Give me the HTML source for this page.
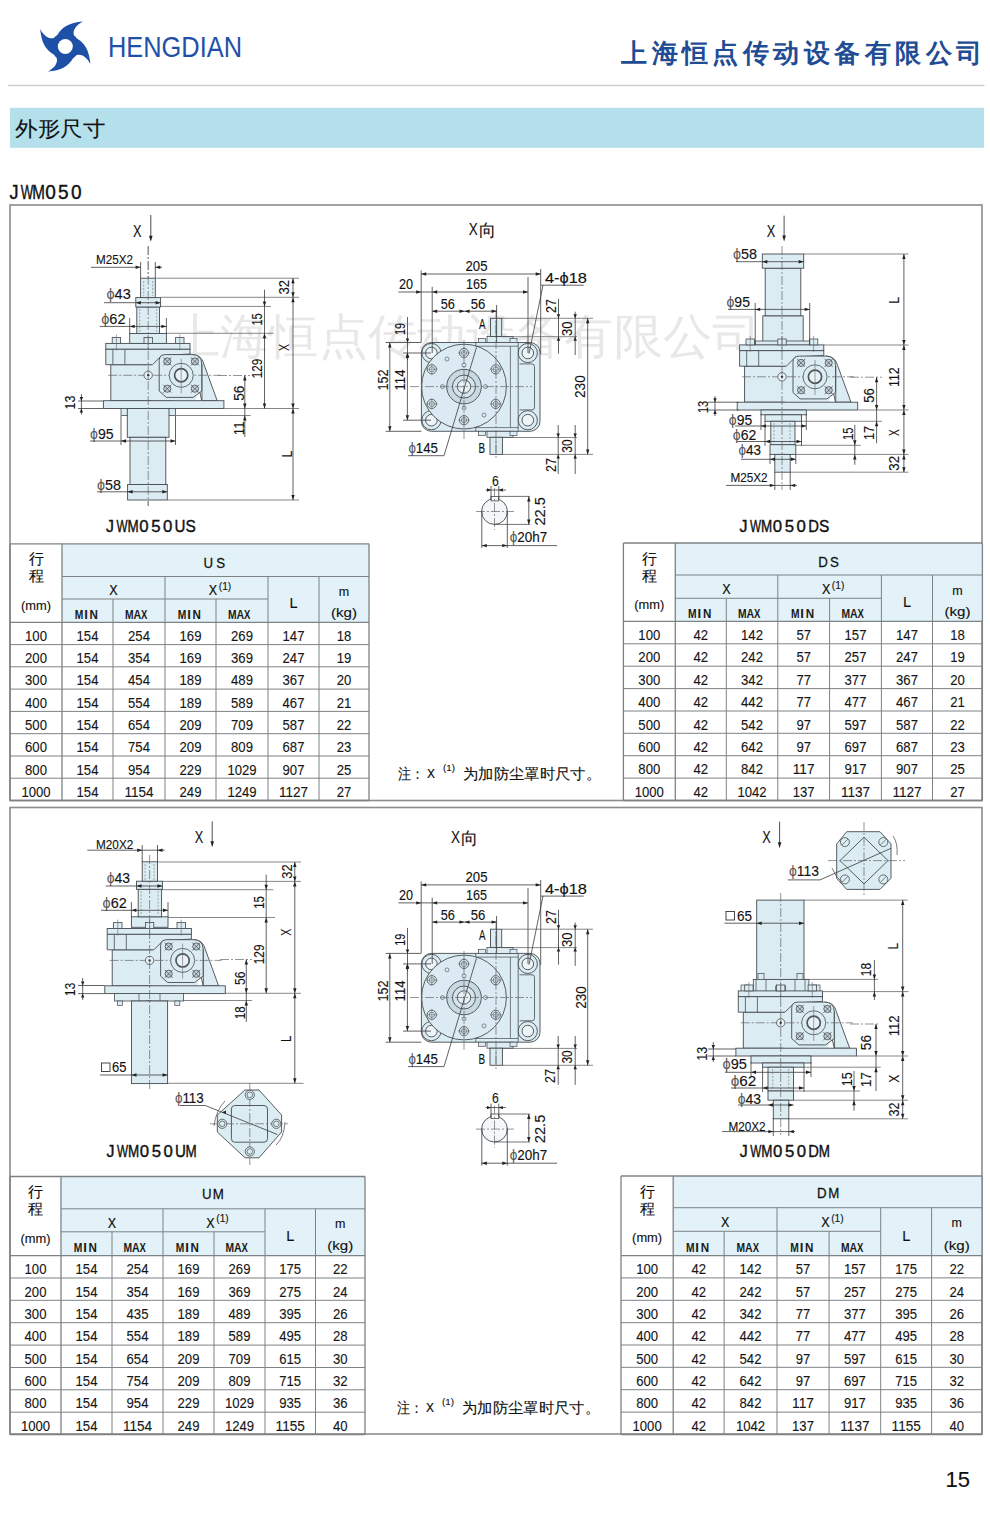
<!DOCTYPE html><html><head><meta charset="utf-8"><style>html,body{margin:0;padding:0;background:#fff;}svg{display:block}</style></head><body>
<svg width="990" height="1513" viewBox="0 0 990 1513">
<rect x="0.0" y="0.0" width="990.0" height="1513.0" fill="#fff" stroke="none" stroke-width="1"/>
<g fill="#1f50a8">
<path transform="translate(65.3,46.5) rotate(0)" d="M 0 0 L -7.9 -11.5 C -3.5 -19.5 4 -24 17.6 -25.1 C 10.5 -21.5 7.2 -16 8.6 -11.5 C 9.5 -9 10.5 -8.3 11.5 -7.9 Z"/>
<path transform="translate(65.3,46.5) rotate(90)" d="M 0 0 L -7.9 -11.5 C -3.5 -19.5 4 -24 17.6 -25.1 C 10.5 -21.5 7.2 -16 8.6 -11.5 C 9.5 -9 10.5 -8.3 11.5 -7.9 Z"/>
<path transform="translate(65.3,46.5) rotate(180)" d="M 0 0 L -7.9 -11.5 C -3.5 -19.5 4 -24 17.6 -25.1 C 10.5 -21.5 7.2 -16 8.6 -11.5 C 9.5 -9 10.5 -8.3 11.5 -7.9 Z"/>
<path transform="translate(65.3,46.5) rotate(270)" d="M 0 0 L -7.9 -11.5 C -3.5 -19.5 4 -24 17.6 -25.1 C 10.5 -21.5 7.2 -16 8.6 -11.5 C 9.5 -9 10.5 -8.3 11.5 -7.9 Z"/>
<circle cx="65.3" cy="46.5" r="14"/>
</g>
<circle cx="65.3" cy="46.5" r="7.5" fill="#fff"/>
<text x="108.0" y="56.8" font-size="29" text-anchor="start" fill="#1f50a8" style="font-family:'Liberation Sans',sans-serif;font-weight:normal;" textLength="134" lengthAdjust="spacingAndGlyphs">HENGDIAN</text>
<text x="634.0" y="62.0" font-size="26" text-anchor="middle" fill="#1f4c94" style="font-family:'Liberation Sans',sans-serif;font-weight:bold;">上</text>
<text x="664.5" y="62.0" font-size="26" text-anchor="middle" fill="#1f4c94" style="font-family:'Liberation Sans',sans-serif;font-weight:bold;">海</text>
<text x="694.9" y="62.0" font-size="26" text-anchor="middle" fill="#1f4c94" style="font-family:'Liberation Sans',sans-serif;font-weight:bold;">恒</text>
<text x="725.4" y="62.0" font-size="26" text-anchor="middle" fill="#1f4c94" style="font-family:'Liberation Sans',sans-serif;font-weight:bold;">点</text>
<text x="755.8" y="62.0" font-size="26" text-anchor="middle" fill="#1f4c94" style="font-family:'Liberation Sans',sans-serif;font-weight:bold;">传</text>
<text x="786.2" y="62.0" font-size="26" text-anchor="middle" fill="#1f4c94" style="font-family:'Liberation Sans',sans-serif;font-weight:bold;">动</text>
<text x="816.7" y="62.0" font-size="26" text-anchor="middle" fill="#1f4c94" style="font-family:'Liberation Sans',sans-serif;font-weight:bold;">设</text>
<text x="847.1" y="62.0" font-size="26" text-anchor="middle" fill="#1f4c94" style="font-family:'Liberation Sans',sans-serif;font-weight:bold;">备</text>
<text x="877.6" y="62.0" font-size="26" text-anchor="middle" fill="#1f4c94" style="font-family:'Liberation Sans',sans-serif;font-weight:bold;">有</text>
<text x="908.0" y="62.0" font-size="26" text-anchor="middle" fill="#1f4c94" style="font-family:'Liberation Sans',sans-serif;font-weight:bold;">限</text>
<text x="938.5" y="62.0" font-size="26" text-anchor="middle" fill="#1f4c94" style="font-family:'Liberation Sans',sans-serif;font-weight:bold;">公</text>
<text x="969.0" y="62.0" font-size="26" text-anchor="middle" fill="#1f4c94" style="font-family:'Liberation Sans',sans-serif;font-weight:bold;">司</text>
<line x1="8.0" y1="85.5" x2="984.5" y2="85.5" stroke="#cfcfcf" stroke-width="1.6"/>
<rect x="10.0" y="107.8" width="974.0" height="40.0" fill="#b4e0ec" stroke="none" stroke-width="1"/>
<text x="15.0" y="136.0" font-size="21" text-anchor="start" fill="#111" style="font-family:'Liberation Sans',sans-serif;font-weight:normal;stroke:#111;stroke-width:0.12px;" textLength="90" lengthAdjust="spacingAndGlyphs">外形尺寸</text>
<text transform="translate(13.9,198.5) scale(0.926,1)" font-size="19.5" text-anchor="middle" fill="#111" style="font-family:'Liberation Sans',sans-serif;stroke:#111;stroke-width:0.4px">J</text>
<text transform="translate(27.0,198.5) scale(0.682,1)" font-size="19.5" text-anchor="middle" fill="#111" style="font-family:'Liberation Sans',sans-serif;stroke:#111;stroke-width:0.4px">W</text>
<text transform="translate(38.6,198.5) scale(0.780,1)" font-size="19.5" text-anchor="middle" fill="#111" style="font-family:'Liberation Sans',sans-serif;stroke:#111;stroke-width:0.4px">M</text>
<text transform="translate(50.5,198.5) scale(0.975,1)" font-size="19.5" text-anchor="middle" fill="#111" style="font-family:'Liberation Sans',sans-serif;stroke:#111;stroke-width:0.4px">0</text>
<text transform="translate(63.4,198.5) scale(0.975,1)" font-size="19.5" text-anchor="middle" fill="#111" style="font-family:'Liberation Sans',sans-serif;stroke:#111;stroke-width:0.4px">5</text>
<text transform="translate(76.3,198.5) scale(0.975,1)" font-size="19.5" text-anchor="middle" fill="#111" style="font-family:'Liberation Sans',sans-serif;stroke:#111;stroke-width:0.4px">0</text>
<rect x="10.0" y="205.0" width="972.0" height="595.5" fill="none" stroke="#8c8c8c" stroke-width="1.6"/>
<rect x="10.0" y="807.5" width="972.0" height="626.5" fill="none" stroke="#8c8c8c" stroke-width="1.6"/>
<text x="171.0" y="352.5" font-size="48" text-anchor="start" fill="#e8e8e8" style="font-family:'Liberation Sans',sans-serif;font-weight:normal;" textLength="590" lengthAdjust="spacingAndGlyphs">上海恒点传动设备有限公司</text>
<rect x="62.0" y="543.8" width="307.0" height="78.5" fill="#e2f2f8" stroke="none" stroke-width="1"/>
<line x1="10.0" y1="543.8" x2="369.0" y2="543.8" stroke="#7d8285" stroke-width="1.3"/>
<line x1="62.0" y1="576.5" x2="369.0" y2="576.5" stroke="#7d8285" stroke-width="1"/>
<line x1="62.0" y1="599.0" x2="268.0" y2="599.0" stroke="#7d8285" stroke-width="1"/>
<line x1="10.0" y1="622.3" x2="369.0" y2="622.3" stroke="#7d8285" stroke-width="1.3"/>
<line x1="10.0" y1="644.6" x2="369.0" y2="644.6" stroke="#7d8285" stroke-width="1"/>
<line x1="10.0" y1="666.8" x2="369.0" y2="666.8" stroke="#7d8285" stroke-width="1"/>
<line x1="10.0" y1="689.1" x2="369.0" y2="689.1" stroke="#7d8285" stroke-width="1"/>
<line x1="10.0" y1="711.4" x2="369.0" y2="711.4" stroke="#7d8285" stroke-width="1"/>
<line x1="10.0" y1="733.7" x2="369.0" y2="733.7" stroke="#7d8285" stroke-width="1"/>
<line x1="10.0" y1="756.0" x2="369.0" y2="756.0" stroke="#7d8285" stroke-width="1"/>
<line x1="10.0" y1="778.2" x2="369.0" y2="778.2" stroke="#7d8285" stroke-width="1"/>
<line x1="10.0" y1="800.5" x2="369.0" y2="800.5" stroke="#7d8285" stroke-width="1.5"/>
<line x1="10.0" y1="543.8" x2="10.0" y2="800.5" stroke="#7d8285" stroke-width="1.3"/>
<line x1="369.0" y1="543.8" x2="369.0" y2="800.5" stroke="#7d8285" stroke-width="1.3"/>
<line x1="62.0" y1="543.8" x2="62.0" y2="800.5" stroke="#7d8285" stroke-width="1.3"/>
<line x1="165.0" y1="576.5" x2="165.0" y2="800.5" stroke="#7d8285" stroke-width="1"/>
<line x1="268.0" y1="576.5" x2="268.0" y2="800.5" stroke="#7d8285" stroke-width="1"/>
<line x1="319.0" y1="576.5" x2="319.0" y2="800.5" stroke="#7d8285" stroke-width="1"/>
<line x1="113.0" y1="599.0" x2="113.0" y2="800.5" stroke="#7d8285" stroke-width="1"/>
<line x1="216.0" y1="599.0" x2="216.0" y2="800.5" stroke="#7d8285" stroke-width="1"/>
<text x="36.0" y="564.3" font-size="15" text-anchor="middle" fill="#111" style="font-family:'Liberation Sans',sans-serif;font-weight:normal;stroke:#111;stroke-width:0.12px;">行</text>
<text x="36.0" y="581.3" font-size="15" text-anchor="middle" fill="#111" style="font-family:'Liberation Sans',sans-serif;font-weight:normal;stroke:#111;stroke-width:0.12px;">程</text>
<text x="36.0" y="609.8" font-size="12" text-anchor="middle" fill="#111" style="font-family:'Liberation Sans',sans-serif;font-weight:normal;stroke:#111;stroke-width:0.12px;" textLength="30" lengthAdjust="spacingAndGlyphs">(mm)</text>
<text transform="translate(208.2,567.5) scale(0.95,1)" font-size="14" text-anchor="middle" fill="#111" style="font-family:'Liberation Sans',sans-serif;stroke:#111;stroke-width:0.25px">U</text>
<text transform="translate(220.8,567.5) scale(0.95,1)" font-size="14" text-anchor="middle" fill="#111" style="font-family:'Liberation Sans',sans-serif;stroke:#111;stroke-width:0.25px">S</text>
<text x="113.5" y="595.0" font-size="14" text-anchor="middle" fill="#111" style="font-family:'Liberation Mono',monospace;font-weight:normal;stroke:#111;stroke-width:0.12px;">X</text>
<text x="213.0" y="595.0" font-size="14" text-anchor="middle" fill="#111" style="font-family:'Liberation Mono',monospace;font-weight:normal;stroke:#111;stroke-width:0.12px;">X</text>
<text x="225.0" y="589.5" font-size="10" text-anchor="middle" fill="#111" style="font-family:'Liberation Sans',sans-serif;font-weight:normal;stroke:#111;stroke-width:0.1px;" textLength="12.5" lengthAdjust="spacingAndGlyphs">(1)</text>
<text transform="translate(79.1,619.0) scale(0.78,1)" font-size="13.2" text-anchor="middle" fill="#1a1a1a" style="font-family:'Liberation Sans',sans-serif;font-weight:bold">M</text>
<text transform="translate(86.0,619.0) scale(1.0,1)" font-size="13.2" text-anchor="middle" fill="#1a1a1a" style="font-family:'Liberation Sans',sans-serif;font-weight:bold">I</text>
<text transform="translate(93.8,619.0) scale(0.88,1)" font-size="13.2" text-anchor="middle" fill="#1a1a1a" style="font-family:'Liberation Sans',sans-serif;font-weight:bold">N</text>
<text transform="translate(129.3,619.0) scale(0.78,1)" font-size="13.2" text-anchor="middle" fill="#1a1a1a" style="font-family:'Liberation Sans',sans-serif;font-weight:bold">M</text>
<text transform="translate(137.3,619.0) scale(0.8,1)" font-size="13.2" text-anchor="middle" fill="#1a1a1a" style="font-family:'Liberation Sans',sans-serif;font-weight:bold">A</text>
<text transform="translate(144.2,619.0) scale(0.72,1)" font-size="13.2" text-anchor="middle" fill="#1a1a1a" style="font-family:'Liberation Sans',sans-serif;font-weight:bold">X</text>
<text transform="translate(182.1,619.0) scale(0.78,1)" font-size="13.2" text-anchor="middle" fill="#1a1a1a" style="font-family:'Liberation Sans',sans-serif;font-weight:bold">M</text>
<text transform="translate(189.0,619.0) scale(1.0,1)" font-size="13.2" text-anchor="middle" fill="#1a1a1a" style="font-family:'Liberation Sans',sans-serif;font-weight:bold">I</text>
<text transform="translate(196.8,619.0) scale(0.88,1)" font-size="13.2" text-anchor="middle" fill="#1a1a1a" style="font-family:'Liberation Sans',sans-serif;font-weight:bold">N</text>
<text transform="translate(232.3,619.0) scale(0.78,1)" font-size="13.2" text-anchor="middle" fill="#1a1a1a" style="font-family:'Liberation Sans',sans-serif;font-weight:bold">M</text>
<text transform="translate(240.3,619.0) scale(0.8,1)" font-size="13.2" text-anchor="middle" fill="#1a1a1a" style="font-family:'Liberation Sans',sans-serif;font-weight:bold">A</text>
<text transform="translate(247.2,619.0) scale(0.72,1)" font-size="13.2" text-anchor="middle" fill="#1a1a1a" style="font-family:'Liberation Sans',sans-serif;font-weight:bold">X</text>
<text x="293.5" y="608.4" font-size="14.5" text-anchor="middle" fill="#111" style="font-family:'Liberation Sans',sans-serif;font-weight:normal;stroke:#111;stroke-width:0.12px;">L</text>
<text x="344.0" y="596.0" font-size="12.5" text-anchor="middle" fill="#111" style="font-family:'Liberation Sans',sans-serif;font-weight:normal;stroke:#111;stroke-width:0.12px;">m</text>
<text x="344.0" y="616.8" font-size="12.5" text-anchor="middle" fill="#111" style="font-family:'Liberation Sans',sans-serif;font-weight:normal;stroke:#111;stroke-width:0.12px;" textLength="26" lengthAdjust="spacingAndGlyphs">(kg)</text>
<text x="36.0" y="640.8" font-size="15.5" text-anchor="middle" fill="#161616" style="font-family:'Liberation Sans',sans-serif;font-weight:normal;stroke:#161616;stroke-width:0.12px;" textLength="21.9" lengthAdjust="spacingAndGlyphs">100</text>
<text x="87.5" y="640.8" font-size="15.5" text-anchor="middle" fill="#161616" style="font-family:'Liberation Sans',sans-serif;font-weight:normal;stroke:#161616;stroke-width:0.12px;" textLength="21.9" lengthAdjust="spacingAndGlyphs">154</text>
<text x="139.0" y="640.8" font-size="15.5" text-anchor="middle" fill="#161616" style="font-family:'Liberation Sans',sans-serif;font-weight:normal;stroke:#161616;stroke-width:0.12px;" textLength="21.9" lengthAdjust="spacingAndGlyphs">254</text>
<text x="190.5" y="640.8" font-size="15.5" text-anchor="middle" fill="#161616" style="font-family:'Liberation Sans',sans-serif;font-weight:normal;stroke:#161616;stroke-width:0.12px;" textLength="21.9" lengthAdjust="spacingAndGlyphs">169</text>
<text x="242.0" y="640.8" font-size="15.5" text-anchor="middle" fill="#161616" style="font-family:'Liberation Sans',sans-serif;font-weight:normal;stroke:#161616;stroke-width:0.12px;" textLength="21.9" lengthAdjust="spacingAndGlyphs">269</text>
<text x="293.5" y="640.8" font-size="15.5" text-anchor="middle" fill="#161616" style="font-family:'Liberation Sans',sans-serif;font-weight:normal;stroke:#161616;stroke-width:0.12px;" textLength="21.9" lengthAdjust="spacingAndGlyphs">147</text>
<text x="344.0" y="640.8" font-size="15.5" text-anchor="middle" fill="#161616" style="font-family:'Liberation Sans',sans-serif;font-weight:normal;stroke:#161616;stroke-width:0.12px;" textLength="14.6" lengthAdjust="spacingAndGlyphs">18</text>
<text x="36.0" y="663.1" font-size="15.5" text-anchor="middle" fill="#161616" style="font-family:'Liberation Sans',sans-serif;font-weight:normal;stroke:#161616;stroke-width:0.12px;" textLength="21.9" lengthAdjust="spacingAndGlyphs">200</text>
<text x="87.5" y="663.1" font-size="15.5" text-anchor="middle" fill="#161616" style="font-family:'Liberation Sans',sans-serif;font-weight:normal;stroke:#161616;stroke-width:0.12px;" textLength="21.9" lengthAdjust="spacingAndGlyphs">154</text>
<text x="139.0" y="663.1" font-size="15.5" text-anchor="middle" fill="#161616" style="font-family:'Liberation Sans',sans-serif;font-weight:normal;stroke:#161616;stroke-width:0.12px;" textLength="21.9" lengthAdjust="spacingAndGlyphs">354</text>
<text x="190.5" y="663.1" font-size="15.5" text-anchor="middle" fill="#161616" style="font-family:'Liberation Sans',sans-serif;font-weight:normal;stroke:#161616;stroke-width:0.12px;" textLength="21.9" lengthAdjust="spacingAndGlyphs">169</text>
<text x="242.0" y="663.1" font-size="15.5" text-anchor="middle" fill="#161616" style="font-family:'Liberation Sans',sans-serif;font-weight:normal;stroke:#161616;stroke-width:0.12px;" textLength="21.9" lengthAdjust="spacingAndGlyphs">369</text>
<text x="293.5" y="663.1" font-size="15.5" text-anchor="middle" fill="#161616" style="font-family:'Liberation Sans',sans-serif;font-weight:normal;stroke:#161616;stroke-width:0.12px;" textLength="21.9" lengthAdjust="spacingAndGlyphs">247</text>
<text x="344.0" y="663.1" font-size="15.5" text-anchor="middle" fill="#161616" style="font-family:'Liberation Sans',sans-serif;font-weight:normal;stroke:#161616;stroke-width:0.12px;" textLength="14.6" lengthAdjust="spacingAndGlyphs">19</text>
<text x="36.0" y="685.4" font-size="15.5" text-anchor="middle" fill="#161616" style="font-family:'Liberation Sans',sans-serif;font-weight:normal;stroke:#161616;stroke-width:0.12px;" textLength="21.9" lengthAdjust="spacingAndGlyphs">300</text>
<text x="87.5" y="685.4" font-size="15.5" text-anchor="middle" fill="#161616" style="font-family:'Liberation Sans',sans-serif;font-weight:normal;stroke:#161616;stroke-width:0.12px;" textLength="21.9" lengthAdjust="spacingAndGlyphs">154</text>
<text x="139.0" y="685.4" font-size="15.5" text-anchor="middle" fill="#161616" style="font-family:'Liberation Sans',sans-serif;font-weight:normal;stroke:#161616;stroke-width:0.12px;" textLength="21.9" lengthAdjust="spacingAndGlyphs">454</text>
<text x="190.5" y="685.4" font-size="15.5" text-anchor="middle" fill="#161616" style="font-family:'Liberation Sans',sans-serif;font-weight:normal;stroke:#161616;stroke-width:0.12px;" textLength="21.9" lengthAdjust="spacingAndGlyphs">189</text>
<text x="242.0" y="685.4" font-size="15.5" text-anchor="middle" fill="#161616" style="font-family:'Liberation Sans',sans-serif;font-weight:normal;stroke:#161616;stroke-width:0.12px;" textLength="21.9" lengthAdjust="spacingAndGlyphs">489</text>
<text x="293.5" y="685.4" font-size="15.5" text-anchor="middle" fill="#161616" style="font-family:'Liberation Sans',sans-serif;font-weight:normal;stroke:#161616;stroke-width:0.12px;" textLength="21.9" lengthAdjust="spacingAndGlyphs">367</text>
<text x="344.0" y="685.4" font-size="15.5" text-anchor="middle" fill="#161616" style="font-family:'Liberation Sans',sans-serif;font-weight:normal;stroke:#161616;stroke-width:0.12px;" textLength="14.6" lengthAdjust="spacingAndGlyphs">20</text>
<text x="36.0" y="707.7" font-size="15.5" text-anchor="middle" fill="#161616" style="font-family:'Liberation Sans',sans-serif;font-weight:normal;stroke:#161616;stroke-width:0.12px;" textLength="21.9" lengthAdjust="spacingAndGlyphs">400</text>
<text x="87.5" y="707.7" font-size="15.5" text-anchor="middle" fill="#161616" style="font-family:'Liberation Sans',sans-serif;font-weight:normal;stroke:#161616;stroke-width:0.12px;" textLength="21.9" lengthAdjust="spacingAndGlyphs">154</text>
<text x="139.0" y="707.7" font-size="15.5" text-anchor="middle" fill="#161616" style="font-family:'Liberation Sans',sans-serif;font-weight:normal;stroke:#161616;stroke-width:0.12px;" textLength="21.9" lengthAdjust="spacingAndGlyphs">554</text>
<text x="190.5" y="707.7" font-size="15.5" text-anchor="middle" fill="#161616" style="font-family:'Liberation Sans',sans-serif;font-weight:normal;stroke:#161616;stroke-width:0.12px;" textLength="21.9" lengthAdjust="spacingAndGlyphs">189</text>
<text x="242.0" y="707.7" font-size="15.5" text-anchor="middle" fill="#161616" style="font-family:'Liberation Sans',sans-serif;font-weight:normal;stroke:#161616;stroke-width:0.12px;" textLength="21.9" lengthAdjust="spacingAndGlyphs">589</text>
<text x="293.5" y="707.7" font-size="15.5" text-anchor="middle" fill="#161616" style="font-family:'Liberation Sans',sans-serif;font-weight:normal;stroke:#161616;stroke-width:0.12px;" textLength="21.9" lengthAdjust="spacingAndGlyphs">467</text>
<text x="344.0" y="707.7" font-size="15.5" text-anchor="middle" fill="#161616" style="font-family:'Liberation Sans',sans-serif;font-weight:normal;stroke:#161616;stroke-width:0.12px;" textLength="14.6" lengthAdjust="spacingAndGlyphs">21</text>
<text x="36.0" y="729.9" font-size="15.5" text-anchor="middle" fill="#161616" style="font-family:'Liberation Sans',sans-serif;font-weight:normal;stroke:#161616;stroke-width:0.12px;" textLength="21.9" lengthAdjust="spacingAndGlyphs">500</text>
<text x="87.5" y="729.9" font-size="15.5" text-anchor="middle" fill="#161616" style="font-family:'Liberation Sans',sans-serif;font-weight:normal;stroke:#161616;stroke-width:0.12px;" textLength="21.9" lengthAdjust="spacingAndGlyphs">154</text>
<text x="139.0" y="729.9" font-size="15.5" text-anchor="middle" fill="#161616" style="font-family:'Liberation Sans',sans-serif;font-weight:normal;stroke:#161616;stroke-width:0.12px;" textLength="21.9" lengthAdjust="spacingAndGlyphs">654</text>
<text x="190.5" y="729.9" font-size="15.5" text-anchor="middle" fill="#161616" style="font-family:'Liberation Sans',sans-serif;font-weight:normal;stroke:#161616;stroke-width:0.12px;" textLength="21.9" lengthAdjust="spacingAndGlyphs">209</text>
<text x="242.0" y="729.9" font-size="15.5" text-anchor="middle" fill="#161616" style="font-family:'Liberation Sans',sans-serif;font-weight:normal;stroke:#161616;stroke-width:0.12px;" textLength="21.9" lengthAdjust="spacingAndGlyphs">709</text>
<text x="293.5" y="729.9" font-size="15.5" text-anchor="middle" fill="#161616" style="font-family:'Liberation Sans',sans-serif;font-weight:normal;stroke:#161616;stroke-width:0.12px;" textLength="21.9" lengthAdjust="spacingAndGlyphs">587</text>
<text x="344.0" y="729.9" font-size="15.5" text-anchor="middle" fill="#161616" style="font-family:'Liberation Sans',sans-serif;font-weight:normal;stroke:#161616;stroke-width:0.12px;" textLength="14.6" lengthAdjust="spacingAndGlyphs">22</text>
<text x="36.0" y="752.2" font-size="15.5" text-anchor="middle" fill="#161616" style="font-family:'Liberation Sans',sans-serif;font-weight:normal;stroke:#161616;stroke-width:0.12px;" textLength="21.9" lengthAdjust="spacingAndGlyphs">600</text>
<text x="87.5" y="752.2" font-size="15.5" text-anchor="middle" fill="#161616" style="font-family:'Liberation Sans',sans-serif;font-weight:normal;stroke:#161616;stroke-width:0.12px;" textLength="21.9" lengthAdjust="spacingAndGlyphs">154</text>
<text x="139.0" y="752.2" font-size="15.5" text-anchor="middle" fill="#161616" style="font-family:'Liberation Sans',sans-serif;font-weight:normal;stroke:#161616;stroke-width:0.12px;" textLength="21.9" lengthAdjust="spacingAndGlyphs">754</text>
<text x="190.5" y="752.2" font-size="15.5" text-anchor="middle" fill="#161616" style="font-family:'Liberation Sans',sans-serif;font-weight:normal;stroke:#161616;stroke-width:0.12px;" textLength="21.9" lengthAdjust="spacingAndGlyphs">209</text>
<text x="242.0" y="752.2" font-size="15.5" text-anchor="middle" fill="#161616" style="font-family:'Liberation Sans',sans-serif;font-weight:normal;stroke:#161616;stroke-width:0.12px;" textLength="21.9" lengthAdjust="spacingAndGlyphs">809</text>
<text x="293.5" y="752.2" font-size="15.5" text-anchor="middle" fill="#161616" style="font-family:'Liberation Sans',sans-serif;font-weight:normal;stroke:#161616;stroke-width:0.12px;" textLength="21.9" lengthAdjust="spacingAndGlyphs">687</text>
<text x="344.0" y="752.2" font-size="15.5" text-anchor="middle" fill="#161616" style="font-family:'Liberation Sans',sans-serif;font-weight:normal;stroke:#161616;stroke-width:0.12px;" textLength="14.6" lengthAdjust="spacingAndGlyphs">23</text>
<text x="36.0" y="774.5" font-size="15.5" text-anchor="middle" fill="#161616" style="font-family:'Liberation Sans',sans-serif;font-weight:normal;stroke:#161616;stroke-width:0.12px;" textLength="21.9" lengthAdjust="spacingAndGlyphs">800</text>
<text x="87.5" y="774.5" font-size="15.5" text-anchor="middle" fill="#161616" style="font-family:'Liberation Sans',sans-serif;font-weight:normal;stroke:#161616;stroke-width:0.12px;" textLength="21.9" lengthAdjust="spacingAndGlyphs">154</text>
<text x="139.0" y="774.5" font-size="15.5" text-anchor="middle" fill="#161616" style="font-family:'Liberation Sans',sans-serif;font-weight:normal;stroke:#161616;stroke-width:0.12px;" textLength="21.9" lengthAdjust="spacingAndGlyphs">954</text>
<text x="190.5" y="774.5" font-size="15.5" text-anchor="middle" fill="#161616" style="font-family:'Liberation Sans',sans-serif;font-weight:normal;stroke:#161616;stroke-width:0.12px;" textLength="21.9" lengthAdjust="spacingAndGlyphs">229</text>
<text x="242.0" y="774.5" font-size="15.5" text-anchor="middle" fill="#161616" style="font-family:'Liberation Sans',sans-serif;font-weight:normal;stroke:#161616;stroke-width:0.12px;" textLength="29.2" lengthAdjust="spacingAndGlyphs">1029</text>
<text x="293.5" y="774.5" font-size="15.5" text-anchor="middle" fill="#161616" style="font-family:'Liberation Sans',sans-serif;font-weight:normal;stroke:#161616;stroke-width:0.12px;" textLength="21.9" lengthAdjust="spacingAndGlyphs">907</text>
<text x="344.0" y="774.5" font-size="15.5" text-anchor="middle" fill="#161616" style="font-family:'Liberation Sans',sans-serif;font-weight:normal;stroke:#161616;stroke-width:0.12px;" textLength="14.6" lengthAdjust="spacingAndGlyphs">25</text>
<text x="36.0" y="796.8" font-size="15.5" text-anchor="middle" fill="#161616" style="font-family:'Liberation Sans',sans-serif;font-weight:normal;stroke:#161616;stroke-width:0.12px;" textLength="29.2" lengthAdjust="spacingAndGlyphs">1000</text>
<text x="87.5" y="796.8" font-size="15.5" text-anchor="middle" fill="#161616" style="font-family:'Liberation Sans',sans-serif;font-weight:normal;stroke:#161616;stroke-width:0.12px;" textLength="21.9" lengthAdjust="spacingAndGlyphs">154</text>
<text x="139.0" y="796.8" font-size="15.5" text-anchor="middle" fill="#161616" style="font-family:'Liberation Sans',sans-serif;font-weight:normal;stroke:#161616;stroke-width:0.12px;" textLength="29.2" lengthAdjust="spacingAndGlyphs">1154</text>
<text x="190.5" y="796.8" font-size="15.5" text-anchor="middle" fill="#161616" style="font-family:'Liberation Sans',sans-serif;font-weight:normal;stroke:#161616;stroke-width:0.12px;" textLength="21.9" lengthAdjust="spacingAndGlyphs">249</text>
<text x="242.0" y="796.8" font-size="15.5" text-anchor="middle" fill="#161616" style="font-family:'Liberation Sans',sans-serif;font-weight:normal;stroke:#161616;stroke-width:0.12px;" textLength="29.2" lengthAdjust="spacingAndGlyphs">1249</text>
<text x="293.5" y="796.8" font-size="15.5" text-anchor="middle" fill="#161616" style="font-family:'Liberation Sans',sans-serif;font-weight:normal;stroke:#161616;stroke-width:0.12px;" textLength="29.2" lengthAdjust="spacingAndGlyphs">1127</text>
<text x="344.0" y="796.8" font-size="15.5" text-anchor="middle" fill="#161616" style="font-family:'Liberation Sans',sans-serif;font-weight:normal;stroke:#161616;stroke-width:0.12px;" textLength="14.6" lengthAdjust="spacingAndGlyphs">27</text>
<rect x="675.3" y="543.0" width="307.1" height="78.4" fill="#e2f2f8" stroke="none" stroke-width="1"/>
<line x1="623.4" y1="543.0" x2="982.4" y2="543.0" stroke="#7d8285" stroke-width="1.3"/>
<line x1="675.3" y1="575.0" x2="982.4" y2="575.0" stroke="#7d8285" stroke-width="1"/>
<line x1="675.3" y1="598.3" x2="881.4" y2="598.3" stroke="#7d8285" stroke-width="1"/>
<line x1="623.4" y1="621.4" x2="982.4" y2="621.4" stroke="#7d8285" stroke-width="1.3"/>
<line x1="623.4" y1="643.8" x2="982.4" y2="643.8" stroke="#7d8285" stroke-width="1"/>
<line x1="623.4" y1="666.2" x2="982.4" y2="666.2" stroke="#7d8285" stroke-width="1"/>
<line x1="623.4" y1="688.6" x2="982.4" y2="688.6" stroke="#7d8285" stroke-width="1"/>
<line x1="623.4" y1="711.0" x2="982.4" y2="711.0" stroke="#7d8285" stroke-width="1"/>
<line x1="623.4" y1="733.3" x2="982.4" y2="733.3" stroke="#7d8285" stroke-width="1"/>
<line x1="623.4" y1="755.7" x2="982.4" y2="755.7" stroke="#7d8285" stroke-width="1"/>
<line x1="623.4" y1="778.1" x2="982.4" y2="778.1" stroke="#7d8285" stroke-width="1"/>
<line x1="623.4" y1="800.5" x2="982.4" y2="800.5" stroke="#7d8285" stroke-width="1.5"/>
<line x1="623.4" y1="543.0" x2="623.4" y2="800.5" stroke="#7d8285" stroke-width="1.3"/>
<line x1="982.4" y1="543.0" x2="982.4" y2="800.5" stroke="#7d8285" stroke-width="1.3"/>
<line x1="675.3" y1="543.0" x2="675.3" y2="800.5" stroke="#7d8285" stroke-width="1.3"/>
<line x1="777.8" y1="575.0" x2="777.8" y2="800.5" stroke="#7d8285" stroke-width="1"/>
<line x1="881.4" y1="575.0" x2="881.4" y2="800.5" stroke="#7d8285" stroke-width="1"/>
<line x1="932.5" y1="575.0" x2="932.5" y2="800.5" stroke="#7d8285" stroke-width="1"/>
<line x1="726.3" y1="598.3" x2="726.3" y2="800.5" stroke="#7d8285" stroke-width="1"/>
<line x1="829.6" y1="598.3" x2="829.6" y2="800.5" stroke="#7d8285" stroke-width="1"/>
<text x="649.3" y="563.5" font-size="15" text-anchor="middle" fill="#111" style="font-family:'Liberation Sans',sans-serif;font-weight:normal;stroke:#111;stroke-width:0.12px;">行</text>
<text x="649.3" y="580.5" font-size="15" text-anchor="middle" fill="#111" style="font-family:'Liberation Sans',sans-serif;font-weight:normal;stroke:#111;stroke-width:0.12px;">程</text>
<text x="649.3" y="609.0" font-size="12" text-anchor="middle" fill="#111" style="font-family:'Liberation Sans',sans-serif;font-weight:normal;stroke:#111;stroke-width:0.12px;" textLength="30" lengthAdjust="spacingAndGlyphs">(mm)</text>
<text transform="translate(823.0,567.0) scale(0.95,1)" font-size="14" text-anchor="middle" fill="#111" style="font-family:'Liberation Sans',sans-serif;stroke:#111;stroke-width:0.25px">D</text>
<text transform="translate(834.5,567.0) scale(0.95,1)" font-size="14" text-anchor="middle" fill="#111" style="font-family:'Liberation Sans',sans-serif;stroke:#111;stroke-width:0.25px">S</text>
<text x="726.5" y="594.3" font-size="14" text-anchor="middle" fill="#111" style="font-family:'Liberation Mono',monospace;font-weight:normal;stroke:#111;stroke-width:0.12px;">X</text>
<text x="826.1" y="594.3" font-size="14" text-anchor="middle" fill="#111" style="font-family:'Liberation Mono',monospace;font-weight:normal;stroke:#111;stroke-width:0.12px;">X</text>
<text x="838.1" y="588.8" font-size="10" text-anchor="middle" fill="#111" style="font-family:'Liberation Sans',sans-serif;font-weight:normal;stroke:#111;stroke-width:0.1px;" textLength="12.5" lengthAdjust="spacingAndGlyphs">(1)</text>
<text transform="translate(692.4,618.1) scale(0.78,1)" font-size="13.2" text-anchor="middle" fill="#1a1a1a" style="font-family:'Liberation Sans',sans-serif;font-weight:bold">M</text>
<text transform="translate(699.3,618.1) scale(1.0,1)" font-size="13.2" text-anchor="middle" fill="#1a1a1a" style="font-family:'Liberation Sans',sans-serif;font-weight:bold">I</text>
<text transform="translate(707.1,618.1) scale(0.88,1)" font-size="13.2" text-anchor="middle" fill="#1a1a1a" style="font-family:'Liberation Sans',sans-serif;font-weight:bold">N</text>
<text transform="translate(742.3,618.1) scale(0.78,1)" font-size="13.2" text-anchor="middle" fill="#1a1a1a" style="font-family:'Liberation Sans',sans-serif;font-weight:bold">M</text>
<text transform="translate(750.3,618.1) scale(0.8,1)" font-size="13.2" text-anchor="middle" fill="#1a1a1a" style="font-family:'Liberation Sans',sans-serif;font-weight:bold">A</text>
<text transform="translate(757.2,618.1) scale(0.72,1)" font-size="13.2" text-anchor="middle" fill="#1a1a1a" style="font-family:'Liberation Sans',sans-serif;font-weight:bold">X</text>
<text transform="translate(795.3,618.1) scale(0.78,1)" font-size="13.2" text-anchor="middle" fill="#1a1a1a" style="font-family:'Liberation Sans',sans-serif;font-weight:bold">M</text>
<text transform="translate(802.2,618.1) scale(1.0,1)" font-size="13.2" text-anchor="middle" fill="#1a1a1a" style="font-family:'Liberation Sans',sans-serif;font-weight:bold">I</text>
<text transform="translate(810.0,618.1) scale(0.88,1)" font-size="13.2" text-anchor="middle" fill="#1a1a1a" style="font-family:'Liberation Sans',sans-serif;font-weight:bold">N</text>
<text transform="translate(845.8,618.1) scale(0.78,1)" font-size="13.2" text-anchor="middle" fill="#1a1a1a" style="font-family:'Liberation Sans',sans-serif;font-weight:bold">M</text>
<text transform="translate(853.8,618.1) scale(0.8,1)" font-size="13.2" text-anchor="middle" fill="#1a1a1a" style="font-family:'Liberation Sans',sans-serif;font-weight:bold">A</text>
<text transform="translate(860.7,618.1) scale(0.72,1)" font-size="13.2" text-anchor="middle" fill="#1a1a1a" style="font-family:'Liberation Sans',sans-serif;font-weight:bold">X</text>
<text x="907.0" y="607.2" font-size="14.5" text-anchor="middle" fill="#111" style="font-family:'Liberation Sans',sans-serif;font-weight:normal;stroke:#111;stroke-width:0.12px;">L</text>
<text x="957.5" y="594.5" font-size="12.5" text-anchor="middle" fill="#111" style="font-family:'Liberation Sans',sans-serif;font-weight:normal;stroke:#111;stroke-width:0.12px;">m</text>
<text x="957.5" y="615.9" font-size="12.5" text-anchor="middle" fill="#111" style="font-family:'Liberation Sans',sans-serif;font-weight:normal;stroke:#111;stroke-width:0.12px;" textLength="26" lengthAdjust="spacingAndGlyphs">(kg)</text>
<text x="649.3" y="640.0" font-size="15.5" text-anchor="middle" fill="#161616" style="font-family:'Liberation Sans',sans-serif;font-weight:normal;stroke:#161616;stroke-width:0.12px;" textLength="21.9" lengthAdjust="spacingAndGlyphs">100</text>
<text x="700.8" y="640.0" font-size="15.5" text-anchor="middle" fill="#161616" style="font-family:'Liberation Sans',sans-serif;font-weight:normal;stroke:#161616;stroke-width:0.12px;" textLength="14.6" lengthAdjust="spacingAndGlyphs">42</text>
<text x="752.0" y="640.0" font-size="15.5" text-anchor="middle" fill="#161616" style="font-family:'Liberation Sans',sans-serif;font-weight:normal;stroke:#161616;stroke-width:0.12px;" textLength="21.9" lengthAdjust="spacingAndGlyphs">142</text>
<text x="803.7" y="640.0" font-size="15.5" text-anchor="middle" fill="#161616" style="font-family:'Liberation Sans',sans-serif;font-weight:normal;stroke:#161616;stroke-width:0.12px;" textLength="14.6" lengthAdjust="spacingAndGlyphs">57</text>
<text x="855.5" y="640.0" font-size="15.5" text-anchor="middle" fill="#161616" style="font-family:'Liberation Sans',sans-serif;font-weight:normal;stroke:#161616;stroke-width:0.12px;" textLength="21.9" lengthAdjust="spacingAndGlyphs">157</text>
<text x="907.0" y="640.0" font-size="15.5" text-anchor="middle" fill="#161616" style="font-family:'Liberation Sans',sans-serif;font-weight:normal;stroke:#161616;stroke-width:0.12px;" textLength="21.9" lengthAdjust="spacingAndGlyphs">147</text>
<text x="957.5" y="640.0" font-size="15.5" text-anchor="middle" fill="#161616" style="font-family:'Liberation Sans',sans-serif;font-weight:normal;stroke:#161616;stroke-width:0.12px;" textLength="14.6" lengthAdjust="spacingAndGlyphs">18</text>
<text x="649.3" y="662.4" font-size="15.5" text-anchor="middle" fill="#161616" style="font-family:'Liberation Sans',sans-serif;font-weight:normal;stroke:#161616;stroke-width:0.12px;" textLength="21.9" lengthAdjust="spacingAndGlyphs">200</text>
<text x="700.8" y="662.4" font-size="15.5" text-anchor="middle" fill="#161616" style="font-family:'Liberation Sans',sans-serif;font-weight:normal;stroke:#161616;stroke-width:0.12px;" textLength="14.6" lengthAdjust="spacingAndGlyphs">42</text>
<text x="752.0" y="662.4" font-size="15.5" text-anchor="middle" fill="#161616" style="font-family:'Liberation Sans',sans-serif;font-weight:normal;stroke:#161616;stroke-width:0.12px;" textLength="21.9" lengthAdjust="spacingAndGlyphs">242</text>
<text x="803.7" y="662.4" font-size="15.5" text-anchor="middle" fill="#161616" style="font-family:'Liberation Sans',sans-serif;font-weight:normal;stroke:#161616;stroke-width:0.12px;" textLength="14.6" lengthAdjust="spacingAndGlyphs">57</text>
<text x="855.5" y="662.4" font-size="15.5" text-anchor="middle" fill="#161616" style="font-family:'Liberation Sans',sans-serif;font-weight:normal;stroke:#161616;stroke-width:0.12px;" textLength="21.9" lengthAdjust="spacingAndGlyphs">257</text>
<text x="907.0" y="662.4" font-size="15.5" text-anchor="middle" fill="#161616" style="font-family:'Liberation Sans',sans-serif;font-weight:normal;stroke:#161616;stroke-width:0.12px;" textLength="21.9" lengthAdjust="spacingAndGlyphs">247</text>
<text x="957.5" y="662.4" font-size="15.5" text-anchor="middle" fill="#161616" style="font-family:'Liberation Sans',sans-serif;font-weight:normal;stroke:#161616;stroke-width:0.12px;" textLength="14.6" lengthAdjust="spacingAndGlyphs">19</text>
<text x="649.3" y="684.8" font-size="15.5" text-anchor="middle" fill="#161616" style="font-family:'Liberation Sans',sans-serif;font-weight:normal;stroke:#161616;stroke-width:0.12px;" textLength="21.9" lengthAdjust="spacingAndGlyphs">300</text>
<text x="700.8" y="684.8" font-size="15.5" text-anchor="middle" fill="#161616" style="font-family:'Liberation Sans',sans-serif;font-weight:normal;stroke:#161616;stroke-width:0.12px;" textLength="14.6" lengthAdjust="spacingAndGlyphs">42</text>
<text x="752.0" y="684.8" font-size="15.5" text-anchor="middle" fill="#161616" style="font-family:'Liberation Sans',sans-serif;font-weight:normal;stroke:#161616;stroke-width:0.12px;" textLength="21.9" lengthAdjust="spacingAndGlyphs">342</text>
<text x="803.7" y="684.8" font-size="15.5" text-anchor="middle" fill="#161616" style="font-family:'Liberation Sans',sans-serif;font-weight:normal;stroke:#161616;stroke-width:0.12px;" textLength="14.6" lengthAdjust="spacingAndGlyphs">77</text>
<text x="855.5" y="684.8" font-size="15.5" text-anchor="middle" fill="#161616" style="font-family:'Liberation Sans',sans-serif;font-weight:normal;stroke:#161616;stroke-width:0.12px;" textLength="21.9" lengthAdjust="spacingAndGlyphs">377</text>
<text x="907.0" y="684.8" font-size="15.5" text-anchor="middle" fill="#161616" style="font-family:'Liberation Sans',sans-serif;font-weight:normal;stroke:#161616;stroke-width:0.12px;" textLength="21.9" lengthAdjust="spacingAndGlyphs">367</text>
<text x="957.5" y="684.8" font-size="15.5" text-anchor="middle" fill="#161616" style="font-family:'Liberation Sans',sans-serif;font-weight:normal;stroke:#161616;stroke-width:0.12px;" textLength="14.6" lengthAdjust="spacingAndGlyphs">20</text>
<text x="649.3" y="707.2" font-size="15.5" text-anchor="middle" fill="#161616" style="font-family:'Liberation Sans',sans-serif;font-weight:normal;stroke:#161616;stroke-width:0.12px;" textLength="21.9" lengthAdjust="spacingAndGlyphs">400</text>
<text x="700.8" y="707.2" font-size="15.5" text-anchor="middle" fill="#161616" style="font-family:'Liberation Sans',sans-serif;font-weight:normal;stroke:#161616;stroke-width:0.12px;" textLength="14.6" lengthAdjust="spacingAndGlyphs">42</text>
<text x="752.0" y="707.2" font-size="15.5" text-anchor="middle" fill="#161616" style="font-family:'Liberation Sans',sans-serif;font-weight:normal;stroke:#161616;stroke-width:0.12px;" textLength="21.9" lengthAdjust="spacingAndGlyphs">442</text>
<text x="803.7" y="707.2" font-size="15.5" text-anchor="middle" fill="#161616" style="font-family:'Liberation Sans',sans-serif;font-weight:normal;stroke:#161616;stroke-width:0.12px;" textLength="14.6" lengthAdjust="spacingAndGlyphs">77</text>
<text x="855.5" y="707.2" font-size="15.5" text-anchor="middle" fill="#161616" style="font-family:'Liberation Sans',sans-serif;font-weight:normal;stroke:#161616;stroke-width:0.12px;" textLength="21.9" lengthAdjust="spacingAndGlyphs">477</text>
<text x="907.0" y="707.2" font-size="15.5" text-anchor="middle" fill="#161616" style="font-family:'Liberation Sans',sans-serif;font-weight:normal;stroke:#161616;stroke-width:0.12px;" textLength="21.9" lengthAdjust="spacingAndGlyphs">467</text>
<text x="957.5" y="707.2" font-size="15.5" text-anchor="middle" fill="#161616" style="font-family:'Liberation Sans',sans-serif;font-weight:normal;stroke:#161616;stroke-width:0.12px;" textLength="14.6" lengthAdjust="spacingAndGlyphs">21</text>
<text x="649.3" y="729.5" font-size="15.5" text-anchor="middle" fill="#161616" style="font-family:'Liberation Sans',sans-serif;font-weight:normal;stroke:#161616;stroke-width:0.12px;" textLength="21.9" lengthAdjust="spacingAndGlyphs">500</text>
<text x="700.8" y="729.5" font-size="15.5" text-anchor="middle" fill="#161616" style="font-family:'Liberation Sans',sans-serif;font-weight:normal;stroke:#161616;stroke-width:0.12px;" textLength="14.6" lengthAdjust="spacingAndGlyphs">42</text>
<text x="752.0" y="729.5" font-size="15.5" text-anchor="middle" fill="#161616" style="font-family:'Liberation Sans',sans-serif;font-weight:normal;stroke:#161616;stroke-width:0.12px;" textLength="21.9" lengthAdjust="spacingAndGlyphs">542</text>
<text x="803.7" y="729.5" font-size="15.5" text-anchor="middle" fill="#161616" style="font-family:'Liberation Sans',sans-serif;font-weight:normal;stroke:#161616;stroke-width:0.12px;" textLength="14.6" lengthAdjust="spacingAndGlyphs">97</text>
<text x="855.5" y="729.5" font-size="15.5" text-anchor="middle" fill="#161616" style="font-family:'Liberation Sans',sans-serif;font-weight:normal;stroke:#161616;stroke-width:0.12px;" textLength="21.9" lengthAdjust="spacingAndGlyphs">597</text>
<text x="907.0" y="729.5" font-size="15.5" text-anchor="middle" fill="#161616" style="font-family:'Liberation Sans',sans-serif;font-weight:normal;stroke:#161616;stroke-width:0.12px;" textLength="21.9" lengthAdjust="spacingAndGlyphs">587</text>
<text x="957.5" y="729.5" font-size="15.5" text-anchor="middle" fill="#161616" style="font-family:'Liberation Sans',sans-serif;font-weight:normal;stroke:#161616;stroke-width:0.12px;" textLength="14.6" lengthAdjust="spacingAndGlyphs">22</text>
<text x="649.3" y="751.9" font-size="15.5" text-anchor="middle" fill="#161616" style="font-family:'Liberation Sans',sans-serif;font-weight:normal;stroke:#161616;stroke-width:0.12px;" textLength="21.9" lengthAdjust="spacingAndGlyphs">600</text>
<text x="700.8" y="751.9" font-size="15.5" text-anchor="middle" fill="#161616" style="font-family:'Liberation Sans',sans-serif;font-weight:normal;stroke:#161616;stroke-width:0.12px;" textLength="14.6" lengthAdjust="spacingAndGlyphs">42</text>
<text x="752.0" y="751.9" font-size="15.5" text-anchor="middle" fill="#161616" style="font-family:'Liberation Sans',sans-serif;font-weight:normal;stroke:#161616;stroke-width:0.12px;" textLength="21.9" lengthAdjust="spacingAndGlyphs">642</text>
<text x="803.7" y="751.9" font-size="15.5" text-anchor="middle" fill="#161616" style="font-family:'Liberation Sans',sans-serif;font-weight:normal;stroke:#161616;stroke-width:0.12px;" textLength="14.6" lengthAdjust="spacingAndGlyphs">97</text>
<text x="855.5" y="751.9" font-size="15.5" text-anchor="middle" fill="#161616" style="font-family:'Liberation Sans',sans-serif;font-weight:normal;stroke:#161616;stroke-width:0.12px;" textLength="21.9" lengthAdjust="spacingAndGlyphs">697</text>
<text x="907.0" y="751.9" font-size="15.5" text-anchor="middle" fill="#161616" style="font-family:'Liberation Sans',sans-serif;font-weight:normal;stroke:#161616;stroke-width:0.12px;" textLength="21.9" lengthAdjust="spacingAndGlyphs">687</text>
<text x="957.5" y="751.9" font-size="15.5" text-anchor="middle" fill="#161616" style="font-family:'Liberation Sans',sans-serif;font-weight:normal;stroke:#161616;stroke-width:0.12px;" textLength="14.6" lengthAdjust="spacingAndGlyphs">23</text>
<text x="649.3" y="774.3" font-size="15.5" text-anchor="middle" fill="#161616" style="font-family:'Liberation Sans',sans-serif;font-weight:normal;stroke:#161616;stroke-width:0.12px;" textLength="21.9" lengthAdjust="spacingAndGlyphs">800</text>
<text x="700.8" y="774.3" font-size="15.5" text-anchor="middle" fill="#161616" style="font-family:'Liberation Sans',sans-serif;font-weight:normal;stroke:#161616;stroke-width:0.12px;" textLength="14.6" lengthAdjust="spacingAndGlyphs">42</text>
<text x="752.0" y="774.3" font-size="15.5" text-anchor="middle" fill="#161616" style="font-family:'Liberation Sans',sans-serif;font-weight:normal;stroke:#161616;stroke-width:0.12px;" textLength="21.9" lengthAdjust="spacingAndGlyphs">842</text>
<text x="803.7" y="774.3" font-size="15.5" text-anchor="middle" fill="#161616" style="font-family:'Liberation Sans',sans-serif;font-weight:normal;stroke:#161616;stroke-width:0.12px;" textLength="21.9" lengthAdjust="spacingAndGlyphs">117</text>
<text x="855.5" y="774.3" font-size="15.5" text-anchor="middle" fill="#161616" style="font-family:'Liberation Sans',sans-serif;font-weight:normal;stroke:#161616;stroke-width:0.12px;" textLength="21.9" lengthAdjust="spacingAndGlyphs">917</text>
<text x="907.0" y="774.3" font-size="15.5" text-anchor="middle" fill="#161616" style="font-family:'Liberation Sans',sans-serif;font-weight:normal;stroke:#161616;stroke-width:0.12px;" textLength="21.9" lengthAdjust="spacingAndGlyphs">907</text>
<text x="957.5" y="774.3" font-size="15.5" text-anchor="middle" fill="#161616" style="font-family:'Liberation Sans',sans-serif;font-weight:normal;stroke:#161616;stroke-width:0.12px;" textLength="14.6" lengthAdjust="spacingAndGlyphs">25</text>
<text x="649.3" y="796.7" font-size="15.5" text-anchor="middle" fill="#161616" style="font-family:'Liberation Sans',sans-serif;font-weight:normal;stroke:#161616;stroke-width:0.12px;" textLength="29.2" lengthAdjust="spacingAndGlyphs">1000</text>
<text x="700.8" y="796.7" font-size="15.5" text-anchor="middle" fill="#161616" style="font-family:'Liberation Sans',sans-serif;font-weight:normal;stroke:#161616;stroke-width:0.12px;" textLength="14.6" lengthAdjust="spacingAndGlyphs">42</text>
<text x="752.0" y="796.7" font-size="15.5" text-anchor="middle" fill="#161616" style="font-family:'Liberation Sans',sans-serif;font-weight:normal;stroke:#161616;stroke-width:0.12px;" textLength="29.2" lengthAdjust="spacingAndGlyphs">1042</text>
<text x="803.7" y="796.7" font-size="15.5" text-anchor="middle" fill="#161616" style="font-family:'Liberation Sans',sans-serif;font-weight:normal;stroke:#161616;stroke-width:0.12px;" textLength="21.9" lengthAdjust="spacingAndGlyphs">137</text>
<text x="855.5" y="796.7" font-size="15.5" text-anchor="middle" fill="#161616" style="font-family:'Liberation Sans',sans-serif;font-weight:normal;stroke:#161616;stroke-width:0.12px;" textLength="29.2" lengthAdjust="spacingAndGlyphs">1137</text>
<text x="907.0" y="796.7" font-size="15.5" text-anchor="middle" fill="#161616" style="font-family:'Liberation Sans',sans-serif;font-weight:normal;stroke:#161616;stroke-width:0.12px;" textLength="29.2" lengthAdjust="spacingAndGlyphs">1127</text>
<text x="957.5" y="796.7" font-size="15.5" text-anchor="middle" fill="#161616" style="font-family:'Liberation Sans',sans-serif;font-weight:normal;stroke:#161616;stroke-width:0.12px;" textLength="14.6" lengthAdjust="spacingAndGlyphs">27</text>
<rect x="61.0" y="1176.5" width="304.0" height="79.1" fill="#e2f2f8" stroke="none" stroke-width="1"/>
<line x1="10.0" y1="1176.5" x2="365.0" y2="1176.5" stroke="#7d8285" stroke-width="1.3"/>
<line x1="61.0" y1="1208.8" x2="365.0" y2="1208.8" stroke="#7d8285" stroke-width="1"/>
<line x1="61.0" y1="1231.8" x2="265.0" y2="1231.8" stroke="#7d8285" stroke-width="1"/>
<line x1="10.0" y1="1255.6" x2="365.0" y2="1255.6" stroke="#7d8285" stroke-width="1.3"/>
<line x1="10.0" y1="1278.0" x2="365.0" y2="1278.0" stroke="#7d8285" stroke-width="1"/>
<line x1="10.0" y1="1300.3" x2="365.0" y2="1300.3" stroke="#7d8285" stroke-width="1"/>
<line x1="10.0" y1="1322.7" x2="365.0" y2="1322.7" stroke="#7d8285" stroke-width="1"/>
<line x1="10.0" y1="1345.1" x2="365.0" y2="1345.1" stroke="#7d8285" stroke-width="1"/>
<line x1="10.0" y1="1367.5" x2="365.0" y2="1367.5" stroke="#7d8285" stroke-width="1"/>
<line x1="10.0" y1="1389.8" x2="365.0" y2="1389.8" stroke="#7d8285" stroke-width="1"/>
<line x1="10.0" y1="1412.2" x2="365.0" y2="1412.2" stroke="#7d8285" stroke-width="1"/>
<line x1="10.0" y1="1434.6" x2="365.0" y2="1434.6" stroke="#7d8285" stroke-width="1.5"/>
<line x1="10.0" y1="1176.5" x2="10.0" y2="1434.6" stroke="#7d8285" stroke-width="1.3"/>
<line x1="365.0" y1="1176.5" x2="365.0" y2="1434.6" stroke="#7d8285" stroke-width="1.3"/>
<line x1="61.0" y1="1176.5" x2="61.0" y2="1434.6" stroke="#7d8285" stroke-width="1.3"/>
<line x1="163.0" y1="1208.8" x2="163.0" y2="1434.6" stroke="#7d8285" stroke-width="1"/>
<line x1="265.0" y1="1208.8" x2="265.0" y2="1434.6" stroke="#7d8285" stroke-width="1"/>
<line x1="315.5" y1="1208.8" x2="315.5" y2="1434.6" stroke="#7d8285" stroke-width="1"/>
<line x1="112.0" y1="1231.8" x2="112.0" y2="1434.6" stroke="#7d8285" stroke-width="1"/>
<line x1="214.0" y1="1231.8" x2="214.0" y2="1434.6" stroke="#7d8285" stroke-width="1"/>
<text x="35.5" y="1197.0" font-size="15" text-anchor="middle" fill="#111" style="font-family:'Liberation Sans',sans-serif;font-weight:normal;stroke:#111;stroke-width:0.12px;">行</text>
<text x="35.5" y="1214.0" font-size="15" text-anchor="middle" fill="#111" style="font-family:'Liberation Sans',sans-serif;font-weight:normal;stroke:#111;stroke-width:0.12px;">程</text>
<text x="35.5" y="1242.5" font-size="12" text-anchor="middle" fill="#111" style="font-family:'Liberation Sans',sans-serif;font-weight:normal;stroke:#111;stroke-width:0.12px;" textLength="30" lengthAdjust="spacingAndGlyphs">(mm)</text>
<text transform="translate(206.9,1199.2) scale(0.95,1)" font-size="14" text-anchor="middle" fill="#111" style="font-family:'Liberation Sans',sans-serif;stroke:#111;stroke-width:0.25px">U</text>
<text transform="translate(218.4,1199.2) scale(0.95,1)" font-size="14" text-anchor="middle" fill="#111" style="font-family:'Liberation Sans',sans-serif;stroke:#111;stroke-width:0.25px">M</text>
<text x="112.0" y="1227.8" font-size="14" text-anchor="middle" fill="#111" style="font-family:'Liberation Mono',monospace;font-weight:normal;stroke:#111;stroke-width:0.12px;">X</text>
<text x="210.5" y="1227.8" font-size="14" text-anchor="middle" fill="#111" style="font-family:'Liberation Mono',monospace;font-weight:normal;stroke:#111;stroke-width:0.12px;">X</text>
<text x="222.5" y="1222.3" font-size="10" text-anchor="middle" fill="#111" style="font-family:'Liberation Sans',sans-serif;font-weight:normal;stroke:#111;stroke-width:0.1px;" textLength="12.5" lengthAdjust="spacingAndGlyphs">(1)</text>
<text transform="translate(78.1,1252.3) scale(0.78,1)" font-size="13.2" text-anchor="middle" fill="#1a1a1a" style="font-family:'Liberation Sans',sans-serif;font-weight:bold">M</text>
<text transform="translate(85.0,1252.3) scale(1.0,1)" font-size="13.2" text-anchor="middle" fill="#1a1a1a" style="font-family:'Liberation Sans',sans-serif;font-weight:bold">I</text>
<text transform="translate(92.8,1252.3) scale(0.88,1)" font-size="13.2" text-anchor="middle" fill="#1a1a1a" style="font-family:'Liberation Sans',sans-serif;font-weight:bold">N</text>
<text transform="translate(127.8,1252.3) scale(0.78,1)" font-size="13.2" text-anchor="middle" fill="#1a1a1a" style="font-family:'Liberation Sans',sans-serif;font-weight:bold">M</text>
<text transform="translate(135.8,1252.3) scale(0.8,1)" font-size="13.2" text-anchor="middle" fill="#1a1a1a" style="font-family:'Liberation Sans',sans-serif;font-weight:bold">A</text>
<text transform="translate(142.7,1252.3) scale(0.72,1)" font-size="13.2" text-anchor="middle" fill="#1a1a1a" style="font-family:'Liberation Sans',sans-serif;font-weight:bold">X</text>
<text transform="translate(180.1,1252.3) scale(0.78,1)" font-size="13.2" text-anchor="middle" fill="#1a1a1a" style="font-family:'Liberation Sans',sans-serif;font-weight:bold">M</text>
<text transform="translate(187.0,1252.3) scale(1.0,1)" font-size="13.2" text-anchor="middle" fill="#1a1a1a" style="font-family:'Liberation Sans',sans-serif;font-weight:bold">I</text>
<text transform="translate(194.8,1252.3) scale(0.88,1)" font-size="13.2" text-anchor="middle" fill="#1a1a1a" style="font-family:'Liberation Sans',sans-serif;font-weight:bold">N</text>
<text transform="translate(229.8,1252.3) scale(0.78,1)" font-size="13.2" text-anchor="middle" fill="#1a1a1a" style="font-family:'Liberation Sans',sans-serif;font-weight:bold">M</text>
<text transform="translate(237.8,1252.3) scale(0.8,1)" font-size="13.2" text-anchor="middle" fill="#1a1a1a" style="font-family:'Liberation Sans',sans-serif;font-weight:bold">A</text>
<text transform="translate(244.7,1252.3) scale(0.72,1)" font-size="13.2" text-anchor="middle" fill="#1a1a1a" style="font-family:'Liberation Sans',sans-serif;font-weight:bold">X</text>
<text x="290.2" y="1241.2" font-size="14.5" text-anchor="middle" fill="#111" style="font-family:'Liberation Sans',sans-serif;font-weight:normal;stroke:#111;stroke-width:0.12px;">L</text>
<text x="340.2" y="1228.3" font-size="12.5" text-anchor="middle" fill="#111" style="font-family:'Liberation Sans',sans-serif;font-weight:normal;stroke:#111;stroke-width:0.12px;">m</text>
<text x="340.2" y="1250.1" font-size="12.5" text-anchor="middle" fill="#111" style="font-family:'Liberation Sans',sans-serif;font-weight:normal;stroke:#111;stroke-width:0.12px;" textLength="26" lengthAdjust="spacingAndGlyphs">(kg)</text>
<text x="35.5" y="1274.2" font-size="15.5" text-anchor="middle" fill="#161616" style="font-family:'Liberation Sans',sans-serif;font-weight:normal;stroke:#161616;stroke-width:0.12px;" textLength="21.9" lengthAdjust="spacingAndGlyphs">100</text>
<text x="86.5" y="1274.2" font-size="15.5" text-anchor="middle" fill="#161616" style="font-family:'Liberation Sans',sans-serif;font-weight:normal;stroke:#161616;stroke-width:0.12px;" textLength="21.9" lengthAdjust="spacingAndGlyphs">154</text>
<text x="137.5" y="1274.2" font-size="15.5" text-anchor="middle" fill="#161616" style="font-family:'Liberation Sans',sans-serif;font-weight:normal;stroke:#161616;stroke-width:0.12px;" textLength="21.9" lengthAdjust="spacingAndGlyphs">254</text>
<text x="188.5" y="1274.2" font-size="15.5" text-anchor="middle" fill="#161616" style="font-family:'Liberation Sans',sans-serif;font-weight:normal;stroke:#161616;stroke-width:0.12px;" textLength="21.9" lengthAdjust="spacingAndGlyphs">169</text>
<text x="239.5" y="1274.2" font-size="15.5" text-anchor="middle" fill="#161616" style="font-family:'Liberation Sans',sans-serif;font-weight:normal;stroke:#161616;stroke-width:0.12px;" textLength="21.9" lengthAdjust="spacingAndGlyphs">269</text>
<text x="290.2" y="1274.2" font-size="15.5" text-anchor="middle" fill="#161616" style="font-family:'Liberation Sans',sans-serif;font-weight:normal;stroke:#161616;stroke-width:0.12px;" textLength="21.9" lengthAdjust="spacingAndGlyphs">175</text>
<text x="340.2" y="1274.2" font-size="15.5" text-anchor="middle" fill="#161616" style="font-family:'Liberation Sans',sans-serif;font-weight:normal;stroke:#161616;stroke-width:0.12px;" textLength="14.6" lengthAdjust="spacingAndGlyphs">22</text>
<text x="35.5" y="1296.6" font-size="15.5" text-anchor="middle" fill="#161616" style="font-family:'Liberation Sans',sans-serif;font-weight:normal;stroke:#161616;stroke-width:0.12px;" textLength="21.9" lengthAdjust="spacingAndGlyphs">200</text>
<text x="86.5" y="1296.6" font-size="15.5" text-anchor="middle" fill="#161616" style="font-family:'Liberation Sans',sans-serif;font-weight:normal;stroke:#161616;stroke-width:0.12px;" textLength="21.9" lengthAdjust="spacingAndGlyphs">154</text>
<text x="137.5" y="1296.6" font-size="15.5" text-anchor="middle" fill="#161616" style="font-family:'Liberation Sans',sans-serif;font-weight:normal;stroke:#161616;stroke-width:0.12px;" textLength="21.9" lengthAdjust="spacingAndGlyphs">354</text>
<text x="188.5" y="1296.6" font-size="15.5" text-anchor="middle" fill="#161616" style="font-family:'Liberation Sans',sans-serif;font-weight:normal;stroke:#161616;stroke-width:0.12px;" textLength="21.9" lengthAdjust="spacingAndGlyphs">169</text>
<text x="239.5" y="1296.6" font-size="15.5" text-anchor="middle" fill="#161616" style="font-family:'Liberation Sans',sans-serif;font-weight:normal;stroke:#161616;stroke-width:0.12px;" textLength="21.9" lengthAdjust="spacingAndGlyphs">369</text>
<text x="290.2" y="1296.6" font-size="15.5" text-anchor="middle" fill="#161616" style="font-family:'Liberation Sans',sans-serif;font-weight:normal;stroke:#161616;stroke-width:0.12px;" textLength="21.9" lengthAdjust="spacingAndGlyphs">275</text>
<text x="340.2" y="1296.6" font-size="15.5" text-anchor="middle" fill="#161616" style="font-family:'Liberation Sans',sans-serif;font-weight:normal;stroke:#161616;stroke-width:0.12px;" textLength="14.6" lengthAdjust="spacingAndGlyphs">24</text>
<text x="35.5" y="1318.9" font-size="15.5" text-anchor="middle" fill="#161616" style="font-family:'Liberation Sans',sans-serif;font-weight:normal;stroke:#161616;stroke-width:0.12px;" textLength="21.9" lengthAdjust="spacingAndGlyphs">300</text>
<text x="86.5" y="1318.9" font-size="15.5" text-anchor="middle" fill="#161616" style="font-family:'Liberation Sans',sans-serif;font-weight:normal;stroke:#161616;stroke-width:0.12px;" textLength="21.9" lengthAdjust="spacingAndGlyphs">154</text>
<text x="137.5" y="1318.9" font-size="15.5" text-anchor="middle" fill="#161616" style="font-family:'Liberation Sans',sans-serif;font-weight:normal;stroke:#161616;stroke-width:0.12px;" textLength="21.9" lengthAdjust="spacingAndGlyphs">435</text>
<text x="188.5" y="1318.9" font-size="15.5" text-anchor="middle" fill="#161616" style="font-family:'Liberation Sans',sans-serif;font-weight:normal;stroke:#161616;stroke-width:0.12px;" textLength="21.9" lengthAdjust="spacingAndGlyphs">189</text>
<text x="239.5" y="1318.9" font-size="15.5" text-anchor="middle" fill="#161616" style="font-family:'Liberation Sans',sans-serif;font-weight:normal;stroke:#161616;stroke-width:0.12px;" textLength="21.9" lengthAdjust="spacingAndGlyphs">489</text>
<text x="290.2" y="1318.9" font-size="15.5" text-anchor="middle" fill="#161616" style="font-family:'Liberation Sans',sans-serif;font-weight:normal;stroke:#161616;stroke-width:0.12px;" textLength="21.9" lengthAdjust="spacingAndGlyphs">395</text>
<text x="340.2" y="1318.9" font-size="15.5" text-anchor="middle" fill="#161616" style="font-family:'Liberation Sans',sans-serif;font-weight:normal;stroke:#161616;stroke-width:0.12px;" textLength="14.6" lengthAdjust="spacingAndGlyphs">26</text>
<text x="35.5" y="1341.3" font-size="15.5" text-anchor="middle" fill="#161616" style="font-family:'Liberation Sans',sans-serif;font-weight:normal;stroke:#161616;stroke-width:0.12px;" textLength="21.9" lengthAdjust="spacingAndGlyphs">400</text>
<text x="86.5" y="1341.3" font-size="15.5" text-anchor="middle" fill="#161616" style="font-family:'Liberation Sans',sans-serif;font-weight:normal;stroke:#161616;stroke-width:0.12px;" textLength="21.9" lengthAdjust="spacingAndGlyphs">154</text>
<text x="137.5" y="1341.3" font-size="15.5" text-anchor="middle" fill="#161616" style="font-family:'Liberation Sans',sans-serif;font-weight:normal;stroke:#161616;stroke-width:0.12px;" textLength="21.9" lengthAdjust="spacingAndGlyphs">554</text>
<text x="188.5" y="1341.3" font-size="15.5" text-anchor="middle" fill="#161616" style="font-family:'Liberation Sans',sans-serif;font-weight:normal;stroke:#161616;stroke-width:0.12px;" textLength="21.9" lengthAdjust="spacingAndGlyphs">189</text>
<text x="239.5" y="1341.3" font-size="15.5" text-anchor="middle" fill="#161616" style="font-family:'Liberation Sans',sans-serif;font-weight:normal;stroke:#161616;stroke-width:0.12px;" textLength="21.9" lengthAdjust="spacingAndGlyphs">589</text>
<text x="290.2" y="1341.3" font-size="15.5" text-anchor="middle" fill="#161616" style="font-family:'Liberation Sans',sans-serif;font-weight:normal;stroke:#161616;stroke-width:0.12px;" textLength="21.9" lengthAdjust="spacingAndGlyphs">495</text>
<text x="340.2" y="1341.3" font-size="15.5" text-anchor="middle" fill="#161616" style="font-family:'Liberation Sans',sans-serif;font-weight:normal;stroke:#161616;stroke-width:0.12px;" textLength="14.6" lengthAdjust="spacingAndGlyphs">28</text>
<text x="35.5" y="1363.7" font-size="15.5" text-anchor="middle" fill="#161616" style="font-family:'Liberation Sans',sans-serif;font-weight:normal;stroke:#161616;stroke-width:0.12px;" textLength="21.9" lengthAdjust="spacingAndGlyphs">500</text>
<text x="86.5" y="1363.7" font-size="15.5" text-anchor="middle" fill="#161616" style="font-family:'Liberation Sans',sans-serif;font-weight:normal;stroke:#161616;stroke-width:0.12px;" textLength="21.9" lengthAdjust="spacingAndGlyphs">154</text>
<text x="137.5" y="1363.7" font-size="15.5" text-anchor="middle" fill="#161616" style="font-family:'Liberation Sans',sans-serif;font-weight:normal;stroke:#161616;stroke-width:0.12px;" textLength="21.9" lengthAdjust="spacingAndGlyphs">654</text>
<text x="188.5" y="1363.7" font-size="15.5" text-anchor="middle" fill="#161616" style="font-family:'Liberation Sans',sans-serif;font-weight:normal;stroke:#161616;stroke-width:0.12px;" textLength="21.9" lengthAdjust="spacingAndGlyphs">209</text>
<text x="239.5" y="1363.7" font-size="15.5" text-anchor="middle" fill="#161616" style="font-family:'Liberation Sans',sans-serif;font-weight:normal;stroke:#161616;stroke-width:0.12px;" textLength="21.9" lengthAdjust="spacingAndGlyphs">709</text>
<text x="290.2" y="1363.7" font-size="15.5" text-anchor="middle" fill="#161616" style="font-family:'Liberation Sans',sans-serif;font-weight:normal;stroke:#161616;stroke-width:0.12px;" textLength="21.9" lengthAdjust="spacingAndGlyphs">615</text>
<text x="340.2" y="1363.7" font-size="15.5" text-anchor="middle" fill="#161616" style="font-family:'Liberation Sans',sans-serif;font-weight:normal;stroke:#161616;stroke-width:0.12px;" textLength="14.6" lengthAdjust="spacingAndGlyphs">30</text>
<text x="35.5" y="1386.1" font-size="15.5" text-anchor="middle" fill="#161616" style="font-family:'Liberation Sans',sans-serif;font-weight:normal;stroke:#161616;stroke-width:0.12px;" textLength="21.9" lengthAdjust="spacingAndGlyphs">600</text>
<text x="86.5" y="1386.1" font-size="15.5" text-anchor="middle" fill="#161616" style="font-family:'Liberation Sans',sans-serif;font-weight:normal;stroke:#161616;stroke-width:0.12px;" textLength="21.9" lengthAdjust="spacingAndGlyphs">154</text>
<text x="137.5" y="1386.1" font-size="15.5" text-anchor="middle" fill="#161616" style="font-family:'Liberation Sans',sans-serif;font-weight:normal;stroke:#161616;stroke-width:0.12px;" textLength="21.9" lengthAdjust="spacingAndGlyphs">754</text>
<text x="188.5" y="1386.1" font-size="15.5" text-anchor="middle" fill="#161616" style="font-family:'Liberation Sans',sans-serif;font-weight:normal;stroke:#161616;stroke-width:0.12px;" textLength="21.9" lengthAdjust="spacingAndGlyphs">209</text>
<text x="239.5" y="1386.1" font-size="15.5" text-anchor="middle" fill="#161616" style="font-family:'Liberation Sans',sans-serif;font-weight:normal;stroke:#161616;stroke-width:0.12px;" textLength="21.9" lengthAdjust="spacingAndGlyphs">809</text>
<text x="290.2" y="1386.1" font-size="15.5" text-anchor="middle" fill="#161616" style="font-family:'Liberation Sans',sans-serif;font-weight:normal;stroke:#161616;stroke-width:0.12px;" textLength="21.9" lengthAdjust="spacingAndGlyphs">715</text>
<text x="340.2" y="1386.1" font-size="15.5" text-anchor="middle" fill="#161616" style="font-family:'Liberation Sans',sans-serif;font-weight:normal;stroke:#161616;stroke-width:0.12px;" textLength="14.6" lengthAdjust="spacingAndGlyphs">32</text>
<text x="35.5" y="1408.4" font-size="15.5" text-anchor="middle" fill="#161616" style="font-family:'Liberation Sans',sans-serif;font-weight:normal;stroke:#161616;stroke-width:0.12px;" textLength="21.9" lengthAdjust="spacingAndGlyphs">800</text>
<text x="86.5" y="1408.4" font-size="15.5" text-anchor="middle" fill="#161616" style="font-family:'Liberation Sans',sans-serif;font-weight:normal;stroke:#161616;stroke-width:0.12px;" textLength="21.9" lengthAdjust="spacingAndGlyphs">154</text>
<text x="137.5" y="1408.4" font-size="15.5" text-anchor="middle" fill="#161616" style="font-family:'Liberation Sans',sans-serif;font-weight:normal;stroke:#161616;stroke-width:0.12px;" textLength="21.9" lengthAdjust="spacingAndGlyphs">954</text>
<text x="188.5" y="1408.4" font-size="15.5" text-anchor="middle" fill="#161616" style="font-family:'Liberation Sans',sans-serif;font-weight:normal;stroke:#161616;stroke-width:0.12px;" textLength="21.9" lengthAdjust="spacingAndGlyphs">229</text>
<text x="239.5" y="1408.4" font-size="15.5" text-anchor="middle" fill="#161616" style="font-family:'Liberation Sans',sans-serif;font-weight:normal;stroke:#161616;stroke-width:0.12px;" textLength="29.2" lengthAdjust="spacingAndGlyphs">1029</text>
<text x="290.2" y="1408.4" font-size="15.5" text-anchor="middle" fill="#161616" style="font-family:'Liberation Sans',sans-serif;font-weight:normal;stroke:#161616;stroke-width:0.12px;" textLength="21.9" lengthAdjust="spacingAndGlyphs">935</text>
<text x="340.2" y="1408.4" font-size="15.5" text-anchor="middle" fill="#161616" style="font-family:'Liberation Sans',sans-serif;font-weight:normal;stroke:#161616;stroke-width:0.12px;" textLength="14.6" lengthAdjust="spacingAndGlyphs">36</text>
<text x="35.5" y="1430.8" font-size="15.5" text-anchor="middle" fill="#161616" style="font-family:'Liberation Sans',sans-serif;font-weight:normal;stroke:#161616;stroke-width:0.12px;" textLength="29.2" lengthAdjust="spacingAndGlyphs">1000</text>
<text x="86.5" y="1430.8" font-size="15.5" text-anchor="middle" fill="#161616" style="font-family:'Liberation Sans',sans-serif;font-weight:normal;stroke:#161616;stroke-width:0.12px;" textLength="21.9" lengthAdjust="spacingAndGlyphs">154</text>
<text x="137.5" y="1430.8" font-size="15.5" text-anchor="middle" fill="#161616" style="font-family:'Liberation Sans',sans-serif;font-weight:normal;stroke:#161616;stroke-width:0.12px;" textLength="29.2" lengthAdjust="spacingAndGlyphs">1154</text>
<text x="188.5" y="1430.8" font-size="15.5" text-anchor="middle" fill="#161616" style="font-family:'Liberation Sans',sans-serif;font-weight:normal;stroke:#161616;stroke-width:0.12px;" textLength="21.9" lengthAdjust="spacingAndGlyphs">249</text>
<text x="239.5" y="1430.8" font-size="15.5" text-anchor="middle" fill="#161616" style="font-family:'Liberation Sans',sans-serif;font-weight:normal;stroke:#161616;stroke-width:0.12px;" textLength="29.2" lengthAdjust="spacingAndGlyphs">1249</text>
<text x="290.2" y="1430.8" font-size="15.5" text-anchor="middle" fill="#161616" style="font-family:'Liberation Sans',sans-serif;font-weight:normal;stroke:#161616;stroke-width:0.12px;" textLength="29.2" lengthAdjust="spacingAndGlyphs">1155</text>
<text x="340.2" y="1430.8" font-size="15.5" text-anchor="middle" fill="#161616" style="font-family:'Liberation Sans',sans-serif;font-weight:normal;stroke:#161616;stroke-width:0.12px;" textLength="14.6" lengthAdjust="spacingAndGlyphs">40</text>
<rect x="673.2" y="1176.0" width="308.8" height="79.6" fill="#e2f2f8" stroke="none" stroke-width="1"/>
<line x1="621.0" y1="1176.0" x2="982.0" y2="1176.0" stroke="#7d8285" stroke-width="1.3"/>
<line x1="673.2" y1="1207.7" x2="982.0" y2="1207.7" stroke="#7d8285" stroke-width="1"/>
<line x1="673.2" y1="1231.3" x2="880.7" y2="1231.3" stroke="#7d8285" stroke-width="1"/>
<line x1="621.0" y1="1255.6" x2="982.0" y2="1255.6" stroke="#7d8285" stroke-width="1.3"/>
<line x1="621.0" y1="1277.9" x2="982.0" y2="1277.9" stroke="#7d8285" stroke-width="1"/>
<line x1="621.0" y1="1300.3" x2="982.0" y2="1300.3" stroke="#7d8285" stroke-width="1"/>
<line x1="621.0" y1="1322.7" x2="982.0" y2="1322.7" stroke="#7d8285" stroke-width="1"/>
<line x1="621.0" y1="1345.0" x2="982.0" y2="1345.0" stroke="#7d8285" stroke-width="1"/>
<line x1="621.0" y1="1367.3" x2="982.0" y2="1367.3" stroke="#7d8285" stroke-width="1"/>
<line x1="621.0" y1="1389.7" x2="982.0" y2="1389.7" stroke="#7d8285" stroke-width="1"/>
<line x1="621.0" y1="1412.1" x2="982.0" y2="1412.1" stroke="#7d8285" stroke-width="1"/>
<line x1="621.0" y1="1434.4" x2="982.0" y2="1434.4" stroke="#7d8285" stroke-width="1.5"/>
<line x1="621.0" y1="1176.0" x2="621.0" y2="1434.4" stroke="#7d8285" stroke-width="1.3"/>
<line x1="982.0" y1="1176.0" x2="982.0" y2="1434.4" stroke="#7d8285" stroke-width="1.3"/>
<line x1="673.2" y1="1176.0" x2="673.2" y2="1434.4" stroke="#7d8285" stroke-width="1.3"/>
<line x1="777.0" y1="1207.7" x2="777.0" y2="1434.4" stroke="#7d8285" stroke-width="1"/>
<line x1="880.7" y1="1207.7" x2="880.7" y2="1434.4" stroke="#7d8285" stroke-width="1"/>
<line x1="931.6" y1="1207.7" x2="931.6" y2="1434.4" stroke="#7d8285" stroke-width="1"/>
<line x1="724.1" y1="1231.3" x2="724.1" y2="1434.4" stroke="#7d8285" stroke-width="1"/>
<line x1="829.1" y1="1231.3" x2="829.1" y2="1434.4" stroke="#7d8285" stroke-width="1"/>
<text x="647.1" y="1196.5" font-size="15" text-anchor="middle" fill="#111" style="font-family:'Liberation Sans',sans-serif;font-weight:normal;stroke:#111;stroke-width:0.12px;">行</text>
<text x="647.1" y="1213.5" font-size="15" text-anchor="middle" fill="#111" style="font-family:'Liberation Sans',sans-serif;font-weight:normal;stroke:#111;stroke-width:0.12px;">程</text>
<text x="647.1" y="1242.0" font-size="12" text-anchor="middle" fill="#111" style="font-family:'Liberation Sans',sans-serif;font-weight:normal;stroke:#111;stroke-width:0.12px;" textLength="30" lengthAdjust="spacingAndGlyphs">(mm)</text>
<text transform="translate(821.8,1198.2) scale(0.95,1)" font-size="14" text-anchor="middle" fill="#111" style="font-family:'Liberation Sans',sans-serif;stroke:#111;stroke-width:0.25px">D</text>
<text transform="translate(833.9,1198.2) scale(0.95,1)" font-size="14" text-anchor="middle" fill="#111" style="font-family:'Liberation Sans',sans-serif;stroke:#111;stroke-width:0.25px">M</text>
<text x="725.1" y="1227.3" font-size="14" text-anchor="middle" fill="#111" style="font-family:'Liberation Mono',monospace;font-weight:normal;stroke:#111;stroke-width:0.12px;">X</text>
<text x="825.4" y="1227.3" font-size="14" text-anchor="middle" fill="#111" style="font-family:'Liberation Mono',monospace;font-weight:normal;stroke:#111;stroke-width:0.12px;">X</text>
<text x="837.4" y="1221.8" font-size="10" text-anchor="middle" fill="#111" style="font-family:'Liberation Sans',sans-serif;font-weight:normal;stroke:#111;stroke-width:0.1px;" textLength="12.5" lengthAdjust="spacingAndGlyphs">(1)</text>
<text transform="translate(690.3,1252.3) scale(0.78,1)" font-size="13.2" text-anchor="middle" fill="#1a1a1a" style="font-family:'Liberation Sans',sans-serif;font-weight:bold">M</text>
<text transform="translate(697.2,1252.3) scale(1.0,1)" font-size="13.2" text-anchor="middle" fill="#1a1a1a" style="font-family:'Liberation Sans',sans-serif;font-weight:bold">I</text>
<text transform="translate(705.0,1252.3) scale(0.88,1)" font-size="13.2" text-anchor="middle" fill="#1a1a1a" style="font-family:'Liberation Sans',sans-serif;font-weight:bold">N</text>
<text transform="translate(740.8,1252.3) scale(0.78,1)" font-size="13.2" text-anchor="middle" fill="#1a1a1a" style="font-family:'Liberation Sans',sans-serif;font-weight:bold">M</text>
<text transform="translate(748.8,1252.3) scale(0.8,1)" font-size="13.2" text-anchor="middle" fill="#1a1a1a" style="font-family:'Liberation Sans',sans-serif;font-weight:bold">A</text>
<text transform="translate(755.8,1252.3) scale(0.72,1)" font-size="13.2" text-anchor="middle" fill="#1a1a1a" style="font-family:'Liberation Sans',sans-serif;font-weight:bold">X</text>
<text transform="translate(794.6,1252.3) scale(0.78,1)" font-size="13.2" text-anchor="middle" fill="#1a1a1a" style="font-family:'Liberation Sans',sans-serif;font-weight:bold">M</text>
<text transform="translate(801.5,1252.3) scale(1.0,1)" font-size="13.2" text-anchor="middle" fill="#1a1a1a" style="font-family:'Liberation Sans',sans-serif;font-weight:bold">I</text>
<text transform="translate(809.3,1252.3) scale(0.88,1)" font-size="13.2" text-anchor="middle" fill="#1a1a1a" style="font-family:'Liberation Sans',sans-serif;font-weight:bold">N</text>
<text transform="translate(845.2,1252.3) scale(0.78,1)" font-size="13.2" text-anchor="middle" fill="#1a1a1a" style="font-family:'Liberation Sans',sans-serif;font-weight:bold">M</text>
<text transform="translate(853.2,1252.3) scale(0.8,1)" font-size="13.2" text-anchor="middle" fill="#1a1a1a" style="font-family:'Liberation Sans',sans-serif;font-weight:bold">A</text>
<text transform="translate(860.1,1252.3) scale(0.72,1)" font-size="13.2" text-anchor="middle" fill="#1a1a1a" style="font-family:'Liberation Sans',sans-serif;font-weight:bold">X</text>
<text x="906.2" y="1240.7" font-size="14.5" text-anchor="middle" fill="#111" style="font-family:'Liberation Sans',sans-serif;font-weight:normal;stroke:#111;stroke-width:0.12px;">L</text>
<text x="956.8" y="1227.2" font-size="12.5" text-anchor="middle" fill="#111" style="font-family:'Liberation Sans',sans-serif;font-weight:normal;stroke:#111;stroke-width:0.12px;">m</text>
<text x="956.8" y="1250.1" font-size="12.5" text-anchor="middle" fill="#111" style="font-family:'Liberation Sans',sans-serif;font-weight:normal;stroke:#111;stroke-width:0.12px;" textLength="26" lengthAdjust="spacingAndGlyphs">(kg)</text>
<text x="647.1" y="1274.2" font-size="15.5" text-anchor="middle" fill="#161616" style="font-family:'Liberation Sans',sans-serif;font-weight:normal;stroke:#161616;stroke-width:0.12px;" textLength="21.9" lengthAdjust="spacingAndGlyphs">100</text>
<text x="698.7" y="1274.2" font-size="15.5" text-anchor="middle" fill="#161616" style="font-family:'Liberation Sans',sans-serif;font-weight:normal;stroke:#161616;stroke-width:0.12px;" textLength="14.6" lengthAdjust="spacingAndGlyphs">42</text>
<text x="750.5" y="1274.2" font-size="15.5" text-anchor="middle" fill="#161616" style="font-family:'Liberation Sans',sans-serif;font-weight:normal;stroke:#161616;stroke-width:0.12px;" textLength="21.9" lengthAdjust="spacingAndGlyphs">142</text>
<text x="803.0" y="1274.2" font-size="15.5" text-anchor="middle" fill="#161616" style="font-family:'Liberation Sans',sans-serif;font-weight:normal;stroke:#161616;stroke-width:0.12px;" textLength="14.6" lengthAdjust="spacingAndGlyphs">57</text>
<text x="854.9" y="1274.2" font-size="15.5" text-anchor="middle" fill="#161616" style="font-family:'Liberation Sans',sans-serif;font-weight:normal;stroke:#161616;stroke-width:0.12px;" textLength="21.9" lengthAdjust="spacingAndGlyphs">157</text>
<text x="906.2" y="1274.2" font-size="15.5" text-anchor="middle" fill="#161616" style="font-family:'Liberation Sans',sans-serif;font-weight:normal;stroke:#161616;stroke-width:0.12px;" textLength="21.9" lengthAdjust="spacingAndGlyphs">175</text>
<text x="956.8" y="1274.2" font-size="15.5" text-anchor="middle" fill="#161616" style="font-family:'Liberation Sans',sans-serif;font-weight:normal;stroke:#161616;stroke-width:0.12px;" textLength="14.6" lengthAdjust="spacingAndGlyphs">22</text>
<text x="647.1" y="1296.5" font-size="15.5" text-anchor="middle" fill="#161616" style="font-family:'Liberation Sans',sans-serif;font-weight:normal;stroke:#161616;stroke-width:0.12px;" textLength="21.9" lengthAdjust="spacingAndGlyphs">200</text>
<text x="698.7" y="1296.5" font-size="15.5" text-anchor="middle" fill="#161616" style="font-family:'Liberation Sans',sans-serif;font-weight:normal;stroke:#161616;stroke-width:0.12px;" textLength="14.6" lengthAdjust="spacingAndGlyphs">42</text>
<text x="750.5" y="1296.5" font-size="15.5" text-anchor="middle" fill="#161616" style="font-family:'Liberation Sans',sans-serif;font-weight:normal;stroke:#161616;stroke-width:0.12px;" textLength="21.9" lengthAdjust="spacingAndGlyphs">242</text>
<text x="803.0" y="1296.5" font-size="15.5" text-anchor="middle" fill="#161616" style="font-family:'Liberation Sans',sans-serif;font-weight:normal;stroke:#161616;stroke-width:0.12px;" textLength="14.6" lengthAdjust="spacingAndGlyphs">57</text>
<text x="854.9" y="1296.5" font-size="15.5" text-anchor="middle" fill="#161616" style="font-family:'Liberation Sans',sans-serif;font-weight:normal;stroke:#161616;stroke-width:0.12px;" textLength="21.9" lengthAdjust="spacingAndGlyphs">257</text>
<text x="906.2" y="1296.5" font-size="15.5" text-anchor="middle" fill="#161616" style="font-family:'Liberation Sans',sans-serif;font-weight:normal;stroke:#161616;stroke-width:0.12px;" textLength="21.9" lengthAdjust="spacingAndGlyphs">275</text>
<text x="956.8" y="1296.5" font-size="15.5" text-anchor="middle" fill="#161616" style="font-family:'Liberation Sans',sans-serif;font-weight:normal;stroke:#161616;stroke-width:0.12px;" textLength="14.6" lengthAdjust="spacingAndGlyphs">24</text>
<text x="647.1" y="1318.9" font-size="15.5" text-anchor="middle" fill="#161616" style="font-family:'Liberation Sans',sans-serif;font-weight:normal;stroke:#161616;stroke-width:0.12px;" textLength="21.9" lengthAdjust="spacingAndGlyphs">300</text>
<text x="698.7" y="1318.9" font-size="15.5" text-anchor="middle" fill="#161616" style="font-family:'Liberation Sans',sans-serif;font-weight:normal;stroke:#161616;stroke-width:0.12px;" textLength="14.6" lengthAdjust="spacingAndGlyphs">42</text>
<text x="750.5" y="1318.9" font-size="15.5" text-anchor="middle" fill="#161616" style="font-family:'Liberation Sans',sans-serif;font-weight:normal;stroke:#161616;stroke-width:0.12px;" textLength="21.9" lengthAdjust="spacingAndGlyphs">342</text>
<text x="803.0" y="1318.9" font-size="15.5" text-anchor="middle" fill="#161616" style="font-family:'Liberation Sans',sans-serif;font-weight:normal;stroke:#161616;stroke-width:0.12px;" textLength="14.6" lengthAdjust="spacingAndGlyphs">77</text>
<text x="854.9" y="1318.9" font-size="15.5" text-anchor="middle" fill="#161616" style="font-family:'Liberation Sans',sans-serif;font-weight:normal;stroke:#161616;stroke-width:0.12px;" textLength="21.9" lengthAdjust="spacingAndGlyphs">377</text>
<text x="906.2" y="1318.9" font-size="15.5" text-anchor="middle" fill="#161616" style="font-family:'Liberation Sans',sans-serif;font-weight:normal;stroke:#161616;stroke-width:0.12px;" textLength="21.9" lengthAdjust="spacingAndGlyphs">395</text>
<text x="956.8" y="1318.9" font-size="15.5" text-anchor="middle" fill="#161616" style="font-family:'Liberation Sans',sans-serif;font-weight:normal;stroke:#161616;stroke-width:0.12px;" textLength="14.6" lengthAdjust="spacingAndGlyphs">26</text>
<text x="647.1" y="1341.2" font-size="15.5" text-anchor="middle" fill="#161616" style="font-family:'Liberation Sans',sans-serif;font-weight:normal;stroke:#161616;stroke-width:0.12px;" textLength="21.9" lengthAdjust="spacingAndGlyphs">400</text>
<text x="698.7" y="1341.2" font-size="15.5" text-anchor="middle" fill="#161616" style="font-family:'Liberation Sans',sans-serif;font-weight:normal;stroke:#161616;stroke-width:0.12px;" textLength="14.6" lengthAdjust="spacingAndGlyphs">42</text>
<text x="750.5" y="1341.2" font-size="15.5" text-anchor="middle" fill="#161616" style="font-family:'Liberation Sans',sans-serif;font-weight:normal;stroke:#161616;stroke-width:0.12px;" textLength="21.9" lengthAdjust="spacingAndGlyphs">442</text>
<text x="803.0" y="1341.2" font-size="15.5" text-anchor="middle" fill="#161616" style="font-family:'Liberation Sans',sans-serif;font-weight:normal;stroke:#161616;stroke-width:0.12px;" textLength="14.6" lengthAdjust="spacingAndGlyphs">77</text>
<text x="854.9" y="1341.2" font-size="15.5" text-anchor="middle" fill="#161616" style="font-family:'Liberation Sans',sans-serif;font-weight:normal;stroke:#161616;stroke-width:0.12px;" textLength="21.9" lengthAdjust="spacingAndGlyphs">477</text>
<text x="906.2" y="1341.2" font-size="15.5" text-anchor="middle" fill="#161616" style="font-family:'Liberation Sans',sans-serif;font-weight:normal;stroke:#161616;stroke-width:0.12px;" textLength="21.9" lengthAdjust="spacingAndGlyphs">495</text>
<text x="956.8" y="1341.2" font-size="15.5" text-anchor="middle" fill="#161616" style="font-family:'Liberation Sans',sans-serif;font-weight:normal;stroke:#161616;stroke-width:0.12px;" textLength="14.6" lengthAdjust="spacingAndGlyphs">28</text>
<text x="647.1" y="1363.6" font-size="15.5" text-anchor="middle" fill="#161616" style="font-family:'Liberation Sans',sans-serif;font-weight:normal;stroke:#161616;stroke-width:0.12px;" textLength="21.9" lengthAdjust="spacingAndGlyphs">500</text>
<text x="698.7" y="1363.6" font-size="15.5" text-anchor="middle" fill="#161616" style="font-family:'Liberation Sans',sans-serif;font-weight:normal;stroke:#161616;stroke-width:0.12px;" textLength="14.6" lengthAdjust="spacingAndGlyphs">42</text>
<text x="750.5" y="1363.6" font-size="15.5" text-anchor="middle" fill="#161616" style="font-family:'Liberation Sans',sans-serif;font-weight:normal;stroke:#161616;stroke-width:0.12px;" textLength="21.9" lengthAdjust="spacingAndGlyphs">542</text>
<text x="803.0" y="1363.6" font-size="15.5" text-anchor="middle" fill="#161616" style="font-family:'Liberation Sans',sans-serif;font-weight:normal;stroke:#161616;stroke-width:0.12px;" textLength="14.6" lengthAdjust="spacingAndGlyphs">97</text>
<text x="854.9" y="1363.6" font-size="15.5" text-anchor="middle" fill="#161616" style="font-family:'Liberation Sans',sans-serif;font-weight:normal;stroke:#161616;stroke-width:0.12px;" textLength="21.9" lengthAdjust="spacingAndGlyphs">597</text>
<text x="906.2" y="1363.6" font-size="15.5" text-anchor="middle" fill="#161616" style="font-family:'Liberation Sans',sans-serif;font-weight:normal;stroke:#161616;stroke-width:0.12px;" textLength="21.9" lengthAdjust="spacingAndGlyphs">615</text>
<text x="956.8" y="1363.6" font-size="15.5" text-anchor="middle" fill="#161616" style="font-family:'Liberation Sans',sans-serif;font-weight:normal;stroke:#161616;stroke-width:0.12px;" textLength="14.6" lengthAdjust="spacingAndGlyphs">30</text>
<text x="647.1" y="1385.9" font-size="15.5" text-anchor="middle" fill="#161616" style="font-family:'Liberation Sans',sans-serif;font-weight:normal;stroke:#161616;stroke-width:0.12px;" textLength="21.9" lengthAdjust="spacingAndGlyphs">600</text>
<text x="698.7" y="1385.9" font-size="15.5" text-anchor="middle" fill="#161616" style="font-family:'Liberation Sans',sans-serif;font-weight:normal;stroke:#161616;stroke-width:0.12px;" textLength="14.6" lengthAdjust="spacingAndGlyphs">42</text>
<text x="750.5" y="1385.9" font-size="15.5" text-anchor="middle" fill="#161616" style="font-family:'Liberation Sans',sans-serif;font-weight:normal;stroke:#161616;stroke-width:0.12px;" textLength="21.9" lengthAdjust="spacingAndGlyphs">642</text>
<text x="803.0" y="1385.9" font-size="15.5" text-anchor="middle" fill="#161616" style="font-family:'Liberation Sans',sans-serif;font-weight:normal;stroke:#161616;stroke-width:0.12px;" textLength="14.6" lengthAdjust="spacingAndGlyphs">97</text>
<text x="854.9" y="1385.9" font-size="15.5" text-anchor="middle" fill="#161616" style="font-family:'Liberation Sans',sans-serif;font-weight:normal;stroke:#161616;stroke-width:0.12px;" textLength="21.9" lengthAdjust="spacingAndGlyphs">697</text>
<text x="906.2" y="1385.9" font-size="15.5" text-anchor="middle" fill="#161616" style="font-family:'Liberation Sans',sans-serif;font-weight:normal;stroke:#161616;stroke-width:0.12px;" textLength="21.9" lengthAdjust="spacingAndGlyphs">715</text>
<text x="956.8" y="1385.9" font-size="15.5" text-anchor="middle" fill="#161616" style="font-family:'Liberation Sans',sans-serif;font-weight:normal;stroke:#161616;stroke-width:0.12px;" textLength="14.6" lengthAdjust="spacingAndGlyphs">32</text>
<text x="647.1" y="1408.3" font-size="15.5" text-anchor="middle" fill="#161616" style="font-family:'Liberation Sans',sans-serif;font-weight:normal;stroke:#161616;stroke-width:0.12px;" textLength="21.9" lengthAdjust="spacingAndGlyphs">800</text>
<text x="698.7" y="1408.3" font-size="15.5" text-anchor="middle" fill="#161616" style="font-family:'Liberation Sans',sans-serif;font-weight:normal;stroke:#161616;stroke-width:0.12px;" textLength="14.6" lengthAdjust="spacingAndGlyphs">42</text>
<text x="750.5" y="1408.3" font-size="15.5" text-anchor="middle" fill="#161616" style="font-family:'Liberation Sans',sans-serif;font-weight:normal;stroke:#161616;stroke-width:0.12px;" textLength="21.9" lengthAdjust="spacingAndGlyphs">842</text>
<text x="803.0" y="1408.3" font-size="15.5" text-anchor="middle" fill="#161616" style="font-family:'Liberation Sans',sans-serif;font-weight:normal;stroke:#161616;stroke-width:0.12px;" textLength="21.9" lengthAdjust="spacingAndGlyphs">117</text>
<text x="854.9" y="1408.3" font-size="15.5" text-anchor="middle" fill="#161616" style="font-family:'Liberation Sans',sans-serif;font-weight:normal;stroke:#161616;stroke-width:0.12px;" textLength="21.9" lengthAdjust="spacingAndGlyphs">917</text>
<text x="906.2" y="1408.3" font-size="15.5" text-anchor="middle" fill="#161616" style="font-family:'Liberation Sans',sans-serif;font-weight:normal;stroke:#161616;stroke-width:0.12px;" textLength="21.9" lengthAdjust="spacingAndGlyphs">935</text>
<text x="956.8" y="1408.3" font-size="15.5" text-anchor="middle" fill="#161616" style="font-family:'Liberation Sans',sans-serif;font-weight:normal;stroke:#161616;stroke-width:0.12px;" textLength="14.6" lengthAdjust="spacingAndGlyphs">36</text>
<text x="647.1" y="1430.6" font-size="15.5" text-anchor="middle" fill="#161616" style="font-family:'Liberation Sans',sans-serif;font-weight:normal;stroke:#161616;stroke-width:0.12px;" textLength="29.2" lengthAdjust="spacingAndGlyphs">1000</text>
<text x="698.7" y="1430.6" font-size="15.5" text-anchor="middle" fill="#161616" style="font-family:'Liberation Sans',sans-serif;font-weight:normal;stroke:#161616;stroke-width:0.12px;" textLength="14.6" lengthAdjust="spacingAndGlyphs">42</text>
<text x="750.5" y="1430.6" font-size="15.5" text-anchor="middle" fill="#161616" style="font-family:'Liberation Sans',sans-serif;font-weight:normal;stroke:#161616;stroke-width:0.12px;" textLength="29.2" lengthAdjust="spacingAndGlyphs">1042</text>
<text x="803.0" y="1430.6" font-size="15.5" text-anchor="middle" fill="#161616" style="font-family:'Liberation Sans',sans-serif;font-weight:normal;stroke:#161616;stroke-width:0.12px;" textLength="21.9" lengthAdjust="spacingAndGlyphs">137</text>
<text x="854.9" y="1430.6" font-size="15.5" text-anchor="middle" fill="#161616" style="font-family:'Liberation Sans',sans-serif;font-weight:normal;stroke:#161616;stroke-width:0.12px;" textLength="29.2" lengthAdjust="spacingAndGlyphs">1137</text>
<text x="906.2" y="1430.6" font-size="15.5" text-anchor="middle" fill="#161616" style="font-family:'Liberation Sans',sans-serif;font-weight:normal;stroke:#161616;stroke-width:0.12px;" textLength="29.2" lengthAdjust="spacingAndGlyphs">1155</text>
<text x="956.8" y="1430.6" font-size="15.5" text-anchor="middle" fill="#161616" style="font-family:'Liberation Sans',sans-serif;font-weight:normal;stroke:#161616;stroke-width:0.12px;" textLength="14.6" lengthAdjust="spacingAndGlyphs">40</text>
<text x="398.0" y="778.5" font-size="15" text-anchor="start" fill="#111" style="font-family:'Liberation Sans',sans-serif;font-weight:normal;stroke:#111;stroke-width:0.12px;" textLength="26" lengthAdjust="spacingAndGlyphs">注：</text>
<text x="427.0" y="778.0" font-size="13" text-anchor="start" fill="#111" style="font-family:'Liberation Mono',monospace;font-weight:normal;stroke:#111;stroke-width:0.12px;" textLength="8" lengthAdjust="spacingAndGlyphs">X</text>
<text x="443.0" y="771.0" font-size="9" text-anchor="start" fill="#111" style="font-family:'Liberation Sans',sans-serif;font-weight:normal;stroke:#111;stroke-width:0.12px;" textLength="12" lengthAdjust="spacingAndGlyphs">(1)</text>
<text x="463.0" y="778.5" font-size="15" text-anchor="start" fill="#111" style="font-family:'Liberation Sans',sans-serif;font-weight:normal;stroke:#111;stroke-width:0.12px;" textLength="138" lengthAdjust="spacingAndGlyphs">为加防尘罩时尺寸。</text>
<text x="397.0" y="1412.5" font-size="15" text-anchor="start" fill="#111" style="font-family:'Liberation Sans',sans-serif;font-weight:normal;stroke:#111;stroke-width:0.12px;" textLength="26" lengthAdjust="spacingAndGlyphs">注：</text>
<text x="426.0" y="1412.0" font-size="13" text-anchor="start" fill="#111" style="font-family:'Liberation Mono',monospace;font-weight:normal;stroke:#111;stroke-width:0.12px;" textLength="8" lengthAdjust="spacingAndGlyphs">X</text>
<text x="442.0" y="1405.0" font-size="9" text-anchor="start" fill="#111" style="font-family:'Liberation Sans',sans-serif;font-weight:normal;stroke:#111;stroke-width:0.12px;" textLength="12" lengthAdjust="spacingAndGlyphs">(1)</text>
<text x="462.0" y="1412.5" font-size="15" text-anchor="start" fill="#111" style="font-family:'Liberation Sans',sans-serif;font-weight:normal;stroke:#111;stroke-width:0.12px;" textLength="138" lengthAdjust="spacingAndGlyphs">为加防尘罩时尺寸。</text>
<text transform="translate(110.1,531.7) scale(0.950,1)" font-size="16.8" text-anchor="middle" fill="#111" style="font-family:'Liberation Sans',sans-serif;stroke:#111;stroke-width:0.4px">J</text>
<text transform="translate(122.0,531.7) scale(0.700,1)" font-size="16.8" text-anchor="middle" fill="#111" style="font-family:'Liberation Sans',sans-serif;stroke:#111;stroke-width:0.4px">W</text>
<text transform="translate(133.1,531.7) scale(0.800,1)" font-size="16.8" text-anchor="middle" fill="#111" style="font-family:'Liberation Sans',sans-serif;stroke:#111;stroke-width:0.4px">M</text>
<text transform="translate(144.0,531.7) scale(1.000,1)" font-size="16.8" text-anchor="middle" fill="#111" style="font-family:'Liberation Sans',sans-serif;stroke:#111;stroke-width:0.4px">0</text>
<text transform="translate(156.0,531.7) scale(1.000,1)" font-size="16.8" text-anchor="middle" fill="#111" style="font-family:'Liberation Sans',sans-serif;stroke:#111;stroke-width:0.4px">5</text>
<text transform="translate(167.7,531.7) scale(1.000,1)" font-size="16.8" text-anchor="middle" fill="#111" style="font-family:'Liberation Sans',sans-serif;stroke:#111;stroke-width:0.4px">0</text>
<text transform="translate(180.0,531.7) scale(0.900,1)" font-size="16.8" text-anchor="middle" fill="#111" style="font-family:'Liberation Sans',sans-serif;stroke:#111;stroke-width:0.4px">U</text>
<text transform="translate(190.6,531.7) scale(0.920,1)" font-size="16.8" text-anchor="middle" fill="#111" style="font-family:'Liberation Sans',sans-serif;stroke:#111;stroke-width:0.4px">S</text>
<text transform="translate(743.6,531.7) scale(0.950,1)" font-size="16.8" text-anchor="middle" fill="#111" style="font-family:'Liberation Sans',sans-serif;stroke:#111;stroke-width:0.4px">J</text>
<text transform="translate(755.5,531.7) scale(0.700,1)" font-size="16.8" text-anchor="middle" fill="#111" style="font-family:'Liberation Sans',sans-serif;stroke:#111;stroke-width:0.4px">W</text>
<text transform="translate(766.6,531.7) scale(0.800,1)" font-size="16.8" text-anchor="middle" fill="#111" style="font-family:'Liberation Sans',sans-serif;stroke:#111;stroke-width:0.4px">M</text>
<text transform="translate(777.5,531.7) scale(1.000,1)" font-size="16.8" text-anchor="middle" fill="#111" style="font-family:'Liberation Sans',sans-serif;stroke:#111;stroke-width:0.4px">0</text>
<text transform="translate(789.5,531.7) scale(1.000,1)" font-size="16.8" text-anchor="middle" fill="#111" style="font-family:'Liberation Sans',sans-serif;stroke:#111;stroke-width:0.4px">5</text>
<text transform="translate(801.2,531.7) scale(1.000,1)" font-size="16.8" text-anchor="middle" fill="#111" style="font-family:'Liberation Sans',sans-serif;stroke:#111;stroke-width:0.4px">0</text>
<text transform="translate(813.5,531.7) scale(0.880,1)" font-size="16.8" text-anchor="middle" fill="#111" style="font-family:'Liberation Sans',sans-serif;stroke:#111;stroke-width:0.4px">D</text>
<text transform="translate(824.1,531.7) scale(0.920,1)" font-size="16.8" text-anchor="middle" fill="#111" style="font-family:'Liberation Sans',sans-serif;stroke:#111;stroke-width:0.4px">S</text>
<text transform="translate(110.6,1157.0) scale(0.950,1)" font-size="16.8" text-anchor="middle" fill="#111" style="font-family:'Liberation Sans',sans-serif;stroke:#111;stroke-width:0.4px">J</text>
<text transform="translate(122.5,1157.0) scale(0.700,1)" font-size="16.8" text-anchor="middle" fill="#111" style="font-family:'Liberation Sans',sans-serif;stroke:#111;stroke-width:0.4px">W</text>
<text transform="translate(133.6,1157.0) scale(0.800,1)" font-size="16.8" text-anchor="middle" fill="#111" style="font-family:'Liberation Sans',sans-serif;stroke:#111;stroke-width:0.4px">M</text>
<text transform="translate(144.5,1157.0) scale(1.000,1)" font-size="16.8" text-anchor="middle" fill="#111" style="font-family:'Liberation Sans',sans-serif;stroke:#111;stroke-width:0.4px">0</text>
<text transform="translate(156.5,1157.0) scale(1.000,1)" font-size="16.8" text-anchor="middle" fill="#111" style="font-family:'Liberation Sans',sans-serif;stroke:#111;stroke-width:0.4px">5</text>
<text transform="translate(168.2,1157.0) scale(1.000,1)" font-size="16.8" text-anchor="middle" fill="#111" style="font-family:'Liberation Sans',sans-serif;stroke:#111;stroke-width:0.4px">0</text>
<text transform="translate(180.5,1157.0) scale(0.900,1)" font-size="16.8" text-anchor="middle" fill="#111" style="font-family:'Liberation Sans',sans-serif;stroke:#111;stroke-width:0.4px">U</text>
<text transform="translate(191.1,1157.0) scale(0.800,1)" font-size="16.8" text-anchor="middle" fill="#111" style="font-family:'Liberation Sans',sans-serif;stroke:#111;stroke-width:0.4px">M</text>
<text transform="translate(743.8,1157.2) scale(0.950,1)" font-size="16.8" text-anchor="middle" fill="#111" style="font-family:'Liberation Sans',sans-serif;stroke:#111;stroke-width:0.4px">J</text>
<text transform="translate(755.7,1157.2) scale(0.700,1)" font-size="16.8" text-anchor="middle" fill="#111" style="font-family:'Liberation Sans',sans-serif;stroke:#111;stroke-width:0.4px">W</text>
<text transform="translate(766.8,1157.2) scale(0.800,1)" font-size="16.8" text-anchor="middle" fill="#111" style="font-family:'Liberation Sans',sans-serif;stroke:#111;stroke-width:0.4px">M</text>
<text transform="translate(777.7,1157.2) scale(1.000,1)" font-size="16.8" text-anchor="middle" fill="#111" style="font-family:'Liberation Sans',sans-serif;stroke:#111;stroke-width:0.4px">0</text>
<text transform="translate(789.7,1157.2) scale(1.000,1)" font-size="16.8" text-anchor="middle" fill="#111" style="font-family:'Liberation Sans',sans-serif;stroke:#111;stroke-width:0.4px">5</text>
<text transform="translate(801.4,1157.2) scale(1.000,1)" font-size="16.8" text-anchor="middle" fill="#111" style="font-family:'Liberation Sans',sans-serif;stroke:#111;stroke-width:0.4px">0</text>
<text transform="translate(813.7,1157.2) scale(0.880,1)" font-size="16.8" text-anchor="middle" fill="#111" style="font-family:'Liberation Sans',sans-serif;stroke:#111;stroke-width:0.4px">D</text>
<text transform="translate(824.3,1157.2) scale(0.800,1)" font-size="16.8" text-anchor="middle" fill="#111" style="font-family:'Liberation Sans',sans-serif;stroke:#111;stroke-width:0.4px">M</text>
<text x="945.5" y="1487.0" font-size="22" text-anchor="start" fill="#111" style="font-family:'Liberation Sans',sans-serif;font-weight:normal;stroke:#111;stroke-width:0.12px;" textLength="24.5" lengthAdjust="spacingAndGlyphs">15</text>
<line x1="148.2" y1="246.0" x2="148.2" y2="506.0" stroke="#666" stroke-width="0.7" stroke-dasharray="9,2,2,2"/>
<rect x="129.7" y="333.5" width="36.7" height="10.0" fill="#dcecf3" stroke="#454b50" stroke-width="0.9"/>
<rect x="136.8" y="307.0" width="22.7" height="26.5" fill="#dcecf3" stroke="#454b50" stroke-width="0.9"/>
<line x1="139.7" y1="309.0" x2="139.7" y2="332.0" stroke="#777" stroke-width="0.6" stroke-dasharray="2,1.5"/>
<line x1="156.7" y1="309.0" x2="156.7" y2="332.0" stroke="#777" stroke-width="0.6" stroke-dasharray="2,1.5"/>
<rect x="135.8" y="297.6" width="24.8" height="9.4" fill="#dcecf3" stroke="#454b50" stroke-width="0.9"/>
<rect x="140.6" y="278.2" width="14.7" height="19.4" fill="#dcecf3" stroke="#454b50" stroke-width="0.9"/>
<line x1="143.7" y1="281.0" x2="143.7" y2="296.0" stroke="#777" stroke-width="0.6" stroke-dasharray="2,1.5"/>
<line x1="152.7" y1="281.0" x2="152.7" y2="296.0" stroke="#777" stroke-width="0.6" stroke-dasharray="2,1.5"/>
<path d="M 191.8 354.6 C 198.2 354.6 202.2 357.8 203.8 364.0 L 217.2 400.7 L 201.7 400.7 Z" fill="#dcecf3" stroke="#454b50" stroke-width="0.9"/>
<line x1="202.0" y1="364.0" x2="202.0" y2="400.7" stroke="#454b50" stroke-width="0.8"/>
<rect x="110.8" y="364.7" width="61.8" height="36.0" fill="#dcecf3" stroke="#454b50" stroke-width="0.9"/>
<rect x="151.2" y="355.3" width="45.0" height="45.3" fill="#dcecf3" stroke="none" stroke-width="1"/>
<path d="M105.8,349.1 L190.0,349.1 L190.0,354.0 L161.7,355.5 L152.5,364.7 L105.8,364.7 Z" fill="#dcecf3" stroke="#454b50" stroke-width="0.9" stroke-linejoin="round"/>
<line x1="112.9" y1="349.1" x2="112.9" y2="364.7" stroke="#454b50" stroke-width="0.8"/>
<line x1="124.9" y1="349.1" x2="124.9" y2="364.7" stroke="#454b50" stroke-width="0.8"/>
<path d="M 165.6 354.6 L 191.8 354.6 Q 201.7 354.6 201.7 364.0 L 201.7 391.0 L 193.2 397.4 L 166.3 397.4 L 159.2 391.0 L 159.2 360.6 Q 159.2 354.6 165.6 354.6 Z" fill="#dcecf3" stroke="#454b50" stroke-width="0.9"/>
<rect x="105.8" y="343.4" width="84.2" height="5.7" fill="#dcecf3" stroke="#454b50" stroke-width="0.9"/>
<rect x="103.4" y="400.7" width="120.5" height="7.8" fill="#dcecf3" stroke="#454b50" stroke-width="0.9"/>
<line x1="108.2" y1="375.3" x2="220.2" y2="375.3" stroke="#666" stroke-width="0.7" stroke-dasharray="9,2,2,2"/>
<circle cx="181.2" cy="375.3" r="12.0" fill="#dcecf3" stroke="#454b50" stroke-width="0.8"/>
<circle cx="181.2" cy="375.3" r="6.6" fill="#e8f2f7" stroke="#50565c" stroke-width="1.7"/>
<line x1="181.2" y1="358.5" x2="181.2" y2="393.5" stroke="#666" stroke-width="0.6"/>
<circle cx="167.3" cy="361.4" r="3.6" fill="#c4d0d6" stroke="#454b50" stroke-width="0.8"/>
<line x1="163.2" y1="357.3" x2="171.4" y2="365.5" stroke="#454b50" stroke-width="0.7"/>
<line x1="163.2" y1="365.5" x2="171.4" y2="357.3" stroke="#454b50" stroke-width="0.7"/>
<circle cx="194.9" cy="361.4" r="3.6" fill="#c4d0d6" stroke="#454b50" stroke-width="0.8"/>
<line x1="190.8" y1="357.3" x2="199.0" y2="365.5" stroke="#454b50" stroke-width="0.7"/>
<line x1="190.8" y1="365.5" x2="199.0" y2="357.3" stroke="#454b50" stroke-width="0.7"/>
<circle cx="167.3" cy="388.7" r="3.6" fill="#c4d0d6" stroke="#454b50" stroke-width="0.8"/>
<line x1="163.2" y1="384.6" x2="171.4" y2="392.8" stroke="#454b50" stroke-width="0.7"/>
<line x1="163.2" y1="392.8" x2="171.4" y2="384.6" stroke="#454b50" stroke-width="0.7"/>
<circle cx="194.9" cy="388.7" r="3.6" fill="#c4d0d6" stroke="#454b50" stroke-width="0.8"/>
<line x1="190.8" y1="384.6" x2="199.0" y2="392.8" stroke="#454b50" stroke-width="0.7"/>
<line x1="190.8" y1="392.8" x2="199.0" y2="384.6" stroke="#454b50" stroke-width="0.7"/>
<circle cx="148.2" cy="375.3" r="4.2" fill="#e8f2f7" stroke="#454b50" stroke-width="0.8"/>
<circle cx="148.2" cy="375.3" r="1.2" fill="#333" stroke="none" stroke-width="0.9"/>
<rect x="112.2" y="337.5" width="8.4" height="5.9" fill="#dcecf3" stroke="#454b50" stroke-width="0.8"/>
<line x1="116.4" y1="334.5" x2="116.4" y2="350.5" stroke="#666" stroke-width="0.6"/>
<rect x="144.0" y="337.5" width="8.4" height="5.9" fill="#dcecf3" stroke="#454b50" stroke-width="0.8"/>
<line x1="148.2" y1="334.5" x2="148.2" y2="350.5" stroke="#666" stroke-width="0.6"/>
<rect x="175.6" y="337.5" width="8.4" height="5.9" fill="#dcecf3" stroke="#454b50" stroke-width="0.8"/>
<line x1="179.8" y1="334.5" x2="179.8" y2="350.5" stroke="#666" stroke-width="0.6"/>
<rect x="121.0" y="408.5" width="7.0" height="7.0" fill="#dcecf3" stroke="#454b50" stroke-width="0.8"/>
<rect x="168.5" y="408.5" width="7.0" height="7.0" fill="#dcecf3" stroke="#454b50" stroke-width="0.8"/>
<rect x="127.3" y="408.5" width="41.7" height="28.8" fill="#dcecf3" stroke="#454b50" stroke-width="0.9"/>
<rect x="130.0" y="437.3" width="35.8" height="47.2" fill="#dcecf3" stroke="#454b50" stroke-width="0.9"/>
<rect x="127.6" y="484.5" width="39.7" height="15.5" fill="#dcecf3" stroke="#454b50" stroke-width="0.9"/>
<line x1="148.2" y1="246.0" x2="148.2" y2="506.0" stroke="#666" stroke-width="0.7" stroke-dasharray="9,2,2,2"/>
<text x="133.0" y="236.5" font-size="16.5" text-anchor="start" fill="#111" style="font-family:'Liberation Sans',sans-serif;font-weight:normal;stroke:#111;stroke-width:0.12px;" textLength="8.5" lengthAdjust="spacingAndGlyphs">X</text>
<line x1="150.8" y1="215.0" x2="150.8" y2="237.8" stroke="#3a3a3a" stroke-width="0.9"/>
<polygon points="150.8,241.8 149.0,235.8 152.6,235.8" fill="#222"/>
<text x="96.0" y="263.8" font-size="13" text-anchor="start" fill="#111" style="font-family:'Liberation Sans',sans-serif;font-weight:normal;stroke:#111;stroke-width:0.12px;" textLength="37" lengthAdjust="spacingAndGlyphs">M25X2</text>
<line x1="91.0" y1="267.3" x2="135.0" y2="267.3" stroke="#3a3a3a" stroke-width="0.8"/>
<line x1="155.3" y1="267.3" x2="162.0" y2="267.3" stroke="#3a3a3a" stroke-width="0.8"/>
<line x1="140.6" y1="262.0" x2="140.6" y2="278.0" stroke="#3a3a3a" stroke-width="0.8"/>
<line x1="155.3" y1="262.0" x2="155.3" y2="278.0" stroke="#3a3a3a" stroke-width="0.8"/>
<polygon points="140.6,267.3 135.6,265.6 135.6,269.0" fill="#222"/>
<polygon points="155.3,267.3 160.3,265.6 160.3,269.0" fill="#222"/>
<line x1="135.0" y1="267.3" x2="140.6" y2="267.3" stroke="#3a3a3a" stroke-width="0.8"/>
<text x="106.5" y="299.4" font-size="14.5" fill="#111" style="font-family:'Liberation Sans',sans-serif;stroke:#111;stroke-width:0.12px" textLength="24.3" lengthAdjust="spacingAndGlyphs"><tspan fill="#555" style="stroke:none">ϕ</tspan>43</text>
<line x1="104.0" y1="302.7" x2="160.6" y2="302.7" stroke="#3a3a3a" stroke-width="0.8"/>
<polygon points="135.8,302.7 140.8,301.0 140.8,304.4" fill="#222"/>
<polygon points="160.6,302.7 155.6,301.0 155.6,304.4" fill="#222"/>
<text x="101.2" y="323.6" font-size="14.5" fill="#111" style="font-family:'Liberation Sans',sans-serif;stroke:#111;stroke-width:0.12px" textLength="24.3" lengthAdjust="spacingAndGlyphs"><tspan fill="#555" style="stroke:none">ϕ</tspan>62</text>
<line x1="99.7" y1="326.4" x2="166.4" y2="326.4" stroke="#3a3a3a" stroke-width="0.8"/>
<line x1="129.7" y1="318.0" x2="129.7" y2="334.0" stroke="#3a3a3a" stroke-width="0.8"/>
<line x1="166.4" y1="318.0" x2="166.4" y2="334.0" stroke="#3a3a3a" stroke-width="0.8"/>
<polygon points="129.7,326.4 134.7,324.7 134.7,328.1" fill="#222"/>
<polygon points="166.4,326.4 161.4,324.7 161.4,328.1" fill="#222"/>
<text x="74.7" y="402.6" font-size="14.5" text-anchor="middle" fill="#111" style="font-family:'Liberation Sans',sans-serif;font-weight:normal;stroke:#111;stroke-width:0.12px;" textLength="13.8" lengthAdjust="spacingAndGlyphs" transform="rotate(-90 74.7 402.6)">13</text>
<line x1="81.4" y1="394.0" x2="81.4" y2="414.6" stroke="#3a3a3a" stroke-width="0.8"/>
<line x1="78.0" y1="401.0" x2="103.0" y2="401.0" stroke="#3a3a3a" stroke-width="0.8"/>
<line x1="78.0" y1="408.5" x2="103.0" y2="408.5" stroke="#3a3a3a" stroke-width="0.8"/>
<polygon points="81.4,401.0 79.7,397.0 83.1,397.0" fill="#222"/>
<polygon points="81.4,408.5 79.7,412.5 83.1,412.5" fill="#222"/>
<text x="90.0" y="439.0" font-size="14.5" fill="#111" style="font-family:'Liberation Sans',sans-serif;stroke:#111;stroke-width:0.12px" textLength="23.6" lengthAdjust="spacingAndGlyphs"><tspan fill="#555" style="stroke:none">ϕ</tspan>95</text>
<line x1="90.0" y1="441.0" x2="175.5" y2="441.0" stroke="#3a3a3a" stroke-width="0.8"/>
<line x1="121.0" y1="416.0" x2="121.0" y2="445.0" stroke="#3a3a3a" stroke-width="0.8"/>
<line x1="175.5" y1="416.0" x2="175.5" y2="445.0" stroke="#3a3a3a" stroke-width="0.8"/>
<polygon points="121.0,441.0 126.0,439.3 126.0,442.7" fill="#222"/>
<polygon points="175.5,441.0 170.5,439.3 170.5,442.7" fill="#222"/>
<text x="97.0" y="490.0" font-size="14.5" fill="#111" style="font-family:'Liberation Sans',sans-serif;stroke:#111;stroke-width:0.12px" textLength="24" lengthAdjust="spacingAndGlyphs"><tspan fill="#555" style="stroke:none">ϕ</tspan>58</text>
<line x1="97.0" y1="491.8" x2="167.3" y2="491.8" stroke="#3a3a3a" stroke-width="0.8"/>
<polygon points="127.6,491.8 132.6,490.1 132.6,493.5" fill="#222"/>
<polygon points="167.3,491.8 162.3,490.1 162.3,493.5" fill="#222"/>
<line x1="155.3" y1="278.2" x2="299.0" y2="278.2" stroke="#555" stroke-width="0.7"/>
<line x1="160.6" y1="297.3" x2="299.0" y2="297.3" stroke="#555" stroke-width="0.7"/>
<line x1="160.6" y1="306.4" x2="271.0" y2="306.4" stroke="#555" stroke-width="0.7"/>
<line x1="166.4" y1="333.3" x2="273.6" y2="333.3" stroke="#555" stroke-width="0.7"/>
<line x1="223.7" y1="408.5" x2="299.0" y2="408.5" stroke="#555" stroke-width="0.7"/>
<line x1="175.5" y1="415.5" x2="250.7" y2="415.5" stroke="#555" stroke-width="0.7"/>
<line x1="167.3" y1="500.0" x2="299.0" y2="500.0" stroke="#555" stroke-width="0.7"/>
<line x1="218.0" y1="375.5" x2="250.0" y2="375.5" stroke="#666" stroke-width="0.7" stroke-dasharray="9,2,2,2"/>
<line x1="293.0" y1="278.2" x2="293.0" y2="500.0" stroke="#3a3a3a" stroke-width="0.8"/>
<polygon points="293.0,278.2 291.3,283.2 294.7,283.2" fill="#222"/>
<polygon points="293.0,297.3 291.3,292.3 294.7,292.3" fill="#222"/>
<polygon points="293.0,297.3 291.3,302.3 294.7,302.3" fill="#222"/>
<polygon points="293.0,408.5 291.3,403.5 294.7,403.5" fill="#222"/>
<polygon points="293.0,408.5 291.3,413.5 294.7,413.5" fill="#222"/>
<polygon points="293.0,500.0 291.3,495.0 294.7,495.0" fill="#222"/>
<line x1="264.5" y1="289.7" x2="264.5" y2="408.5" stroke="#3a3a3a" stroke-width="0.8"/>
<polygon points="264.5,306.4 262.8,301.4 266.2,301.4" fill="#222"/>
<polygon points="264.5,333.3 262.8,338.3 266.2,338.3" fill="#222"/>
<polygon points="264.5,408.5 262.8,403.5 266.2,403.5" fill="#222"/>
<line x1="244.8" y1="375.5" x2="244.8" y2="437.0" stroke="#3a3a3a" stroke-width="0.8"/>
<polygon points="244.8,375.5 243.1,380.5 246.5,380.5" fill="#222"/>
<polygon points="244.8,408.5 243.1,403.5 246.5,403.5" fill="#222"/>
<polygon points="244.8,415.5 243.1,420.5 246.5,420.5" fill="#222"/>
<text x="289.4" y="287.2" font-size="14.5" text-anchor="middle" fill="#111" style="font-family:'Liberation Sans',sans-serif;font-weight:normal;stroke:#111;stroke-width:0.12px;" textLength="14.5" lengthAdjust="spacingAndGlyphs" transform="rotate(-90 289.4 287.2)">32</text>
<text x="262.4" y="319.4" font-size="14.5" text-anchor="middle" fill="#111" style="font-family:'Liberation Sans',sans-serif;font-weight:normal;stroke:#111;stroke-width:0.12px;" textLength="12.2" lengthAdjust="spacingAndGlyphs" transform="rotate(-90 262.4 319.4)">15</text>
<text x="288.9" y="347.5" font-size="14.5" text-anchor="middle" fill="#111" style="font-family:'Liberation Sans',sans-serif;font-weight:normal;stroke:#111;stroke-width:0.12px;" textLength="7" lengthAdjust="spacingAndGlyphs" transform="rotate(-90 288.9 347.5)">X</text>
<text x="262.4" y="368.4" font-size="14.5" text-anchor="middle" fill="#111" style="font-family:'Liberation Sans',sans-serif;font-weight:normal;stroke:#111;stroke-width:0.12px;" textLength="19.5" lengthAdjust="spacingAndGlyphs" transform="rotate(-90 262.4 368.4)">129</text>
<text x="244.0" y="393.2" font-size="14.5" text-anchor="middle" fill="#111" style="font-family:'Liberation Sans',sans-serif;font-weight:normal;stroke:#111;stroke-width:0.12px;" textLength="15" lengthAdjust="spacingAndGlyphs" transform="rotate(-90 244.0 393.2)">56</text>
<text x="244.0" y="428.3" font-size="14.5" text-anchor="middle" fill="#111" style="font-family:'Liberation Sans',sans-serif;font-weight:normal;stroke:#111;stroke-width:0.12px;" textLength="13.7" lengthAdjust="spacingAndGlyphs" transform="rotate(-90 244.0 428.3)">11</text>
<text x="291.9" y="454.0" font-size="14.5" text-anchor="middle" fill="#111" style="font-family:'Liberation Sans',sans-serif;font-weight:normal;stroke:#111;stroke-width:0.12px;" textLength="7" lengthAdjust="spacingAndGlyphs" transform="rotate(-90 291.9 454.0)">L</text>
<rect x="762.8" y="315.8" width="40.4" height="25.6" fill="#dcecf3" stroke="#454b50" stroke-width="0.9"/>
<rect x="755.2" y="341.0" width="54.5" height="4.1" fill="#dcecf3" stroke="#454b50" stroke-width="0.8"/>
<rect x="765.2" y="268.2" width="35.6" height="47.6" fill="#dcecf3" stroke="#454b50" stroke-width="0.9"/>
<rect x="762.3" y="254.0" width="41.4" height="14.2" fill="#dcecf3" stroke="#454b50" stroke-width="0.9"/>
<path d="M 825.6 356.1 C 832.0 356.1 836.0 359.3 837.6 365.5 L 851.0 402.2 L 835.5 402.2 Z" fill="#dcecf3" stroke="#454b50" stroke-width="0.9"/>
<line x1="835.8" y1="365.5" x2="835.8" y2="402.2" stroke="#454b50" stroke-width="0.8"/>
<rect x="744.6" y="366.2" width="61.8" height="36.0" fill="#dcecf3" stroke="#454b50" stroke-width="0.9"/>
<rect x="785.0" y="356.8" width="45.0" height="45.3" fill="#dcecf3" stroke="none" stroke-width="1"/>
<path d="M739.6,350.6 L823.8,350.6 L823.8,355.5 L795.5,357.0 L786.3,366.2 L739.6,366.2 Z" fill="#dcecf3" stroke="#454b50" stroke-width="0.9" stroke-linejoin="round"/>
<line x1="746.7" y1="350.6" x2="746.7" y2="366.2" stroke="#454b50" stroke-width="0.8"/>
<line x1="758.7" y1="350.6" x2="758.7" y2="366.2" stroke="#454b50" stroke-width="0.8"/>
<path d="M 799.4 356.1 L 825.6 356.1 Q 835.5 356.1 835.5 365.5 L 835.5 392.5 L 827.0 398.9 L 800.1 398.9 L 793.0 392.5 L 793.0 362.1 Q 793.0 356.1 799.4 356.1 Z" fill="#dcecf3" stroke="#454b50" stroke-width="0.9"/>
<rect x="739.6" y="344.9" width="84.2" height="5.7" fill="#dcecf3" stroke="#454b50" stroke-width="0.9"/>
<rect x="737.2" y="402.2" width="120.5" height="7.8" fill="#dcecf3" stroke="#454b50" stroke-width="0.9"/>
<line x1="742.0" y1="376.8" x2="854.0" y2="376.8" stroke="#666" stroke-width="0.7" stroke-dasharray="9,2,2,2"/>
<circle cx="815.0" cy="376.8" r="12.0" fill="#dcecf3" stroke="#454b50" stroke-width="0.8"/>
<circle cx="815.0" cy="376.8" r="6.6" fill="#e8f2f7" stroke="#50565c" stroke-width="1.7"/>
<line x1="815.0" y1="360.0" x2="815.0" y2="395.0" stroke="#666" stroke-width="0.6"/>
<circle cx="801.1" cy="362.9" r="3.6" fill="#c4d0d6" stroke="#454b50" stroke-width="0.8"/>
<line x1="797.0" y1="358.8" x2="805.2" y2="367.0" stroke="#454b50" stroke-width="0.7"/>
<line x1="797.0" y1="367.0" x2="805.2" y2="358.8" stroke="#454b50" stroke-width="0.7"/>
<circle cx="828.7" cy="362.9" r="3.6" fill="#c4d0d6" stroke="#454b50" stroke-width="0.8"/>
<line x1="824.6" y1="358.8" x2="832.8" y2="367.0" stroke="#454b50" stroke-width="0.7"/>
<line x1="824.6" y1="367.0" x2="832.8" y2="358.8" stroke="#454b50" stroke-width="0.7"/>
<circle cx="801.1" cy="390.2" r="3.6" fill="#c4d0d6" stroke="#454b50" stroke-width="0.8"/>
<line x1="797.0" y1="386.1" x2="805.2" y2="394.3" stroke="#454b50" stroke-width="0.7"/>
<line x1="797.0" y1="394.3" x2="805.2" y2="386.1" stroke="#454b50" stroke-width="0.7"/>
<circle cx="828.7" cy="390.2" r="3.6" fill="#c4d0d6" stroke="#454b50" stroke-width="0.8"/>
<line x1="824.6" y1="386.1" x2="832.8" y2="394.3" stroke="#454b50" stroke-width="0.7"/>
<line x1="824.6" y1="394.3" x2="832.8" y2="386.1" stroke="#454b50" stroke-width="0.7"/>
<circle cx="782.0" cy="376.8" r="4.2" fill="#e8f2f7" stroke="#454b50" stroke-width="0.8"/>
<circle cx="782.0" cy="376.8" r="1.2" fill="#333" stroke="none" stroke-width="0.9"/>
<rect x="746.0" y="339.0" width="8.4" height="5.9" fill="#dcecf3" stroke="#454b50" stroke-width="0.8"/>
<line x1="750.2" y1="336.0" x2="750.2" y2="352.0" stroke="#666" stroke-width="0.6"/>
<rect x="777.8" y="339.0" width="8.4" height="5.9" fill="#dcecf3" stroke="#454b50" stroke-width="0.8"/>
<line x1="782.0" y1="336.0" x2="782.0" y2="352.0" stroke="#666" stroke-width="0.6"/>
<rect x="809.4" y="339.0" width="8.4" height="5.9" fill="#dcecf3" stroke="#454b50" stroke-width="0.8"/>
<line x1="813.6" y1="336.0" x2="813.6" y2="352.0" stroke="#666" stroke-width="0.6"/>
<rect x="761.0" y="410.0" width="45.3" height="4.8" fill="#dcecf3" stroke="#454b50" stroke-width="0.9"/>
<rect x="765.0" y="414.8" width="36.5" height="6.5" fill="#dcecf3" stroke="#454b50" stroke-width="0.9"/>
<rect x="770.8" y="421.3" width="24.2" height="23.4" fill="#dcecf3" stroke="#454b50" stroke-width="0.9"/>
<line x1="774.0" y1="423.0" x2="774.0" y2="443.0" stroke="#777" stroke-width="0.6" stroke-dasharray="2,1.5"/>
<line x1="790.0" y1="423.0" x2="790.0" y2="443.0" stroke="#777" stroke-width="0.6" stroke-dasharray="2,1.5"/>
<rect x="770.0" y="444.7" width="25.8" height="9.7" fill="#dcecf3" stroke="#454b50" stroke-width="0.9"/>
<rect x="774.8" y="454.4" width="15.4" height="17.8" fill="#dcecf3" stroke="#454b50" stroke-width="0.9"/>
<line x1="782.0" y1="246.0" x2="782.0" y2="490.0" stroke="#666" stroke-width="0.7" stroke-dasharray="9,2,2,2"/>
<text x="766.8" y="236.7" font-size="16.5" text-anchor="start" fill="#111" style="font-family:'Liberation Sans',sans-serif;font-weight:normal;stroke:#111;stroke-width:0.12px;" textLength="8.5" lengthAdjust="spacingAndGlyphs">X</text>
<line x1="784.1" y1="215.7" x2="784.1" y2="237.5" stroke="#3a3a3a" stroke-width="0.9"/>
<polygon points="784.1,241.5 782.3,235.5 785.9,235.5" fill="#222"/>
<text x="733.0" y="259.3" font-size="14.5" fill="#111" style="font-family:'Liberation Sans',sans-serif;stroke:#111;stroke-width:0.12px" textLength="24" lengthAdjust="spacingAndGlyphs"><tspan fill="#555" style="stroke:none">ϕ</tspan>58</text>
<line x1="736.0" y1="261.7" x2="803.7" y2="261.7" stroke="#3a3a3a" stroke-width="0.8"/>
<polygon points="762.3,261.7 767.3,260.0 767.3,263.4" fill="#222"/>
<polygon points="803.7,261.7 798.7,260.0 798.7,263.4" fill="#222"/>
<text x="726.5" y="307.0" font-size="14.5" fill="#111" style="font-family:'Liberation Sans',sans-serif;stroke:#111;stroke-width:0.12px" textLength="23.5" lengthAdjust="spacingAndGlyphs"><tspan fill="#555" style="stroke:none">ϕ</tspan>95</text>
<line x1="728.0" y1="309.4" x2="809.7" y2="309.4" stroke="#3a3a3a" stroke-width="0.8"/>
<line x1="755.2" y1="303.0" x2="755.2" y2="345.0" stroke="#3a3a3a" stroke-width="0.8"/>
<line x1="809.7" y1="303.0" x2="809.7" y2="345.0" stroke="#3a3a3a" stroke-width="0.8"/>
<polygon points="755.2,309.4 760.2,307.7 760.2,311.1" fill="#222"/>
<polygon points="809.7,309.4 804.7,307.7 804.7,311.1" fill="#222"/>
<text x="708.2" y="407.0" font-size="14.5" text-anchor="middle" fill="#111" style="font-family:'Liberation Sans',sans-serif;font-weight:normal;stroke:#111;stroke-width:0.12px;" textLength="12.2" lengthAdjust="spacingAndGlyphs" transform="rotate(-90 708.2 407.0)">13</text>
<line x1="715.0" y1="396.0" x2="715.0" y2="416.0" stroke="#3a3a3a" stroke-width="0.8"/>
<line x1="708.0" y1="402.2" x2="738.5" y2="402.2" stroke="#3a3a3a" stroke-width="0.8"/>
<line x1="708.0" y1="410.0" x2="738.5" y2="410.0" stroke="#3a3a3a" stroke-width="0.8"/>
<polygon points="715.0,402.2 713.3,398.2 716.7,398.2" fill="#222"/>
<polygon points="715.0,410.0 713.3,414.0 716.7,414.0" fill="#222"/>
<text x="728.8" y="424.5" font-size="14.5" fill="#111" style="font-family:'Liberation Sans',sans-serif;stroke:#111;stroke-width:0.12px" textLength="23.4" lengthAdjust="spacingAndGlyphs"><tspan fill="#555" style="stroke:none">ϕ</tspan>95</text>
<line x1="735.0" y1="426.0" x2="806.3" y2="426.0" stroke="#3a3a3a" stroke-width="0.8"/>
<line x1="761.0" y1="414.0" x2="761.0" y2="430.0" stroke="#3a3a3a" stroke-width="0.8"/>
<line x1="806.3" y1="414.0" x2="806.3" y2="430.0" stroke="#3a3a3a" stroke-width="0.8"/>
<polygon points="761.0,426.0 766.0,424.3 766.0,427.7" fill="#222"/>
<polygon points="806.3,426.0 801.3,424.3 801.3,427.7" fill="#222"/>
<text x="732.8" y="440.0" font-size="14.5" fill="#111" style="font-family:'Liberation Sans',sans-serif;stroke:#111;stroke-width:0.12px" textLength="23.5" lengthAdjust="spacingAndGlyphs"><tspan fill="#555" style="stroke:none">ϕ</tspan>62</text>
<line x1="737.0" y1="441.5" x2="801.5" y2="441.5" stroke="#3a3a3a" stroke-width="0.8"/>
<line x1="765.0" y1="421.0" x2="765.0" y2="446.0" stroke="#3a3a3a" stroke-width="0.8"/>
<line x1="801.5" y1="421.0" x2="801.5" y2="446.0" stroke="#3a3a3a" stroke-width="0.8"/>
<polygon points="765.0,441.5 770.0,439.8 770.0,443.2" fill="#222"/>
<polygon points="801.5,441.5 796.5,439.8 796.5,443.2" fill="#222"/>
<text x="738.5" y="455.0" font-size="14.5" fill="#111" style="font-family:'Liberation Sans',sans-serif;stroke:#111;stroke-width:0.12px" textLength="22.5" lengthAdjust="spacingAndGlyphs"><tspan fill="#555" style="stroke:none">ϕ</tspan>43</text>
<line x1="741.0" y1="459.3" x2="795.8" y2="459.3" stroke="#3a3a3a" stroke-width="0.8"/>
<polygon points="770.0,459.3 775.0,457.6 775.0,461.0" fill="#222"/>
<polygon points="795.8,459.3 790.8,457.6 790.8,461.0" fill="#222"/>
<line x1="770.0" y1="454.0" x2="770.0" y2="464.0" stroke="#3a3a3a" stroke-width="0.8"/>
<line x1="795.8" y1="454.0" x2="795.8" y2="464.0" stroke="#3a3a3a" stroke-width="0.8"/>
<text x="730.4" y="482.0" font-size="13" text-anchor="start" fill="#111" style="font-family:'Liberation Sans',sans-serif;font-weight:normal;stroke:#111;stroke-width:0.12px;" textLength="37.2" lengthAdjust="spacingAndGlyphs">M25X2</text>
<line x1="726.0" y1="485.4" x2="797.0" y2="485.4" stroke="#3a3a3a" stroke-width="0.8"/>
<line x1="774.8" y1="472.0" x2="774.8" y2="490.0" stroke="#3a3a3a" stroke-width="0.8"/>
<line x1="790.2" y1="472.0" x2="790.2" y2="490.0" stroke="#3a3a3a" stroke-width="0.8"/>
<polygon points="774.8,485.4 769.8,483.7 769.8,487.1" fill="#222"/>
<polygon points="790.2,485.4 795.2,483.7 795.2,487.1" fill="#222"/>
<line x1="803.7" y1="254.0" x2="908.5" y2="254.0" stroke="#555" stroke-width="0.7"/>
<line x1="824.0" y1="345.0" x2="908.5" y2="345.0" stroke="#555" stroke-width="0.7"/>
<line x1="858.4" y1="410.0" x2="908.5" y2="410.0" stroke="#555" stroke-width="0.7"/>
<line x1="795.8" y1="454.4" x2="908.5" y2="454.4" stroke="#555" stroke-width="0.7"/>
<line x1="790.2" y1="472.2" x2="908.5" y2="472.2" stroke="#555" stroke-width="0.7"/>
<line x1="801.5" y1="421.3" x2="882.0" y2="421.3" stroke="#555" stroke-width="0.7"/>
<line x1="795.0" y1="445.3" x2="860.6" y2="445.3" stroke="#555" stroke-width="0.7"/>
<line x1="850.0" y1="377.2" x2="882.0" y2="377.2" stroke="#666" stroke-width="0.7" stroke-dasharray="9,2,2,2"/>
<line x1="903.9" y1="254.0" x2="903.9" y2="472.2" stroke="#3a3a3a" stroke-width="0.8"/>
<polygon points="903.9,254.0 902.2,259.0 905.6,259.0" fill="#222"/>
<polygon points="903.9,345.0 902.2,340.0 905.6,340.0" fill="#222"/>
<polygon points="903.9,345.0 902.2,350.0 905.6,350.0" fill="#222"/>
<polygon points="903.9,410.0 902.2,405.0 905.6,405.0" fill="#222"/>
<polygon points="903.9,410.0 902.2,415.0 905.6,415.0" fill="#222"/>
<polygon points="903.9,454.4 902.2,449.4 905.6,449.4" fill="#222"/>
<polygon points="903.9,454.4 902.2,459.4 905.6,459.4" fill="#222"/>
<polygon points="903.9,472.2 902.2,467.2 905.6,467.2" fill="#222"/>
<line x1="876.6" y1="377.2" x2="876.6" y2="443.3" stroke="#3a3a3a" stroke-width="0.8"/>
<polygon points="876.6,377.2 874.9,382.2 878.3,382.2" fill="#222"/>
<polygon points="876.6,410.0 874.9,405.0 878.3,405.0" fill="#222"/>
<polygon points="876.6,421.3 874.9,426.3 878.3,426.3" fill="#222"/>
<line x1="854.8" y1="425.0" x2="854.8" y2="464.8" stroke="#3a3a3a" stroke-width="0.8"/>
<polygon points="854.8,445.3 853.1,440.3 856.5,440.3" fill="#222"/>
<polygon points="854.8,454.4 853.1,459.4 856.5,459.4" fill="#222"/>
<text x="898.8" y="300.3" font-size="14.5" text-anchor="middle" fill="#111" style="font-family:'Liberation Sans',sans-serif;font-weight:normal;stroke:#111;stroke-width:0.12px;" textLength="7" lengthAdjust="spacingAndGlyphs" transform="rotate(-90 898.8 300.3)">L</text>
<text x="898.8" y="377.2" font-size="14.5" text-anchor="middle" fill="#111" style="font-family:'Liberation Sans',sans-serif;font-weight:normal;stroke:#111;stroke-width:0.12px;" textLength="19.7" lengthAdjust="spacingAndGlyphs" transform="rotate(-90 898.8 377.2)">112</text>
<text x="874.0" y="395.4" font-size="14.5" text-anchor="middle" fill="#111" style="font-family:'Liberation Sans',sans-serif;font-weight:normal;stroke:#111;stroke-width:0.12px;" textLength="14.8" lengthAdjust="spacingAndGlyphs" transform="rotate(-90 874.0 395.4)">56</text>
<text x="874.0" y="433.0" font-size="14.5" text-anchor="middle" fill="#111" style="font-family:'Liberation Sans',sans-serif;font-weight:normal;stroke:#111;stroke-width:0.12px;" textLength="14" lengthAdjust="spacingAndGlyphs" transform="rotate(-90 874.0 433.0)">17</text>
<text x="852.9" y="433.8" font-size="14.5" text-anchor="middle" fill="#111" style="font-family:'Liberation Sans',sans-serif;font-weight:normal;stroke:#111;stroke-width:0.12px;" textLength="12.4" lengthAdjust="spacingAndGlyphs" transform="rotate(-90 852.9 433.8)">15</text>
<text x="898.8" y="432.6" font-size="14.5" text-anchor="middle" fill="#111" style="font-family:'Liberation Sans',sans-serif;font-weight:normal;stroke:#111;stroke-width:0.12px;" textLength="6.6" lengthAdjust="spacingAndGlyphs" transform="rotate(-90 898.8 432.6)">X</text>
<text x="898.8" y="463.2" font-size="14.5" text-anchor="middle" fill="#111" style="font-family:'Liberation Sans',sans-serif;font-weight:normal;stroke:#111;stroke-width:0.12px;" textLength="14.9" lengthAdjust="spacingAndGlyphs" transform="rotate(-90 898.8 463.2)">32</text>
<rect x="131.4" y="916.8" width="36.6" height="10.5" fill="#dcecf3" stroke="#454b50" stroke-width="0.9"/>
<rect x="138.2" y="889.3" width="23.4" height="27.5" fill="#dcecf3" stroke="#454b50" stroke-width="0.9"/>
<line x1="141.1" y1="891.0" x2="141.1" y2="915.0" stroke="#777" stroke-width="0.6" stroke-dasharray="2,1.5"/>
<line x1="158.1" y1="891.0" x2="158.1" y2="915.0" stroke="#777" stroke-width="0.6" stroke-dasharray="2,1.5"/>
<rect x="136.5" y="881.2" width="25.9" height="8.1" fill="#dcecf3" stroke="#454b50" stroke-width="0.9"/>
<rect x="142.2" y="861.8" width="15.3" height="19.4" fill="#dcecf3" stroke="#454b50" stroke-width="0.9"/>
<line x1="145.1" y1="864.0" x2="145.1" y2="880.0" stroke="#777" stroke-width="0.6" stroke-dasharray="2,1.5"/>
<line x1="154.1" y1="864.0" x2="154.1" y2="880.0" stroke="#777" stroke-width="0.6" stroke-dasharray="2,1.5"/>
<path d="M 193.2 939.7 C 199.6 939.7 203.6 942.9 205.2 949.1 L 218.6 985.8 L 203.1 985.8 Z" fill="#dcecf3" stroke="#454b50" stroke-width="0.9"/>
<line x1="203.4" y1="949.1" x2="203.4" y2="985.8" stroke="#454b50" stroke-width="0.8"/>
<rect x="112.2" y="949.8" width="61.8" height="36.0" fill="#dcecf3" stroke="#454b50" stroke-width="0.9"/>
<rect x="152.6" y="940.4" width="45.0" height="45.3" fill="#dcecf3" stroke="none" stroke-width="1"/>
<path d="M107.2,934.2 L191.4,934.2 L191.4,939.1 L163.1,940.6 L153.9,949.8 L107.2,949.8 Z" fill="#dcecf3" stroke="#454b50" stroke-width="0.9" stroke-linejoin="round"/>
<line x1="114.3" y1="934.2" x2="114.3" y2="949.8" stroke="#454b50" stroke-width="0.8"/>
<line x1="126.3" y1="934.2" x2="126.3" y2="949.8" stroke="#454b50" stroke-width="0.8"/>
<path d="M 167.0 939.7 L 193.2 939.7 Q 203.1 939.7 203.1 949.1 L 203.1 976.1 L 194.6 982.5 L 167.7 982.5 L 160.6 976.1 L 160.6 945.7 Q 160.6 939.7 167.0 939.7 Z" fill="#dcecf3" stroke="#454b50" stroke-width="0.9"/>
<rect x="107.2" y="928.5" width="84.2" height="5.7" fill="#dcecf3" stroke="#454b50" stroke-width="0.9"/>
<rect x="104.8" y="985.8" width="120.5" height="7.8" fill="#dcecf3" stroke="#454b50" stroke-width="0.9"/>
<line x1="109.6" y1="960.4" x2="221.6" y2="960.4" stroke="#666" stroke-width="0.7" stroke-dasharray="9,2,2,2"/>
<circle cx="182.6" cy="960.4" r="12.0" fill="#dcecf3" stroke="#454b50" stroke-width="0.8"/>
<circle cx="182.6" cy="960.4" r="6.6" fill="#e8f2f7" stroke="#50565c" stroke-width="1.7"/>
<line x1="182.6" y1="943.6" x2="182.6" y2="978.6" stroke="#666" stroke-width="0.6"/>
<circle cx="168.7" cy="946.5" r="3.6" fill="#c4d0d6" stroke="#454b50" stroke-width="0.8"/>
<line x1="164.6" y1="942.4" x2="172.8" y2="950.6" stroke="#454b50" stroke-width="0.7"/>
<line x1="164.6" y1="950.6" x2="172.8" y2="942.4" stroke="#454b50" stroke-width="0.7"/>
<circle cx="196.3" cy="946.5" r="3.6" fill="#c4d0d6" stroke="#454b50" stroke-width="0.8"/>
<line x1="192.2" y1="942.4" x2="200.4" y2="950.6" stroke="#454b50" stroke-width="0.7"/>
<line x1="192.2" y1="950.6" x2="200.4" y2="942.4" stroke="#454b50" stroke-width="0.7"/>
<circle cx="168.7" cy="973.8" r="3.6" fill="#c4d0d6" stroke="#454b50" stroke-width="0.8"/>
<line x1="164.6" y1="969.7" x2="172.8" y2="977.9" stroke="#454b50" stroke-width="0.7"/>
<line x1="164.6" y1="977.9" x2="172.8" y2="969.7" stroke="#454b50" stroke-width="0.7"/>
<circle cx="196.3" cy="973.8" r="3.6" fill="#c4d0d6" stroke="#454b50" stroke-width="0.8"/>
<line x1="192.2" y1="969.7" x2="200.4" y2="977.9" stroke="#454b50" stroke-width="0.7"/>
<line x1="192.2" y1="977.9" x2="200.4" y2="969.7" stroke="#454b50" stroke-width="0.7"/>
<circle cx="149.6" cy="960.4" r="4.2" fill="#e8f2f7" stroke="#454b50" stroke-width="0.8"/>
<circle cx="149.6" cy="960.4" r="1.2" fill="#333" stroke="none" stroke-width="0.9"/>
<rect x="113.6" y="922.6" width="8.4" height="5.9" fill="#dcecf3" stroke="#454b50" stroke-width="0.8"/>
<line x1="117.8" y1="919.6" x2="117.8" y2="935.6" stroke="#666" stroke-width="0.6"/>
<rect x="145.4" y="922.6" width="8.4" height="5.9" fill="#dcecf3" stroke="#454b50" stroke-width="0.8"/>
<line x1="149.6" y1="919.6" x2="149.6" y2="935.6" stroke="#666" stroke-width="0.6"/>
<rect x="177.0" y="922.6" width="8.4" height="5.9" fill="#dcecf3" stroke="#454b50" stroke-width="0.8"/>
<line x1="181.2" y1="919.6" x2="181.2" y2="935.6" stroke="#666" stroke-width="0.6"/>
<rect x="114.5" y="993.6" width="69.1" height="7.4" fill="#dcecf3" stroke="#454b50" stroke-width="0.8"/>
<line x1="139.0" y1="993.6" x2="139.0" y2="1001.0" stroke="#454b50" stroke-width="0.7"/>
<line x1="160.0" y1="993.6" x2="160.0" y2="1001.0" stroke="#454b50" stroke-width="0.7"/>
<rect x="117.5" y="1001.0" width="5.0" height="4.5" fill="#dcecf3" stroke="#454b50" stroke-width="0.7"/>
<rect x="146.5" y="1001.0" width="5.0" height="4.5" fill="#dcecf3" stroke="#454b50" stroke-width="0.7"/>
<rect x="174.8" y="1001.0" width="5.0" height="4.5" fill="#dcecf3" stroke="#454b50" stroke-width="0.7"/>
<rect x="131.5" y="1001.0" width="36.1" height="82.6" fill="#dcecf3" stroke="#454b50" stroke-width="0.9"/>
<line x1="149.6" y1="855.0" x2="149.6" y2="1090.0" stroke="#666" stroke-width="0.7" stroke-dasharray="9,2,2,2"/>
<text x="194.7" y="842.5" font-size="16.5" text-anchor="start" fill="#111" style="font-family:'Liberation Sans',sans-serif;font-weight:normal;stroke:#111;stroke-width:0.12px;" textLength="8.5" lengthAdjust="spacingAndGlyphs">X</text>
<line x1="212.2" y1="821.5" x2="212.2" y2="843.3" stroke="#3a3a3a" stroke-width="0.9"/>
<polygon points="212.2,847.3 210.4,841.3 214.0,841.3" fill="#222"/>
<text x="96.0" y="849.0" font-size="13" text-anchor="start" fill="#111" style="font-family:'Liberation Sans',sans-serif;font-weight:normal;stroke:#111;stroke-width:0.12px;" textLength="37.3" lengthAdjust="spacingAndGlyphs">M20X2</text>
<line x1="87.3" y1="850.2" x2="164.8" y2="850.2" stroke="#3a3a3a" stroke-width="0.8"/>
<line x1="142.2" y1="845.0" x2="142.2" y2="862.0" stroke="#3a3a3a" stroke-width="0.8"/>
<line x1="157.5" y1="845.0" x2="157.5" y2="862.0" stroke="#3a3a3a" stroke-width="0.8"/>
<polygon points="142.2,850.2 137.2,848.5 137.2,851.9" fill="#222"/>
<polygon points="157.5,850.2 162.5,848.5 162.5,851.9" fill="#222"/>
<text x="106.7" y="882.9" font-size="14.5" fill="#111" style="font-family:'Liberation Sans',sans-serif;stroke:#111;stroke-width:0.12px" textLength="23.3" lengthAdjust="spacingAndGlyphs"><tspan fill="#555" style="stroke:none">ϕ</tspan>43</text>
<line x1="105.8" y1="886.0" x2="162.4" y2="886.0" stroke="#3a3a3a" stroke-width="0.8"/>
<polygon points="136.5,886.0 141.5,884.3 141.5,887.7" fill="#222"/>
<polygon points="162.4,886.0 157.4,884.3 157.4,887.7" fill="#222"/>
<text x="102.6" y="907.9" font-size="14.5" fill="#111" style="font-family:'Liberation Sans',sans-serif;stroke:#111;stroke-width:0.12px" textLength="24.2" lengthAdjust="spacingAndGlyphs"><tspan fill="#555" style="stroke:none">ϕ</tspan>62</text>
<line x1="101.0" y1="910.3" x2="168.0" y2="910.3" stroke="#3a3a3a" stroke-width="0.8"/>
<line x1="131.4" y1="902.0" x2="131.4" y2="917.0" stroke="#3a3a3a" stroke-width="0.8"/>
<line x1="168.0" y1="902.0" x2="168.0" y2="917.0" stroke="#3a3a3a" stroke-width="0.8"/>
<polygon points="131.4,910.3 136.4,908.6 136.4,912.0" fill="#222"/>
<polygon points="168.0,910.3 163.0,908.6 163.0,912.0" fill="#222"/>
<text x="75.2" y="989.5" font-size="14.5" text-anchor="middle" fill="#111" style="font-family:'Liberation Sans',sans-serif;font-weight:normal;stroke:#111;stroke-width:0.12px;" textLength="13.7" lengthAdjust="spacingAndGlyphs" transform="rotate(-90 75.2 989.5)">13</text>
<line x1="82.7" y1="978.0" x2="82.7" y2="1000.0" stroke="#3a3a3a" stroke-width="0.8"/>
<line x1="78.0" y1="985.5" x2="104.5" y2="985.5" stroke="#3a3a3a" stroke-width="0.8"/>
<line x1="78.0" y1="993.6" x2="104.5" y2="993.6" stroke="#3a3a3a" stroke-width="0.8"/>
<polygon points="82.7,985.5 81.0,981.5 84.4,981.5" fill="#222"/>
<polygon points="82.7,993.6 81.0,997.6 84.4,997.6" fill="#222"/>
<rect x="101.5" y="1063" width="8.5" height="8.5" fill="none" stroke="#333" stroke-width="0.9"/>
<text x="112.0" y="1071.8" font-size="14.5" text-anchor="start" fill="#111" style="font-family:'Liberation Sans',sans-serif;font-weight:normal;stroke:#111;stroke-width:0.12px;" textLength="14.4" lengthAdjust="spacingAndGlyphs">65</text>
<line x1="100.0" y1="1075.0" x2="167.6" y2="1075.0" stroke="#3a3a3a" stroke-width="0.8"/>
<polygon points="131.5,1075.0 136.5,1073.3 136.5,1076.7" fill="#222"/>
<polygon points="167.6,1075.0 162.6,1073.3 162.6,1076.7" fill="#222"/>
<line x1="157.5" y1="862.0" x2="301.0" y2="862.0" stroke="#555" stroke-width="0.7"/>
<line x1="162.4" y1="881.4" x2="301.0" y2="881.4" stroke="#555" stroke-width="0.7"/>
<line x1="161.6" y1="889.7" x2="273.3" y2="889.7" stroke="#555" stroke-width="0.7"/>
<line x1="168.0" y1="917.5" x2="275.0" y2="917.5" stroke="#555" stroke-width="0.7"/>
<line x1="225.5" y1="993.3" x2="301.0" y2="993.3" stroke="#555" stroke-width="0.7"/>
<line x1="183.6" y1="1000.5" x2="252.0" y2="1000.5" stroke="#555" stroke-width="0.7"/>
<line x1="167.6" y1="1083.3" x2="303.5" y2="1083.3" stroke="#555" stroke-width="0.7"/>
<line x1="220.0" y1="959.5" x2="252.0" y2="959.5" stroke="#666" stroke-width="0.7" stroke-dasharray="9,2,2,2"/>
<line x1="294.8" y1="862.0" x2="294.8" y2="1083.3" stroke="#3a3a3a" stroke-width="0.8"/>
<polygon points="294.8,862.0 293.1,867.0 296.5,867.0" fill="#222"/>
<polygon points="294.8,881.4 293.1,876.4 296.5,876.4" fill="#222"/>
<polygon points="294.8,881.4 293.1,886.4 296.5,886.4" fill="#222"/>
<polygon points="294.8,993.3 293.1,988.3 296.5,988.3" fill="#222"/>
<polygon points="294.8,993.3 293.1,998.3 296.5,998.3" fill="#222"/>
<polygon points="294.8,1083.3 293.1,1078.3 296.5,1078.3" fill="#222"/>
<line x1="266.2" y1="874.6" x2="266.2" y2="993.3" stroke="#3a3a3a" stroke-width="0.8"/>
<polygon points="266.2,889.7 264.5,884.7 267.9,884.7" fill="#222"/>
<polygon points="266.2,917.5 264.5,922.5 267.9,922.5" fill="#222"/>
<polygon points="266.2,993.3 264.5,988.3 267.9,988.3" fill="#222"/>
<line x1="246.3" y1="959.5" x2="246.3" y2="1022.0" stroke="#3a3a3a" stroke-width="0.8"/>
<polygon points="246.3,959.5 244.6,964.5 248.0,964.5" fill="#222"/>
<polygon points="246.3,993.3 244.6,988.3 248.0,988.3" fill="#222"/>
<polygon points="246.3,1000.5 244.6,1005.5 248.0,1005.5" fill="#222"/>
<text x="291.7" y="871.5" font-size="14.5" text-anchor="middle" fill="#111" style="font-family:'Liberation Sans',sans-serif;font-weight:normal;stroke:#111;stroke-width:0.12px;" textLength="14.3" lengthAdjust="spacingAndGlyphs" transform="rotate(-90 291.7 871.5)">32</text>
<text x="263.9" y="902.4" font-size="14.5" text-anchor="middle" fill="#111" style="font-family:'Liberation Sans',sans-serif;font-weight:normal;stroke:#111;stroke-width:0.12px;" textLength="12.7" lengthAdjust="spacingAndGlyphs" transform="rotate(-90 263.9 902.4)">15</text>
<text x="290.9" y="932.2" font-size="14.5" text-anchor="middle" fill="#111" style="font-family:'Liberation Sans',sans-serif;font-weight:normal;stroke:#111;stroke-width:0.12px;" textLength="7" lengthAdjust="spacingAndGlyphs" transform="rotate(-90 290.9 932.2)">X</text>
<text x="263.9" y="954.4" font-size="14.5" text-anchor="middle" fill="#111" style="font-family:'Liberation Sans',sans-serif;font-weight:normal;stroke:#111;stroke-width:0.12px;" textLength="19.9" lengthAdjust="spacingAndGlyphs" transform="rotate(-90 263.9 954.4)">129</text>
<text x="245.2" y="978.2" font-size="14.5" text-anchor="middle" fill="#111" style="font-family:'Liberation Sans',sans-serif;font-weight:normal;stroke:#111;stroke-width:0.12px;" textLength="13.6" lengthAdjust="spacingAndGlyphs" transform="rotate(-90 245.2 978.2)">56</text>
<text x="245.2" y="1012.7" font-size="14.5" text-anchor="middle" fill="#111" style="font-family:'Liberation Sans',sans-serif;font-weight:normal;stroke:#111;stroke-width:0.12px;" textLength="12.7" lengthAdjust="spacingAndGlyphs" transform="rotate(-90 245.2 1012.7)">18</text>
<text x="291.2" y="1038.9" font-size="14.5" text-anchor="middle" fill="#111" style="font-family:'Liberation Sans',sans-serif;font-weight:normal;stroke:#111;stroke-width:0.12px;" textLength="6.4" lengthAdjust="spacingAndGlyphs" transform="rotate(-90 291.2 1038.9)">L</text>
<path d="M244.9,1090.0 L259.0,1090.0 L281.6,1115.0 L281.6,1132.0 L259.0,1157.8 L245.0,1157.8 L217.3,1132.0 L217.3,1115.0 Z" fill="#dcecf3" stroke="#454b50" stroke-width="0.9" stroke-linejoin="round"/>
<rect x="231.4" y="1105.5" width="36.1" height="36.7" fill="#dcecf3" stroke="#454b50" stroke-width="0.9" rx="3.5"/>
<line x1="249.8" y1="1083.0" x2="249.8" y2="1165.0" stroke="#666" stroke-width="0.7" stroke-dasharray="9,2,2,2"/>
<line x1="210.0" y1="1123.8" x2="288.0" y2="1123.8" stroke="#666" stroke-width="0.7" stroke-dasharray="9,2,2,2"/>
<circle cx="249.8" cy="1094.9" r="4.6" fill="#dcecf3" stroke="#454b50" stroke-width="0.8"/>
<circle cx="249.8" cy="1094.9" r="2.8" fill="none" stroke="#454b50" stroke-width="0.7"/>
<circle cx="249.8" cy="1151.5" r="4.6" fill="#dcecf3" stroke="#454b50" stroke-width="0.8"/>
<circle cx="249.8" cy="1151.5" r="2.8" fill="none" stroke="#454b50" stroke-width="0.7"/>
<circle cx="222.2" cy="1123.8" r="4.6" fill="#dcecf3" stroke="#454b50" stroke-width="0.8"/>
<circle cx="222.2" cy="1123.8" r="2.8" fill="none" stroke="#454b50" stroke-width="0.7"/>
<circle cx="276.3" cy="1123.8" r="4.6" fill="#dcecf3" stroke="#454b50" stroke-width="0.8"/>
<circle cx="276.3" cy="1123.8" r="2.8" fill="none" stroke="#454b50" stroke-width="0.7"/>
<text x="174.9" y="1102.6" font-size="14.5" fill="#111" style="font-family:'Liberation Sans',sans-serif;stroke:#111;stroke-width:0.12px" textLength="28.9" lengthAdjust="spacingAndGlyphs"><tspan fill="#555" style="stroke:none">ϕ</tspan>113</text>
<line x1="179.8" y1="1105.5" x2="205.3" y2="1105.5" stroke="#3a3a3a" stroke-width="0.8"/>
<line x1="205.3" y1="1105.5" x2="277.4" y2="1134.5" stroke="#3a3a3a" stroke-width="0.8"/>
<polygon points="222.0,1112.2 226.0,1110.5 226.0,1113.9" fill="#222"/>
<path d="M 214 1126 Q 216 1110 225 1101" fill="none" stroke="#444" stroke-width="0.7"/>
<path d="M 285 1122 Q 284 1138 276 1145" fill="none" stroke="#444" stroke-width="0.7"/>
<rect x="756.7" y="900.1" width="47.3" height="79.3" fill="#dcecf3" stroke="#454b50" stroke-width="0.9"/>
<rect x="753.3" y="979.4" width="55.6" height="12.2" fill="#dcecf3" stroke="#454b50" stroke-width="0.8"/>
<rect x="756.0" y="979.4" width="10.0" height="12.2" fill="#dcecf3" stroke="#454b50" stroke-width="0.7"/>
<rect x="795.0" y="979.4" width="10.0" height="12.2" fill="#dcecf3" stroke="#454b50" stroke-width="0.7"/>
<rect x="758.0" y="973.5" width="6.0" height="6.0" fill="#dcecf3" stroke="#454b50" stroke-width="0.7"/>
<rect x="797.0" y="973.5" width="6.0" height="6.0" fill="#dcecf3" stroke="#454b50" stroke-width="0.7"/>
<rect x="741.0" y="985.0" width="8.0" height="6.6" fill="#dcecf3" stroke="#454b50" stroke-width="0.7"/>
<rect x="812.0" y="985.0" width="8.0" height="6.6" fill="#dcecf3" stroke="#454b50" stroke-width="0.7"/>
<rect x="775.7" y="986.0" width="10.0" height="5.6" fill="#dcecf3" stroke="#454b50" stroke-width="0.7"/>
<path d="M 824.3 1002.1 C 830.7 1002.1 834.7 1005.3 836.3 1011.5 L 849.7 1048.2 L 834.2 1048.2 Z" fill="#dcecf3" stroke="#454b50" stroke-width="0.9"/>
<line x1="834.5" y1="1011.5" x2="834.5" y2="1048.2" stroke="#454b50" stroke-width="0.8"/>
<rect x="743.3" y="1012.2" width="61.8" height="36.0" fill="#dcecf3" stroke="#454b50" stroke-width="0.9"/>
<rect x="783.7" y="1002.8" width="45.0" height="45.3" fill="#dcecf3" stroke="none" stroke-width="1"/>
<path d="M738.3,996.6 L822.5,996.6 L822.5,1001.5 L794.2,1003.0 L785.0,1012.2 L738.3,1012.2 Z" fill="#dcecf3" stroke="#454b50" stroke-width="0.9" stroke-linejoin="round"/>
<line x1="745.4" y1="996.6" x2="745.4" y2="1012.2" stroke="#454b50" stroke-width="0.8"/>
<line x1="757.4" y1="996.6" x2="757.4" y2="1012.2" stroke="#454b50" stroke-width="0.8"/>
<path d="M 798.1 1002.1 L 824.3 1002.1 Q 834.2 1002.1 834.2 1011.5 L 834.2 1038.5 L 825.7 1044.9 L 798.8 1044.9 L 791.7 1038.5 L 791.7 1008.1 Q 791.7 1002.1 798.1 1002.1 Z" fill="#dcecf3" stroke="#454b50" stroke-width="0.9"/>
<rect x="738.3" y="990.9" width="84.2" height="5.7" fill="#dcecf3" stroke="#454b50" stroke-width="0.9"/>
<rect x="735.9" y="1048.2" width="120.5" height="7.8" fill="#dcecf3" stroke="#454b50" stroke-width="0.9"/>
<line x1="740.7" y1="1022.8" x2="852.7" y2="1022.8" stroke="#666" stroke-width="0.7" stroke-dasharray="9,2,2,2"/>
<circle cx="813.7" cy="1022.8" r="12.0" fill="#dcecf3" stroke="#454b50" stroke-width="0.8"/>
<circle cx="813.7" cy="1022.8" r="6.6" fill="#e8f2f7" stroke="#50565c" stroke-width="1.7"/>
<line x1="813.7" y1="1006.0" x2="813.7" y2="1041.0" stroke="#666" stroke-width="0.6"/>
<circle cx="799.8" cy="1008.9" r="3.6" fill="#c4d0d6" stroke="#454b50" stroke-width="0.8"/>
<line x1="795.7" y1="1004.8" x2="803.9" y2="1013.0" stroke="#454b50" stroke-width="0.7"/>
<line x1="795.7" y1="1013.0" x2="803.9" y2="1004.8" stroke="#454b50" stroke-width="0.7"/>
<circle cx="827.4" cy="1008.9" r="3.6" fill="#c4d0d6" stroke="#454b50" stroke-width="0.8"/>
<line x1="823.3" y1="1004.8" x2="831.5" y2="1013.0" stroke="#454b50" stroke-width="0.7"/>
<line x1="823.3" y1="1013.0" x2="831.5" y2="1004.8" stroke="#454b50" stroke-width="0.7"/>
<circle cx="799.8" cy="1036.2" r="3.6" fill="#c4d0d6" stroke="#454b50" stroke-width="0.8"/>
<line x1="795.7" y1="1032.1" x2="803.9" y2="1040.3" stroke="#454b50" stroke-width="0.7"/>
<line x1="795.7" y1="1040.3" x2="803.9" y2="1032.1" stroke="#454b50" stroke-width="0.7"/>
<circle cx="827.4" cy="1036.2" r="3.6" fill="#c4d0d6" stroke="#454b50" stroke-width="0.8"/>
<line x1="823.3" y1="1032.1" x2="831.5" y2="1040.3" stroke="#454b50" stroke-width="0.7"/>
<line x1="823.3" y1="1040.3" x2="831.5" y2="1032.1" stroke="#454b50" stroke-width="0.7"/>
<circle cx="780.7" cy="1022.8" r="4.2" fill="#e8f2f7" stroke="#454b50" stroke-width="0.8"/>
<circle cx="780.7" cy="1022.8" r="1.2" fill="#333" stroke="none" stroke-width="0.9"/>
<rect x="744.7" y="985.0" width="8.4" height="5.9" fill="#dcecf3" stroke="#454b50" stroke-width="0.8"/>
<line x1="748.9" y1="982.0" x2="748.9" y2="998.0" stroke="#666" stroke-width="0.6"/>
<rect x="776.5" y="985.0" width="8.4" height="5.9" fill="#dcecf3" stroke="#454b50" stroke-width="0.8"/>
<line x1="780.7" y1="982.0" x2="780.7" y2="998.0" stroke="#666" stroke-width="0.6"/>
<rect x="808.1" y="985.0" width="8.4" height="5.9" fill="#dcecf3" stroke="#454b50" stroke-width="0.8"/>
<line x1="812.3" y1="982.0" x2="812.3" y2="998.0" stroke="#666" stroke-width="0.6"/>
<rect x="751.0" y="1056.0" width="60.0" height="7.0" fill="#dcecf3" stroke="#454b50" stroke-width="0.9"/>
<rect x="762.6" y="1063.0" width="41.4" height="4.2" fill="#dcecf3" stroke="#454b50" stroke-width="0.9"/>
<rect x="768.0" y="1067.2" width="25.5" height="23.8" fill="#dcecf3" stroke="#454b50" stroke-width="0.9"/>
<line x1="772.7" y1="1069.0" x2="772.7" y2="1089.0" stroke="#777" stroke-width="0.6" stroke-dasharray="2,1.5"/>
<line x1="788.7" y1="1069.0" x2="788.7" y2="1089.0" stroke="#777" stroke-width="0.6" stroke-dasharray="2,1.5"/>
<rect x="768.0" y="1091.0" width="25.5" height="9.2" fill="#dcecf3" stroke="#454b50" stroke-width="0.9"/>
<rect x="773.3" y="1100.2" width="15.5" height="18.6" fill="#dcecf3" stroke="#454b50" stroke-width="0.9"/>
<line x1="780.7" y1="893.0" x2="780.7" y2="1135.0" stroke="#666" stroke-width="0.7" stroke-dasharray="9,2,2,2"/>
<text x="762.2" y="843.4" font-size="16.5" text-anchor="start" fill="#111" style="font-family:'Liberation Sans',sans-serif;font-weight:normal;stroke:#111;stroke-width:0.12px;" textLength="8.5" lengthAdjust="spacingAndGlyphs">X</text>
<line x1="779.6" y1="821.7" x2="779.6" y2="844.3" stroke="#3a3a3a" stroke-width="0.9"/>
<polygon points="779.6,848.3 777.8,842.3 781.4,842.3" fill="#222"/>
<path d="M846.7,831.7 L880.0,831.7 L891.0,843.9 L891.0,878.3 L880.0,889.4 L846.7,889.4 L836.7,878.3 L836.7,843.9 Z" fill="#dcecf3" stroke="#454b50" stroke-width="0.9" stroke-linejoin="round"/>
<path d="M864.0,837.2 L888.0,860.6 L864.0,883.9 L840.0,860.6 Z" fill="#dcecf3" stroke="#454b50" stroke-width="0.9" stroke-linejoin="round"/>
<line x1="864.0" y1="822.0" x2="864.0" y2="895.0" stroke="#666" stroke-width="0.7" stroke-dasharray="9,2,2,2"/>
<line x1="828.0" y1="860.6" x2="905.0" y2="860.6" stroke="#666" stroke-width="0.7" stroke-dasharray="9,2,2,2"/>
<circle cx="844.9" cy="842.1" r="4.5" fill="#dcecf3" stroke="#454b50" stroke-width="0.8"/>
<line x1="841.9" y1="845.1" x2="847.9" y2="839.1" stroke="#454b50" stroke-width="0.7"/>
<circle cx="883.3" cy="842.1" r="4.5" fill="#dcecf3" stroke="#454b50" stroke-width="0.8"/>
<line x1="880.3" y1="845.1" x2="886.3" y2="839.1" stroke="#454b50" stroke-width="0.7"/>
<circle cx="844.9" cy="879.4" r="4.5" fill="#dcecf3" stroke="#454b50" stroke-width="0.8"/>
<line x1="841.9" y1="882.4" x2="847.9" y2="876.4" stroke="#454b50" stroke-width="0.7"/>
<circle cx="883.3" cy="879.4" r="4.5" fill="#dcecf3" stroke="#454b50" stroke-width="0.8"/>
<line x1="880.3" y1="882.4" x2="886.3" y2="876.4" stroke="#454b50" stroke-width="0.7"/>
<text x="788.9" y="876.0" font-size="14.5" fill="#111" style="font-family:'Liberation Sans',sans-serif;stroke:#111;stroke-width:0.12px" textLength="30" lengthAdjust="spacingAndGlyphs"><tspan fill="#555" style="stroke:none">ϕ</tspan>113</text>
<line x1="787.8" y1="879.9" x2="820.0" y2="879.9" stroke="#3a3a3a" stroke-width="0.8"/>
<line x1="820.0" y1="879.9" x2="891.0" y2="848.3" stroke="#3a3a3a" stroke-width="0.8"/>
<path d="M 832 868 Q 836 878 842 882" fill="none" stroke="#444" stroke-width="0.7"/>
<path d="M 893 836 Q 898 843 897 855" fill="none" stroke="#444" stroke-width="0.7"/>
<rect x="726" y="911.5" width="8.5" height="8.5" fill="none" stroke="#333" stroke-width="0.9"/>
<text x="737.0" y="920.6" font-size="14.5" text-anchor="start" fill="#111" style="font-family:'Liberation Sans',sans-serif;font-weight:normal;stroke:#111;stroke-width:0.12px;" textLength="15" lengthAdjust="spacingAndGlyphs">65</text>
<line x1="724.4" y1="923.2" x2="804.0" y2="923.2" stroke="#3a3a3a" stroke-width="0.8"/>
<polygon points="756.7,923.2 761.7,921.5 761.7,924.9" fill="#222"/>
<polygon points="804.0,923.2 799.0,921.5 799.0,924.9" fill="#222"/>
<text x="707.4" y="1053.7" font-size="14.5" text-anchor="middle" fill="#111" style="font-family:'Liberation Sans',sans-serif;font-weight:normal;stroke:#111;stroke-width:0.12px;" textLength="14" lengthAdjust="spacingAndGlyphs" transform="rotate(-90 707.4 1053.7)">13</text>
<line x1="713.3" y1="1042.0" x2="713.3" y2="1062.0" stroke="#3a3a3a" stroke-width="0.8"/>
<line x1="708.0" y1="1049.0" x2="736.0" y2="1049.0" stroke="#3a3a3a" stroke-width="0.8"/>
<line x1="708.0" y1="1056.0" x2="736.0" y2="1056.0" stroke="#3a3a3a" stroke-width="0.8"/>
<polygon points="713.3,1049.0 711.6,1045.0 715.0,1045.0" fill="#222"/>
<polygon points="713.3,1056.0 711.6,1060.0 715.0,1060.0" fill="#222"/>
<text x="722.6" y="1068.8" font-size="14.5" fill="#111" style="font-family:'Liberation Sans',sans-serif;stroke:#111;stroke-width:0.12px" textLength="24.4" lengthAdjust="spacingAndGlyphs"><tspan fill="#555" style="stroke:none">ϕ</tspan>95</text>
<line x1="725.0" y1="1072.3" x2="811.0" y2="1072.3" stroke="#3a3a3a" stroke-width="0.8"/>
<line x1="751.0" y1="1062.0" x2="751.0" y2="1077.0" stroke="#3a3a3a" stroke-width="0.8"/>
<line x1="811.0" y1="1062.0" x2="811.0" y2="1077.0" stroke="#3a3a3a" stroke-width="0.8"/>
<polygon points="751.0,1072.3 756.0,1070.6 756.0,1074.0" fill="#222"/>
<polygon points="811.0,1072.3 806.0,1070.6 806.0,1074.0" fill="#222"/>
<text x="730.7" y="1086.3" font-size="14.5" fill="#111" style="font-family:'Liberation Sans',sans-serif;stroke:#111;stroke-width:0.12px" textLength="25.6" lengthAdjust="spacingAndGlyphs"><tspan fill="#555" style="stroke:none">ϕ</tspan>62</text>
<line x1="731.0" y1="1088.0" x2="804.0" y2="1088.0" stroke="#3a3a3a" stroke-width="0.8"/>
<line x1="762.6" y1="1067.0" x2="762.6" y2="1092.0" stroke="#3a3a3a" stroke-width="0.8"/>
<line x1="804.0" y1="1067.0" x2="804.0" y2="1092.0" stroke="#3a3a3a" stroke-width="0.8"/>
<polygon points="762.6,1088.0 767.6,1086.3 767.6,1089.7" fill="#222"/>
<polygon points="804.0,1088.0 799.0,1086.3 799.0,1089.7" fill="#222"/>
<text x="737.7" y="1103.7" font-size="14.5" fill="#111" style="font-family:'Liberation Sans',sans-serif;stroke:#111;stroke-width:0.12px" textLength="23.3" lengthAdjust="spacingAndGlyphs"><tspan fill="#555" style="stroke:none">ϕ</tspan>43</text>
<line x1="738.0" y1="1105.0" x2="793.5" y2="1105.0" stroke="#3a3a3a" stroke-width="0.8"/>
<polygon points="768.0,1105.0 773.0,1103.3 773.0,1106.7" fill="#222"/>
<polygon points="793.5,1105.0 788.5,1103.3 788.5,1106.7" fill="#222"/>
<text x="728.4" y="1130.5" font-size="13" text-anchor="start" fill="#111" style="font-family:'Liberation Sans',sans-serif;font-weight:normal;stroke:#111;stroke-width:0.12px;" textLength="37.2" lengthAdjust="spacingAndGlyphs">M20X2</text>
<line x1="722.0" y1="1131.6" x2="795.0" y2="1131.6" stroke="#3a3a3a" stroke-width="0.8"/>
<line x1="773.3" y1="1118.0" x2="773.3" y2="1136.0" stroke="#3a3a3a" stroke-width="0.8"/>
<line x1="788.8" y1="1118.0" x2="788.8" y2="1136.0" stroke="#3a3a3a" stroke-width="0.8"/>
<polygon points="773.3,1131.6 768.3,1129.9 768.3,1133.3" fill="#222"/>
<polygon points="788.8,1131.6 793.8,1129.9 793.8,1133.3" fill="#222"/>
<line x1="804.0" y1="900.1" x2="907.8" y2="900.1" stroke="#555" stroke-width="0.7"/>
<line x1="804.0" y1="979.4" x2="877.8" y2="979.4" stroke="#555" stroke-width="0.7"/>
<line x1="822.5" y1="991.6" x2="908.6" y2="991.6" stroke="#555" stroke-width="0.7"/>
<line x1="856.3" y1="1056.0" x2="908.0" y2="1056.0" stroke="#555" stroke-width="0.7"/>
<line x1="804.0" y1="1067.2" x2="880.7" y2="1067.2" stroke="#555" stroke-width="0.7"/>
<line x1="793.5" y1="1091.0" x2="860.0" y2="1091.0" stroke="#555" stroke-width="0.7"/>
<line x1="793.5" y1="1100.2" x2="908.0" y2="1100.2" stroke="#555" stroke-width="0.7"/>
<line x1="788.8" y1="1118.8" x2="908.0" y2="1118.8" stroke="#555" stroke-width="0.7"/>
<line x1="850.0" y1="1024.0" x2="880.0" y2="1024.0" stroke="#666" stroke-width="0.7" stroke-dasharray="9,2,2,2"/>
<line x1="902.7" y1="900.1" x2="902.7" y2="1118.8" stroke="#3a3a3a" stroke-width="0.8"/>
<polygon points="902.7,900.1 901.0,905.1 904.4,905.1" fill="#222"/>
<polygon points="902.7,991.6 901.0,986.6 904.4,986.6" fill="#222"/>
<polygon points="902.7,991.6 901.0,996.6 904.4,996.6" fill="#222"/>
<polygon points="902.7,1056.0 901.0,1051.0 904.4,1051.0" fill="#222"/>
<polygon points="902.7,1056.0 901.0,1061.0 904.4,1061.0" fill="#222"/>
<polygon points="902.7,1100.2 901.0,1095.2 904.4,1095.2" fill="#222"/>
<polygon points="902.7,1100.2 901.0,1105.2 904.4,1105.2" fill="#222"/>
<polygon points="902.7,1118.8 901.0,1113.8 904.4,1113.8" fill="#222"/>
<line x1="874.4" y1="960.0" x2="874.4" y2="1000.0" stroke="#3a3a3a" stroke-width="0.8"/>
<polygon points="874.4,979.4 872.7,974.4 876.1,974.4" fill="#222"/>
<polygon points="874.4,991.6 872.7,996.6 876.1,996.6" fill="#222"/>
<line x1="876.0" y1="1024.0" x2="876.0" y2="1091.0" stroke="#3a3a3a" stroke-width="0.8"/>
<polygon points="876.0,1024.0 874.3,1029.0 877.7,1029.0" fill="#222"/>
<polygon points="876.0,1056.0 874.3,1051.0 877.7,1051.0" fill="#222"/>
<polygon points="876.0,1067.2 874.3,1072.2 877.7,1072.2" fill="#222"/>
<line x1="854.0" y1="1071.0" x2="854.0" y2="1110.7" stroke="#3a3a3a" stroke-width="0.8"/>
<polygon points="854.0,1091.0 852.3,1086.0 855.7,1086.0" fill="#222"/>
<polygon points="854.0,1100.2 852.3,1105.2 855.7,1105.2" fill="#222"/>
<text x="898.5" y="946.1" font-size="14.5" text-anchor="middle" fill="#111" style="font-family:'Liberation Sans',sans-serif;font-weight:normal;stroke:#111;stroke-width:0.12px;" textLength="6.6" lengthAdjust="spacingAndGlyphs" transform="rotate(-90 898.5 946.1)">L</text>
<text x="870.7" y="969.5" font-size="14.5" text-anchor="middle" fill="#111" style="font-family:'Liberation Sans',sans-serif;font-weight:normal;stroke:#111;stroke-width:0.12px;" textLength="13.3" lengthAdjust="spacingAndGlyphs" transform="rotate(-90 870.7 969.5)">18</text>
<text x="899.2" y="1025.8" font-size="14.5" text-anchor="middle" fill="#111" style="font-family:'Liberation Sans',sans-serif;font-weight:normal;stroke:#111;stroke-width:0.12px;" textLength="21" lengthAdjust="spacingAndGlyphs" transform="rotate(-90 899.2 1025.8)">112</text>
<text x="871.4" y="1042.6" font-size="14.5" text-anchor="middle" fill="#111" style="font-family:'Liberation Sans',sans-serif;font-weight:normal;stroke:#111;stroke-width:0.12px;" textLength="15.2" lengthAdjust="spacingAndGlyphs" transform="rotate(-90 871.4 1042.6)">56</text>
<text x="871.4" y="1079.8" font-size="14.5" text-anchor="middle" fill="#111" style="font-family:'Liberation Sans',sans-serif;font-weight:normal;stroke:#111;stroke-width:0.12px;" textLength="15.1" lengthAdjust="spacingAndGlyphs" transform="rotate(-90 871.4 1079.8)">17</text>
<text x="851.6" y="1079.3" font-size="14.5" text-anchor="middle" fill="#111" style="font-family:'Liberation Sans',sans-serif;font-weight:normal;stroke:#111;stroke-width:0.12px;" textLength="14" lengthAdjust="spacingAndGlyphs" transform="rotate(-90 851.6 1079.3)">15</text>
<text x="899.2" y="1078.8" font-size="14.5" text-anchor="middle" fill="#111" style="font-family:'Liberation Sans',sans-serif;font-weight:normal;stroke:#111;stroke-width:0.12px;" textLength="8.1" lengthAdjust="spacingAndGlyphs" transform="rotate(-90 899.2 1078.8)">X</text>
<text x="899.2" y="1109.6" font-size="14.5" text-anchor="middle" fill="#111" style="font-family:'Liberation Sans',sans-serif;font-weight:normal;stroke:#111;stroke-width:0.12px;" textLength="13.9" lengthAdjust="spacingAndGlyphs" transform="rotate(-90 899.2 1109.6)">32</text>
<rect x="421.4" y="342.5" width="118.6" height="88.8" fill="#dcecf3" stroke="#454b50" stroke-width="0.9" rx="10"/>
<line x1="475.8" y1="342.5" x2="475.8" y2="431.3" stroke="#454b50" stroke-width="0.8"/>
<line x1="518.2" y1="342.5" x2="518.2" y2="431.3" stroke="#454b50" stroke-width="0.8"/>
<line x1="510.4" y1="346.2" x2="510.4" y2="427.6" stroke="#454b50" stroke-width="0.7"/>
<line x1="475.8" y1="346.2" x2="518.2" y2="346.2" stroke="#454b50" stroke-width="0.7"/>
<line x1="475.8" y1="427.6" x2="518.2" y2="427.6" stroke="#454b50" stroke-width="0.7"/>
<path d="M 519.6 363.9 L 532 363.9 Q 534.5 363.9 534.5 366.5 L 534.5 407.3 Q 534.5 409.9 532 409.9 L 519.6 409.9" fill="none" stroke="#454b50" stroke-width="0.8"/>
<rect x="487.0" y="336.5" width="26.0" height="6.0" fill="#dcecf3" stroke="#454b50" stroke-width="0.8"/>
<rect x="487.0" y="431.3" width="26.0" height="6.0" fill="#dcecf3" stroke="#454b50" stroke-width="0.8"/>
<rect x="478.5" y="338.4" width="7.0" height="4.1" fill="#dcecf3" stroke="#454b50" stroke-width="0.7"/>
<rect x="478.5" y="431.3" width="7.0" height="4.1" fill="#dcecf3" stroke="#454b50" stroke-width="0.7"/>
<rect x="510.0" y="338.4" width="7.0" height="4.1" fill="#dcecf3" stroke="#454b50" stroke-width="0.7"/>
<rect x="510.0" y="431.3" width="7.0" height="4.1" fill="#dcecf3" stroke="#454b50" stroke-width="0.7"/>
<rect x="490.5" y="318.3" width="11.2" height="18.2" fill="#dcecf3" stroke="#454b50" stroke-width="0.9"/>
<line x1="496.0" y1="320.0" x2="496.0" y2="336.0" stroke="#666" stroke-width="0.6"/>
<rect x="490.0" y="437.3" width="12.4" height="17.1" fill="#dcecf3" stroke="#454b50" stroke-width="0.9"/>
<line x1="496.0" y1="439.0" x2="496.0" y2="453.0" stroke="#666" stroke-width="0.6"/>
<circle cx="431.4" cy="353.0" r="9.6" fill="#dcecf3" stroke="#454b50" stroke-width="0.9"/>
<circle cx="431.4" cy="353.0" r="5.8" fill="#eef5f9" stroke="#454b50" stroke-width="0.9"/>
<circle cx="431.4" cy="420.2" r="9.6" fill="#dcecf3" stroke="#454b50" stroke-width="0.9"/>
<circle cx="431.4" cy="420.2" r="5.8" fill="#eef5f9" stroke="#454b50" stroke-width="0.9"/>
<circle cx="527.8" cy="353.0" r="9.6" fill="#dcecf3" stroke="#454b50" stroke-width="0.9"/>
<circle cx="527.8" cy="353.0" r="5.8" fill="#eef5f9" stroke="#454b50" stroke-width="0.9"/>
<circle cx="527.8" cy="420.2" r="9.6" fill="#dcecf3" stroke="#454b50" stroke-width="0.9"/>
<circle cx="527.8" cy="420.2" r="5.8" fill="#eef5f9" stroke="#454b50" stroke-width="0.9"/>
<circle cx="464.0" cy="386.6" r="42.4" fill="#dcebf3" stroke="#454b50" stroke-width="0.9"/>
<circle cx="464.0" cy="386.6" r="17.3" fill="#c8d9e2" stroke="#454b50" stroke-width="0.9"/>
<circle cx="464.0" cy="386.6" r="11.5" fill="#d5e4ec" stroke="#454b50" stroke-width="0.9"/>
<circle cx="464.0" cy="386.6" r="6.7" fill="#e6f0f5" stroke="#454b50" stroke-width="0.9"/>
<circle cx="431.8" cy="369.3" r="4.6" fill="#dcecf3" stroke="#454b50" stroke-width="0.8"/>
<circle cx="431.8" cy="369.3" r="2.6" fill="none" stroke="#454b50" stroke-width="0.6"/>
<line x1="425.8" y1="369.3" x2="437.8" y2="369.3" stroke="#666" stroke-width="0.5"/>
<line x1="431.8" y1="363.3" x2="431.8" y2="375.3" stroke="#666" stroke-width="0.5"/>
<circle cx="495.7" cy="369.3" r="4.6" fill="#dcecf3" stroke="#454b50" stroke-width="0.8"/>
<circle cx="495.7" cy="369.3" r="2.6" fill="none" stroke="#454b50" stroke-width="0.6"/>
<line x1="489.7" y1="369.3" x2="501.7" y2="369.3" stroke="#666" stroke-width="0.5"/>
<line x1="495.7" y1="363.3" x2="495.7" y2="375.3" stroke="#666" stroke-width="0.5"/>
<circle cx="431.8" cy="403.9" r="4.6" fill="#dcecf3" stroke="#454b50" stroke-width="0.8"/>
<circle cx="431.8" cy="403.9" r="2.6" fill="none" stroke="#454b50" stroke-width="0.6"/>
<line x1="425.8" y1="403.9" x2="437.8" y2="403.9" stroke="#666" stroke-width="0.5"/>
<line x1="431.8" y1="397.9" x2="431.8" y2="409.9" stroke="#666" stroke-width="0.5"/>
<circle cx="495.7" cy="403.9" r="4.6" fill="#dcecf3" stroke="#454b50" stroke-width="0.8"/>
<circle cx="495.7" cy="403.9" r="2.6" fill="none" stroke="#454b50" stroke-width="0.6"/>
<line x1="489.7" y1="403.9" x2="501.7" y2="403.9" stroke="#666" stroke-width="0.5"/>
<line x1="495.7" y1="397.9" x2="495.7" y2="409.9" stroke="#666" stroke-width="0.5"/>
<circle cx="464.0" cy="353.0" r="4.6" fill="#dcecf3" stroke="#454b50" stroke-width="0.8"/>
<circle cx="464.0" cy="353.0" r="2.6" fill="none" stroke="#454b50" stroke-width="0.6"/>
<line x1="458.0" y1="353.0" x2="470.0" y2="353.0" stroke="#666" stroke-width="0.5"/>
<line x1="464.0" y1="347.0" x2="464.0" y2="359.0" stroke="#666" stroke-width="0.5"/>
<circle cx="464.0" cy="420.2" r="4.6" fill="#dcecf3" stroke="#454b50" stroke-width="0.8"/>
<circle cx="464.0" cy="420.2" r="2.6" fill="none" stroke="#454b50" stroke-width="0.6"/>
<line x1="458.0" y1="420.2" x2="470.0" y2="420.2" stroke="#666" stroke-width="0.5"/>
<line x1="464.0" y1="414.2" x2="464.0" y2="426.2" stroke="#666" stroke-width="0.5"/>
<circle cx="464.0" cy="365.0" r="2.0" fill="none" stroke="#454b50" stroke-width="0.6"/>
<circle cx="464.0" cy="408.0" r="2.0" fill="none" stroke="#454b50" stroke-width="0.6"/>
<circle cx="442.5" cy="386.6" r="2.0" fill="none" stroke="#454b50" stroke-width="0.6"/>
<circle cx="485.5" cy="386.6" r="2.0" fill="none" stroke="#454b50" stroke-width="0.6"/>
<circle cx="447.0" cy="359.0" r="2.0" fill="none" stroke="#454b50" stroke-width="0.6"/>
<circle cx="484.0" cy="415.0" r="2.0" fill="none" stroke="#454b50" stroke-width="0.6"/>
<line x1="410.0" y1="386.6" x2="532.0" y2="386.6" stroke="#666" stroke-width="0.7" stroke-dasharray="9,2,2,2"/>
<line x1="464.0" y1="340.0" x2="464.0" y2="440.0" stroke="#666" stroke-width="0.7" stroke-dasharray="9,2,2,2"/>
<line x1="496.0" y1="310.0" x2="496.0" y2="458.0" stroke="#666" stroke-width="0.7" stroke-dasharray="9,2,2,2"/>
<text x="468.7" y="235.0" font-size="17" text-anchor="start" fill="#111" style="font-family:'Liberation Sans',sans-serif;font-weight:normal;stroke:#111;stroke-width:0.12px;" textLength="9" lengthAdjust="spacingAndGlyphs">X</text>
<text x="478.7" y="235.5" font-size="17" text-anchor="start" fill="#111" style="font-family:'Liberation Sans',sans-serif;font-weight:normal;stroke:#111;stroke-width:0.12px;" textLength="17" lengthAdjust="spacingAndGlyphs">向</text>
<text x="465.5" y="271.2" font-size="14.5" text-anchor="start" fill="#111" style="font-family:'Liberation Sans',sans-serif;font-weight:normal;stroke:#111;stroke-width:0.12px;" textLength="22" lengthAdjust="spacingAndGlyphs">205</text>
<line x1="421.2" y1="274.0" x2="540.7" y2="274.0" stroke="#3a3a3a" stroke-width="0.8"/>
<polygon points="421.2,274.0 426.2,272.3 426.2,275.7" fill="#222"/>
<polygon points="540.7,274.0 535.7,272.3 535.7,275.7" fill="#222"/>
<line x1="421.2" y1="270.5" x2="421.2" y2="342.0" stroke="#3a3a3a" stroke-width="0.8"/>
<line x1="540.7" y1="269.0" x2="540.7" y2="354.0" stroke="#3a3a3a" stroke-width="0.8"/>
<text x="466.0" y="288.9" font-size="14.5" text-anchor="start" fill="#111" style="font-family:'Liberation Sans',sans-serif;font-weight:normal;stroke:#111;stroke-width:0.12px;" textLength="21" lengthAdjust="spacingAndGlyphs">165</text>
<text x="399.0" y="288.9" font-size="14.5" text-anchor="start" fill="#111" style="font-family:'Liberation Sans',sans-serif;font-weight:normal;stroke:#111;stroke-width:0.12px;" textLength="14" lengthAdjust="spacingAndGlyphs">20</text>
<line x1="398.3" y1="292.0" x2="528.0" y2="292.0" stroke="#3a3a3a" stroke-width="0.8"/>
<polygon points="421.2,292.0 416.2,290.3 416.2,293.7" fill="#222"/>
<polygon points="432.2,292.0 437.2,290.3 437.2,293.7" fill="#222"/>
<polygon points="528.0,292.0 523.0,290.3 523.0,293.7" fill="#222"/>
<line x1="432.2" y1="286.8" x2="432.2" y2="353.0" stroke="#3a3a3a" stroke-width="0.8"/>
<line x1="528.0" y1="277.0" x2="528.0" y2="353.0" stroke="#3a3a3a" stroke-width="0.8"/>
<text x="440.7" y="309.4" font-size="14.5" text-anchor="start" fill="#111" style="font-family:'Liberation Sans',sans-serif;font-weight:normal;stroke:#111;stroke-width:0.12px;" textLength="14.2" lengthAdjust="spacingAndGlyphs">56</text>
<text x="470.7" y="309.4" font-size="14.5" text-anchor="start" fill="#111" style="font-family:'Liberation Sans',sans-serif;font-weight:normal;stroke:#111;stroke-width:0.12px;" textLength="14.6" lengthAdjust="spacingAndGlyphs">56</text>
<line x1="432.2" y1="311.2" x2="496.6" y2="311.2" stroke="#3a3a3a" stroke-width="0.8"/>
<polygon points="432.2,311.2 437.2,309.5 437.2,312.9" fill="#222"/>
<polygon points="464.5,311.2 459.5,309.5 459.5,312.9" fill="#222"/>
<polygon points="464.5,311.2 469.5,309.5 469.5,312.9" fill="#222"/>
<polygon points="496.6,311.2 491.6,309.5 491.6,312.9" fill="#222"/>
<line x1="496.6" y1="305.0" x2="496.6" y2="342.0" stroke="#3a3a3a" stroke-width="0.8"/>
<text x="405.3" y="328.9" font-size="14.5" text-anchor="middle" fill="#111" style="font-family:'Liberation Sans',sans-serif;font-weight:normal;stroke:#111;stroke-width:0.12px;" textLength="12" lengthAdjust="spacingAndGlyphs" transform="rotate(-90 405.3 328.9)">19</text>
<line x1="407.5" y1="317.0" x2="407.5" y2="360.0" stroke="#3a3a3a" stroke-width="0.8"/>
<polygon points="407.5,342.5 405.8,338.5 409.2,338.5" fill="#222"/>
<polygon points="407.5,353.0 405.8,357.0 409.2,357.0" fill="#222"/>
<text x="387.7" y="380.0" font-size="14.5" text-anchor="middle" fill="#111" style="font-family:'Liberation Sans',sans-serif;font-weight:normal;stroke:#111;stroke-width:0.12px;" textLength="21.2" lengthAdjust="spacingAndGlyphs" transform="rotate(-90 387.7 380.0)">152</text>
<line x1="389.8" y1="342.5" x2="389.8" y2="431.3" stroke="#3a3a3a" stroke-width="0.8"/>
<polygon points="389.8,342.5 388.1,347.5 391.5,347.5" fill="#222"/>
<polygon points="389.8,431.3 388.1,426.3 391.5,426.3" fill="#222"/>
<line x1="385.6" y1="342.5" x2="421.4" y2="342.5" stroke="#3a3a3a" stroke-width="0.8"/>
<line x1="385.6" y1="431.3" x2="421.4" y2="431.3" stroke="#3a3a3a" stroke-width="0.8"/>
<text x="405.0" y="380.0" font-size="14.5" text-anchor="middle" fill="#111" style="font-family:'Liberation Sans',sans-serif;font-weight:normal;stroke:#111;stroke-width:0.12px;" textLength="21.2" lengthAdjust="spacingAndGlyphs" transform="rotate(-90 405.0 380.0)">114</text>
<line x1="407.4" y1="353.0" x2="407.4" y2="420.2" stroke="#3a3a3a" stroke-width="0.8"/>
<polygon points="407.4,353.0 405.7,358.0 409.1,358.0" fill="#222"/>
<polygon points="407.4,420.2 405.7,415.2 409.1,415.2" fill="#222"/>
<line x1="403.0" y1="353.0" x2="431.0" y2="353.0" stroke="#3a3a3a" stroke-width="0.8"/>
<line x1="403.0" y1="420.2" x2="431.0" y2="420.2" stroke="#3a3a3a" stroke-width="0.8"/>
<text x="408.4" y="452.8" font-size="14.5" fill="#111" style="font-family:'Liberation Sans',sans-serif;stroke:#111;stroke-width:0.12px" textLength="29.6" lengthAdjust="spacingAndGlyphs"><tspan fill="#555" style="stroke:none">ϕ</tspan>145</text>
<line x1="408.0" y1="455.7" x2="444.0" y2="455.7" stroke="#3a3a3a" stroke-width="0.8"/>
<line x1="444.0" y1="455.7" x2="476.5" y2="347.3" stroke="#3a3a3a" stroke-width="0.8"/>
<text x="479.0" y="329.2" font-size="14.5" text-anchor="start" fill="#111" style="font-family:'Liberation Sans',sans-serif;font-weight:normal;stroke:#111;stroke-width:0.12px;" textLength="6.5" lengthAdjust="spacingAndGlyphs">A</text>
<text x="478.4" y="452.8" font-size="14.5" text-anchor="start" fill="#111" style="font-family:'Liberation Sans',sans-serif;font-weight:normal;stroke:#111;stroke-width:0.12px;" textLength="6.6" lengthAdjust="spacingAndGlyphs">B</text>
<text x="545.0" y="282.8" font-size="14.5" text-anchor="start" fill="#111" style="font-family:'Liberation Sans',sans-serif;font-weight:normal;stroke:#111;stroke-width:0.12px;" textLength="42" lengthAdjust="spacingAndGlyphs">4-ϕ18</text>
<line x1="541.0" y1="285.2" x2="583.7" y2="285.2" stroke="#3a3a3a" stroke-width="0.8"/>
<line x1="543.0" y1="285.2" x2="529.0" y2="353.7" stroke="#3a3a3a" stroke-width="0.8"/>
<line x1="502.0" y1="318.3" x2="593.0" y2="318.3" stroke="#555" stroke-width="0.7"/>
<line x1="502.0" y1="336.7" x2="577.0" y2="336.7" stroke="#555" stroke-width="0.7"/>
<line x1="502.0" y1="437.5" x2="577.0" y2="437.5" stroke="#555" stroke-width="0.7"/>
<line x1="502.0" y1="454.4" x2="593.0" y2="454.4" stroke="#555" stroke-width="0.7"/>
<line x1="558.5" y1="299.0" x2="558.5" y2="353.7" stroke="#3a3a3a" stroke-width="0.8"/>
<polygon points="558.5,318.3 556.8,314.3 560.2,314.3" fill="#222"/>
<polygon points="558.5,336.7 556.8,340.7 560.2,340.7" fill="#222"/>
<line x1="575.2" y1="311.7" x2="575.2" y2="355.0" stroke="#3a3a3a" stroke-width="0.8"/>
<polygon points="575.2,318.3 573.5,314.3 576.9,314.3" fill="#222"/>
<polygon points="575.2,336.7 573.5,340.7 576.9,340.7" fill="#222"/>
<line x1="587.7" y1="318.3" x2="587.7" y2="454.4" stroke="#3a3a3a" stroke-width="0.8"/>
<polygon points="587.7,318.3 586.0,323.3 589.4,323.3" fill="#222"/>
<polygon points="587.7,454.4 586.0,449.4 589.4,449.4" fill="#222"/>
<line x1="558.2" y1="425.0" x2="558.2" y2="474.0" stroke="#3a3a3a" stroke-width="0.8"/>
<polygon points="558.2,437.5 556.5,433.5 559.9,433.5" fill="#222"/>
<polygon points="558.2,454.4 556.5,458.4 559.9,458.4" fill="#222"/>
<line x1="575.2" y1="425.0" x2="575.2" y2="474.0" stroke="#3a3a3a" stroke-width="0.8"/>
<polygon points="575.2,437.5 573.5,433.5 576.9,433.5" fill="#222"/>
<polygon points="575.2,454.4 573.5,458.4 576.9,458.4" fill="#222"/>
<text x="556.4" y="306.1" font-size="14.5" text-anchor="middle" fill="#111" style="font-family:'Liberation Sans',sans-serif;font-weight:normal;stroke:#111;stroke-width:0.12px;" textLength="13.8" lengthAdjust="spacingAndGlyphs" transform="rotate(-90 556.4 306.1)">27</text>
<text x="572.2" y="328.8" font-size="14.5" text-anchor="middle" fill="#111" style="font-family:'Liberation Sans',sans-serif;font-weight:normal;stroke:#111;stroke-width:0.12px;" textLength="14.4" lengthAdjust="spacingAndGlyphs" transform="rotate(-90 572.2 328.8)">30</text>
<text x="585.5" y="386.6" font-size="14.5" text-anchor="middle" fill="#111" style="font-family:'Liberation Sans',sans-serif;font-weight:normal;stroke:#111;stroke-width:0.12px;" textLength="22.7" lengthAdjust="spacingAndGlyphs" transform="rotate(-90 585.5 386.6)">230</text>
<text x="572.2" y="446.0" font-size="14.5" text-anchor="middle" fill="#111" style="font-family:'Liberation Sans',sans-serif;font-weight:normal;stroke:#111;stroke-width:0.12px;" textLength="13.3" lengthAdjust="spacingAndGlyphs" transform="rotate(-90 572.2 446.0)">30</text>
<text x="555.5" y="465.0" font-size="14.5" text-anchor="middle" fill="#111" style="font-family:'Liberation Sans',sans-serif;font-weight:normal;stroke:#111;stroke-width:0.12px;" textLength="14" lengthAdjust="spacingAndGlyphs" transform="rotate(-90 555.5 465.0)">27</text>
<circle cx="494.5" cy="511.5" r="12.9" fill="#f3f7f9" stroke="#454b50" stroke-width="0.9"/>
<rect x="491.0" y="496.4" width="7.8" height="4.5" fill="#fff" stroke="#454b50" stroke-width="0.8"/>
<line x1="494.5" y1="488.0" x2="494.5" y2="530.0" stroke="#666" stroke-width="0.7" stroke-dasharray="9,2,2,2"/>
<line x1="476.0" y1="511.5" x2="514.0" y2="511.5" stroke="#666" stroke-width="0.7" stroke-dasharray="9,2,2,2"/>
<text x="492.0" y="485.5" font-size="14.5" text-anchor="start" fill="#111" style="font-family:'Liberation Sans',sans-serif;font-weight:normal;stroke:#111;stroke-width:0.12px;" textLength="6.8" lengthAdjust="spacingAndGlyphs">6</text>
<line x1="485.5" y1="490.0" x2="506.0" y2="490.0" stroke="#3a3a3a" stroke-width="0.8"/>
<polygon points="491.0,490.0 487.0,488.3 487.0,491.7" fill="#222"/>
<polygon points="498.8,490.0 502.8,488.3 502.8,491.7" fill="#222"/>
<line x1="491.0" y1="486.0" x2="491.0" y2="500.0" stroke="#3a3a3a" stroke-width="0.8"/>
<line x1="498.8" y1="486.0" x2="498.8" y2="500.0" stroke="#3a3a3a" stroke-width="0.8"/>
<line x1="498.8" y1="496.4" x2="530.0" y2="496.4" stroke="#3a3a3a" stroke-width="0.7"/>
<line x1="494.5" y1="524.4" x2="530.0" y2="524.4" stroke="#3a3a3a" stroke-width="0.7"/>
<line x1="528.8" y1="496.4" x2="528.8" y2="524.4" stroke="#3a3a3a" stroke-width="0.8"/>
<polygon points="528.8,496.4 527.1,501.4 530.5,501.4" fill="#222"/>
<polygon points="528.8,524.4 527.1,519.4 530.5,519.4" fill="#222"/>
<text x="544.6" y="511.3" font-size="14.5" text-anchor="middle" fill="#111" style="font-family:'Liberation Sans',sans-serif;font-weight:normal;stroke:#111;stroke-width:0.12px;" textLength="28.5" lengthAdjust="spacingAndGlyphs" transform="rotate(-90 544.6 511.3)">22.5</text>
<text x="509.7" y="542.4" font-size="14.5" fill="#111" style="font-family:'Liberation Sans',sans-serif;stroke:#111;stroke-width:0.12px" textLength="37.6" lengthAdjust="spacingAndGlyphs"><tspan fill="#555" style="stroke:none">ϕ</tspan>20h7</text>
<line x1="481.8" y1="511.0" x2="481.8" y2="548.0" stroke="#3a3a3a" stroke-width="0.8"/>
<line x1="507.3" y1="511.0" x2="507.3" y2="548.0" stroke="#3a3a3a" stroke-width="0.8"/>
<line x1="481.8" y1="545.6" x2="557.0" y2="545.6" stroke="#3a3a3a" stroke-width="0.8"/>
<polygon points="481.8,545.6 486.8,543.9 486.8,547.3" fill="#222"/>
<polygon points="507.3,545.6 502.3,543.9 502.3,547.3" fill="#222"/>
<rect x="421.4" y="953.4" width="118.6" height="88.8" fill="#dcecf3" stroke="#454b50" stroke-width="0.9" rx="10"/>
<line x1="475.8" y1="953.4" x2="475.8" y2="1042.2" stroke="#454b50" stroke-width="0.8"/>
<line x1="518.2" y1="953.4" x2="518.2" y2="1042.2" stroke="#454b50" stroke-width="0.8"/>
<line x1="510.4" y1="957.1" x2="510.4" y2="1038.5" stroke="#454b50" stroke-width="0.7"/>
<line x1="475.8" y1="957.1" x2="518.2" y2="957.1" stroke="#454b50" stroke-width="0.7"/>
<line x1="475.8" y1="1038.5" x2="518.2" y2="1038.5" stroke="#454b50" stroke-width="0.7"/>
<path d="M 519.6 974.8 L 532 974.8 Q 534.5 974.8 534.5 977.4 L 534.5 1018.2 Q 534.5 1020.8 532 1020.8 L 519.6 1020.8" fill="none" stroke="#454b50" stroke-width="0.8"/>
<rect x="487.0" y="947.4" width="26.0" height="6.0" fill="#dcecf3" stroke="#454b50" stroke-width="0.8"/>
<rect x="487.0" y="1042.2" width="26.0" height="6.0" fill="#dcecf3" stroke="#454b50" stroke-width="0.8"/>
<rect x="478.5" y="949.3" width="7.0" height="4.1" fill="#dcecf3" stroke="#454b50" stroke-width="0.7"/>
<rect x="478.5" y="1042.2" width="7.0" height="4.1" fill="#dcecf3" stroke="#454b50" stroke-width="0.7"/>
<rect x="510.0" y="949.3" width="7.0" height="4.1" fill="#dcecf3" stroke="#454b50" stroke-width="0.7"/>
<rect x="510.0" y="1042.2" width="7.0" height="4.1" fill="#dcecf3" stroke="#454b50" stroke-width="0.7"/>
<rect x="490.5" y="929.2" width="11.2" height="18.2" fill="#dcecf3" stroke="#454b50" stroke-width="0.9"/>
<line x1="496.0" y1="930.9" x2="496.0" y2="946.9" stroke="#666" stroke-width="0.6"/>
<rect x="490.0" y="1048.2" width="12.4" height="17.1" fill="#dcecf3" stroke="#454b50" stroke-width="0.9"/>
<line x1="496.0" y1="1049.9" x2="496.0" y2="1063.9" stroke="#666" stroke-width="0.6"/>
<circle cx="431.4" cy="963.9" r="9.6" fill="#dcecf3" stroke="#454b50" stroke-width="0.9"/>
<circle cx="431.4" cy="963.9" r="5.8" fill="#eef5f9" stroke="#454b50" stroke-width="0.9"/>
<circle cx="431.4" cy="1031.1" r="9.6" fill="#dcecf3" stroke="#454b50" stroke-width="0.9"/>
<circle cx="431.4" cy="1031.1" r="5.8" fill="#eef5f9" stroke="#454b50" stroke-width="0.9"/>
<circle cx="527.8" cy="963.9" r="9.6" fill="#dcecf3" stroke="#454b50" stroke-width="0.9"/>
<circle cx="527.8" cy="963.9" r="5.8" fill="#eef5f9" stroke="#454b50" stroke-width="0.9"/>
<circle cx="527.8" cy="1031.1" r="9.6" fill="#dcecf3" stroke="#454b50" stroke-width="0.9"/>
<circle cx="527.8" cy="1031.1" r="5.8" fill="#eef5f9" stroke="#454b50" stroke-width="0.9"/>
<circle cx="464.0" cy="997.5" r="42.4" fill="#dcebf3" stroke="#454b50" stroke-width="0.9"/>
<circle cx="464.0" cy="997.5" r="17.3" fill="#c8d9e2" stroke="#454b50" stroke-width="0.9"/>
<circle cx="464.0" cy="997.5" r="11.5" fill="#d5e4ec" stroke="#454b50" stroke-width="0.9"/>
<circle cx="464.0" cy="997.5" r="6.7" fill="#e6f0f5" stroke="#454b50" stroke-width="0.9"/>
<circle cx="431.8" cy="980.2" r="4.6" fill="#dcecf3" stroke="#454b50" stroke-width="0.8"/>
<circle cx="431.8" cy="980.2" r="2.6" fill="none" stroke="#454b50" stroke-width="0.6"/>
<line x1="425.8" y1="980.2" x2="437.8" y2="980.2" stroke="#666" stroke-width="0.5"/>
<line x1="431.8" y1="974.2" x2="431.8" y2="986.2" stroke="#666" stroke-width="0.5"/>
<circle cx="495.7" cy="980.2" r="4.6" fill="#dcecf3" stroke="#454b50" stroke-width="0.8"/>
<circle cx="495.7" cy="980.2" r="2.6" fill="none" stroke="#454b50" stroke-width="0.6"/>
<line x1="489.7" y1="980.2" x2="501.7" y2="980.2" stroke="#666" stroke-width="0.5"/>
<line x1="495.7" y1="974.2" x2="495.7" y2="986.2" stroke="#666" stroke-width="0.5"/>
<circle cx="431.8" cy="1014.8" r="4.6" fill="#dcecf3" stroke="#454b50" stroke-width="0.8"/>
<circle cx="431.8" cy="1014.8" r="2.6" fill="none" stroke="#454b50" stroke-width="0.6"/>
<line x1="425.8" y1="1014.8" x2="437.8" y2="1014.8" stroke="#666" stroke-width="0.5"/>
<line x1="431.8" y1="1008.8" x2="431.8" y2="1020.8" stroke="#666" stroke-width="0.5"/>
<circle cx="495.7" cy="1014.8" r="4.6" fill="#dcecf3" stroke="#454b50" stroke-width="0.8"/>
<circle cx="495.7" cy="1014.8" r="2.6" fill="none" stroke="#454b50" stroke-width="0.6"/>
<line x1="489.7" y1="1014.8" x2="501.7" y2="1014.8" stroke="#666" stroke-width="0.5"/>
<line x1="495.7" y1="1008.8" x2="495.7" y2="1020.8" stroke="#666" stroke-width="0.5"/>
<circle cx="464.0" cy="963.9" r="4.6" fill="#dcecf3" stroke="#454b50" stroke-width="0.8"/>
<circle cx="464.0" cy="963.9" r="2.6" fill="none" stroke="#454b50" stroke-width="0.6"/>
<line x1="458.0" y1="963.9" x2="470.0" y2="963.9" stroke="#666" stroke-width="0.5"/>
<line x1="464.0" y1="957.9" x2="464.0" y2="969.9" stroke="#666" stroke-width="0.5"/>
<circle cx="464.0" cy="1031.1" r="4.6" fill="#dcecf3" stroke="#454b50" stroke-width="0.8"/>
<circle cx="464.0" cy="1031.1" r="2.6" fill="none" stroke="#454b50" stroke-width="0.6"/>
<line x1="458.0" y1="1031.1" x2="470.0" y2="1031.1" stroke="#666" stroke-width="0.5"/>
<line x1="464.0" y1="1025.1" x2="464.0" y2="1037.1" stroke="#666" stroke-width="0.5"/>
<circle cx="464.0" cy="975.9" r="2.0" fill="none" stroke="#454b50" stroke-width="0.6"/>
<circle cx="464.0" cy="1018.9" r="2.0" fill="none" stroke="#454b50" stroke-width="0.6"/>
<circle cx="442.5" cy="997.5" r="2.0" fill="none" stroke="#454b50" stroke-width="0.6"/>
<circle cx="485.5" cy="997.5" r="2.0" fill="none" stroke="#454b50" stroke-width="0.6"/>
<circle cx="447.0" cy="969.9" r="2.0" fill="none" stroke="#454b50" stroke-width="0.6"/>
<circle cx="484.0" cy="1025.9" r="2.0" fill="none" stroke="#454b50" stroke-width="0.6"/>
<line x1="410.0" y1="997.5" x2="532.0" y2="997.5" stroke="#666" stroke-width="0.7" stroke-dasharray="9,2,2,2"/>
<line x1="464.0" y1="950.9" x2="464.0" y2="1050.9" stroke="#666" stroke-width="0.7" stroke-dasharray="9,2,2,2"/>
<line x1="496.0" y1="920.9" x2="496.0" y2="1068.9" stroke="#666" stroke-width="0.7" stroke-dasharray="9,2,2,2"/>
<text x="450.9" y="843.0" font-size="17" text-anchor="start" fill="#111" style="font-family:'Liberation Sans',sans-serif;font-weight:normal;stroke:#111;stroke-width:0.12px;" textLength="9" lengthAdjust="spacingAndGlyphs">X</text>
<text x="460.9" y="843.5" font-size="17" text-anchor="start" fill="#111" style="font-family:'Liberation Sans',sans-serif;font-weight:normal;stroke:#111;stroke-width:0.12px;" textLength="17" lengthAdjust="spacingAndGlyphs">向</text>
<text x="465.5" y="882.1" font-size="14.5" text-anchor="start" fill="#111" style="font-family:'Liberation Sans',sans-serif;font-weight:normal;stroke:#111;stroke-width:0.12px;" textLength="22" lengthAdjust="spacingAndGlyphs">205</text>
<line x1="421.2" y1="884.9" x2="540.7" y2="884.9" stroke="#3a3a3a" stroke-width="0.8"/>
<polygon points="421.2,884.9 426.2,883.2 426.2,886.6" fill="#222"/>
<polygon points="540.7,884.9 535.7,883.2 535.7,886.6" fill="#222"/>
<line x1="421.2" y1="881.4" x2="421.2" y2="952.9" stroke="#3a3a3a" stroke-width="0.8"/>
<line x1="540.7" y1="879.9" x2="540.7" y2="964.9" stroke="#3a3a3a" stroke-width="0.8"/>
<text x="466.0" y="899.8" font-size="14.5" text-anchor="start" fill="#111" style="font-family:'Liberation Sans',sans-serif;font-weight:normal;stroke:#111;stroke-width:0.12px;" textLength="21" lengthAdjust="spacingAndGlyphs">165</text>
<text x="399.0" y="899.8" font-size="14.5" text-anchor="start" fill="#111" style="font-family:'Liberation Sans',sans-serif;font-weight:normal;stroke:#111;stroke-width:0.12px;" textLength="14" lengthAdjust="spacingAndGlyphs">20</text>
<line x1="398.3" y1="902.9" x2="528.0" y2="902.9" stroke="#3a3a3a" stroke-width="0.8"/>
<polygon points="421.2,902.9 416.2,901.2 416.2,904.6" fill="#222"/>
<polygon points="432.2,902.9 437.2,901.2 437.2,904.6" fill="#222"/>
<polygon points="528.0,902.9 523.0,901.2 523.0,904.6" fill="#222"/>
<line x1="432.2" y1="897.7" x2="432.2" y2="963.9" stroke="#3a3a3a" stroke-width="0.8"/>
<line x1="528.0" y1="887.9" x2="528.0" y2="963.9" stroke="#3a3a3a" stroke-width="0.8"/>
<text x="440.7" y="920.3" font-size="14.5" text-anchor="start" fill="#111" style="font-family:'Liberation Sans',sans-serif;font-weight:normal;stroke:#111;stroke-width:0.12px;" textLength="14.2" lengthAdjust="spacingAndGlyphs">56</text>
<text x="470.7" y="920.3" font-size="14.5" text-anchor="start" fill="#111" style="font-family:'Liberation Sans',sans-serif;font-weight:normal;stroke:#111;stroke-width:0.12px;" textLength="14.6" lengthAdjust="spacingAndGlyphs">56</text>
<line x1="432.2" y1="922.1" x2="496.6" y2="922.1" stroke="#3a3a3a" stroke-width="0.8"/>
<polygon points="432.2,922.1 437.2,920.4 437.2,923.8" fill="#222"/>
<polygon points="464.5,922.1 459.5,920.4 459.5,923.8" fill="#222"/>
<polygon points="464.5,922.1 469.5,920.4 469.5,923.8" fill="#222"/>
<polygon points="496.6,922.1 491.6,920.4 491.6,923.8" fill="#222"/>
<line x1="496.6" y1="915.9" x2="496.6" y2="952.9" stroke="#3a3a3a" stroke-width="0.8"/>
<text x="405.3" y="939.8" font-size="14.5" text-anchor="middle" fill="#111" style="font-family:'Liberation Sans',sans-serif;font-weight:normal;stroke:#111;stroke-width:0.12px;" textLength="12" lengthAdjust="spacingAndGlyphs" transform="rotate(-90 405.3 939.8)">19</text>
<line x1="407.5" y1="927.9" x2="407.5" y2="970.9" stroke="#3a3a3a" stroke-width="0.8"/>
<polygon points="407.5,953.4 405.8,949.4 409.2,949.4" fill="#222"/>
<polygon points="407.5,963.9 405.8,967.9 409.2,967.9" fill="#222"/>
<text x="387.7" y="990.9" font-size="14.5" text-anchor="middle" fill="#111" style="font-family:'Liberation Sans',sans-serif;font-weight:normal;stroke:#111;stroke-width:0.12px;" textLength="21.2" lengthAdjust="spacingAndGlyphs" transform="rotate(-90 387.7 990.9)">152</text>
<line x1="389.8" y1="953.4" x2="389.8" y2="1042.2" stroke="#3a3a3a" stroke-width="0.8"/>
<polygon points="389.8,953.4 388.1,958.4 391.5,958.4" fill="#222"/>
<polygon points="389.8,1042.2 388.1,1037.2 391.5,1037.2" fill="#222"/>
<line x1="385.6" y1="953.4" x2="421.4" y2="953.4" stroke="#3a3a3a" stroke-width="0.8"/>
<line x1="385.6" y1="1042.2" x2="421.4" y2="1042.2" stroke="#3a3a3a" stroke-width="0.8"/>
<text x="405.0" y="990.9" font-size="14.5" text-anchor="middle" fill="#111" style="font-family:'Liberation Sans',sans-serif;font-weight:normal;stroke:#111;stroke-width:0.12px;" textLength="21.2" lengthAdjust="spacingAndGlyphs" transform="rotate(-90 405.0 990.9)">114</text>
<line x1="407.4" y1="963.9" x2="407.4" y2="1031.1" stroke="#3a3a3a" stroke-width="0.8"/>
<polygon points="407.4,963.9 405.7,968.9 409.1,968.9" fill="#222"/>
<polygon points="407.4,1031.1 405.7,1026.1 409.1,1026.1" fill="#222"/>
<line x1="403.0" y1="963.9" x2="431.0" y2="963.9" stroke="#3a3a3a" stroke-width="0.8"/>
<line x1="403.0" y1="1031.1" x2="431.0" y2="1031.1" stroke="#3a3a3a" stroke-width="0.8"/>
<text x="408.4" y="1063.7" font-size="14.5" fill="#111" style="font-family:'Liberation Sans',sans-serif;stroke:#111;stroke-width:0.12px" textLength="29.6" lengthAdjust="spacingAndGlyphs"><tspan fill="#555" style="stroke:none">ϕ</tspan>145</text>
<line x1="408.0" y1="1066.6" x2="444.0" y2="1066.6" stroke="#3a3a3a" stroke-width="0.8"/>
<line x1="444.0" y1="1066.6" x2="476.5" y2="958.2" stroke="#3a3a3a" stroke-width="0.8"/>
<text x="479.0" y="940.1" font-size="14.5" text-anchor="start" fill="#111" style="font-family:'Liberation Sans',sans-serif;font-weight:normal;stroke:#111;stroke-width:0.12px;" textLength="6.5" lengthAdjust="spacingAndGlyphs">A</text>
<text x="478.4" y="1063.7" font-size="14.5" text-anchor="start" fill="#111" style="font-family:'Liberation Sans',sans-serif;font-weight:normal;stroke:#111;stroke-width:0.12px;" textLength="6.6" lengthAdjust="spacingAndGlyphs">B</text>
<text x="545.0" y="893.7" font-size="14.5" text-anchor="start" fill="#111" style="font-family:'Liberation Sans',sans-serif;font-weight:normal;stroke:#111;stroke-width:0.12px;" textLength="42" lengthAdjust="spacingAndGlyphs">4-ϕ18</text>
<line x1="541.0" y1="896.1" x2="583.7" y2="896.1" stroke="#3a3a3a" stroke-width="0.8"/>
<line x1="543.0" y1="896.1" x2="529.0" y2="964.6" stroke="#3a3a3a" stroke-width="0.8"/>
<line x1="502.0" y1="929.2" x2="593.0" y2="929.2" stroke="#555" stroke-width="0.7"/>
<line x1="502.0" y1="947.6" x2="577.0" y2="947.6" stroke="#555" stroke-width="0.7"/>
<line x1="502.0" y1="1048.4" x2="577.0" y2="1048.4" stroke="#555" stroke-width="0.7"/>
<line x1="502.0" y1="1065.3" x2="593.0" y2="1065.3" stroke="#555" stroke-width="0.7"/>
<line x1="558.5" y1="909.9" x2="558.5" y2="964.6" stroke="#3a3a3a" stroke-width="0.8"/>
<polygon points="558.5,929.2 556.8,925.2 560.2,925.2" fill="#222"/>
<polygon points="558.5,947.6 556.8,951.6 560.2,951.6" fill="#222"/>
<line x1="575.2" y1="922.6" x2="575.2" y2="965.9" stroke="#3a3a3a" stroke-width="0.8"/>
<polygon points="575.2,929.2 573.5,925.2 576.9,925.2" fill="#222"/>
<polygon points="575.2,947.6 573.5,951.6 576.9,951.6" fill="#222"/>
<line x1="587.7" y1="929.2" x2="587.7" y2="1065.3" stroke="#3a3a3a" stroke-width="0.8"/>
<polygon points="587.7,929.2 586.0,934.2 589.4,934.2" fill="#222"/>
<polygon points="587.7,1065.3 586.0,1060.3 589.4,1060.3" fill="#222"/>
<line x1="558.2" y1="1035.9" x2="558.2" y2="1084.9" stroke="#3a3a3a" stroke-width="0.8"/>
<polygon points="558.2,1048.4 556.5,1044.4 559.9,1044.4" fill="#222"/>
<polygon points="558.2,1065.3 556.5,1069.3 559.9,1069.3" fill="#222"/>
<line x1="575.2" y1="1035.9" x2="575.2" y2="1084.9" stroke="#3a3a3a" stroke-width="0.8"/>
<polygon points="575.2,1048.4 573.5,1044.4 576.9,1044.4" fill="#222"/>
<polygon points="575.2,1065.3 573.5,1069.3 576.9,1069.3" fill="#222"/>
<text x="556.4" y="917.0" font-size="14.5" text-anchor="middle" fill="#111" style="font-family:'Liberation Sans',sans-serif;font-weight:normal;stroke:#111;stroke-width:0.12px;" textLength="13.8" lengthAdjust="spacingAndGlyphs" transform="rotate(-90 556.4 917.0)">27</text>
<text x="572.2" y="939.7" font-size="14.5" text-anchor="middle" fill="#111" style="font-family:'Liberation Sans',sans-serif;font-weight:normal;stroke:#111;stroke-width:0.12px;" textLength="14.4" lengthAdjust="spacingAndGlyphs" transform="rotate(-90 572.2 939.7)">30</text>
<text x="585.5" y="997.5" font-size="14.5" text-anchor="middle" fill="#111" style="font-family:'Liberation Sans',sans-serif;font-weight:normal;stroke:#111;stroke-width:0.12px;" textLength="22.7" lengthAdjust="spacingAndGlyphs" transform="rotate(-90 585.5 997.5)">230</text>
<text x="572.2" y="1056.9" font-size="14.5" text-anchor="middle" fill="#111" style="font-family:'Liberation Sans',sans-serif;font-weight:normal;stroke:#111;stroke-width:0.12px;" textLength="13.3" lengthAdjust="spacingAndGlyphs" transform="rotate(-90 572.2 1056.9)">30</text>
<text x="555.5" y="1075.9" font-size="14.5" text-anchor="middle" fill="#111" style="font-family:'Liberation Sans',sans-serif;font-weight:normal;stroke:#111;stroke-width:0.12px;" textLength="14" lengthAdjust="spacingAndGlyphs" transform="rotate(-90 555.5 1075.9)">27</text>
<circle cx="494.5" cy="1129.1" r="12.9" fill="#f3f7f9" stroke="#454b50" stroke-width="0.9"/>
<rect x="491.0" y="1114.0" width="7.8" height="4.5" fill="#fff" stroke="#454b50" stroke-width="0.8"/>
<line x1="494.5" y1="1105.6" x2="494.5" y2="1147.6" stroke="#666" stroke-width="0.7" stroke-dasharray="9,2,2,2"/>
<line x1="476.0" y1="1129.1" x2="514.0" y2="1129.1" stroke="#666" stroke-width="0.7" stroke-dasharray="9,2,2,2"/>
<text x="492.0" y="1103.1" font-size="14.5" text-anchor="start" fill="#111" style="font-family:'Liberation Sans',sans-serif;font-weight:normal;stroke:#111;stroke-width:0.12px;" textLength="6.8" lengthAdjust="spacingAndGlyphs">6</text>
<line x1="485.5" y1="1107.6" x2="506.0" y2="1107.6" stroke="#3a3a3a" stroke-width="0.8"/>
<polygon points="491.0,1107.6 487.0,1105.9 487.0,1109.3" fill="#222"/>
<polygon points="498.8,1107.6 502.8,1105.9 502.8,1109.3" fill="#222"/>
<line x1="491.0" y1="1103.6" x2="491.0" y2="1117.6" stroke="#3a3a3a" stroke-width="0.8"/>
<line x1="498.8" y1="1103.6" x2="498.8" y2="1117.6" stroke="#3a3a3a" stroke-width="0.8"/>
<line x1="498.8" y1="1114.0" x2="530.0" y2="1114.0" stroke="#3a3a3a" stroke-width="0.7"/>
<line x1="494.5" y1="1142.0" x2="530.0" y2="1142.0" stroke="#3a3a3a" stroke-width="0.7"/>
<line x1="528.8" y1="1114.0" x2="528.8" y2="1142.0" stroke="#3a3a3a" stroke-width="0.8"/>
<polygon points="528.8,1114.0 527.1,1119.0 530.5,1119.0" fill="#222"/>
<polygon points="528.8,1142.0 527.1,1137.0 530.5,1137.0" fill="#222"/>
<text x="544.6" y="1128.9" font-size="14.5" text-anchor="middle" fill="#111" style="font-family:'Liberation Sans',sans-serif;font-weight:normal;stroke:#111;stroke-width:0.12px;" textLength="28.5" lengthAdjust="spacingAndGlyphs" transform="rotate(-90 544.6 1128.9)">22.5</text>
<text x="509.7" y="1160.0" font-size="14.5" fill="#111" style="font-family:'Liberation Sans',sans-serif;stroke:#111;stroke-width:0.12px" textLength="37.6" lengthAdjust="spacingAndGlyphs"><tspan fill="#555" style="stroke:none">ϕ</tspan>20h7</text>
<line x1="481.8" y1="1128.6" x2="481.8" y2="1165.6" stroke="#3a3a3a" stroke-width="0.8"/>
<line x1="507.3" y1="1128.6" x2="507.3" y2="1165.6" stroke="#3a3a3a" stroke-width="0.8"/>
<line x1="481.8" y1="1163.2" x2="557.0" y2="1163.2" stroke="#3a3a3a" stroke-width="0.8"/>
<polygon points="481.8,1163.2 486.8,1161.5 486.8,1164.9" fill="#222"/>
<polygon points="507.3,1163.2 502.3,1161.5 502.3,1164.9" fill="#222"/>
</svg></body></html>
